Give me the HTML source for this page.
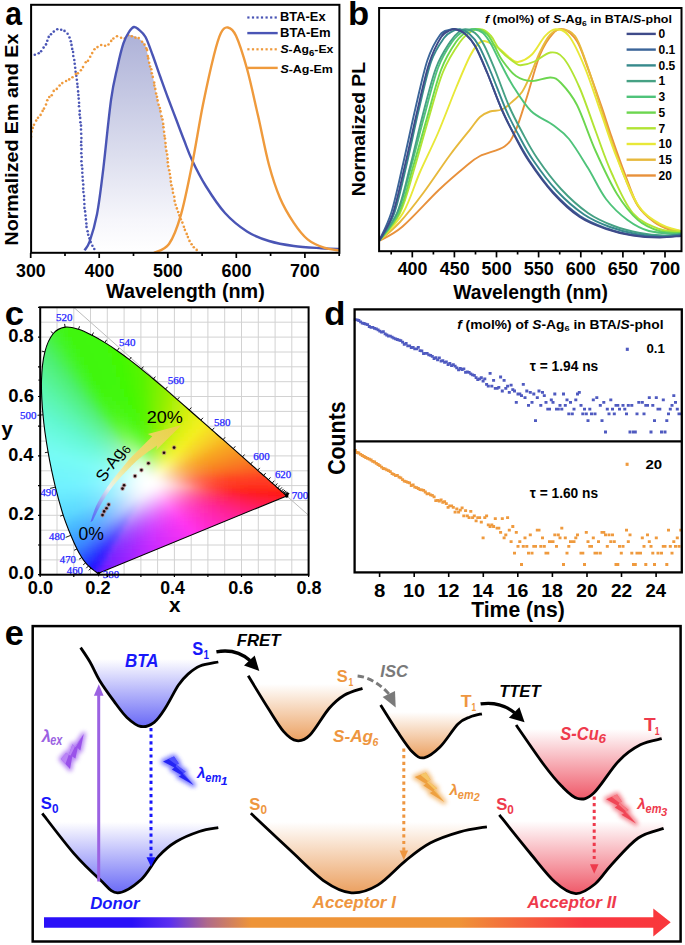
<!DOCTYPE html>
<html><head><meta charset="utf-8"><style>
html,body{margin:0;padding:0;background:#fff;width:685px;height:945px;overflow:hidden}
svg{display:block;font-family:"Liberation Sans",sans-serif}
</style></head><body>
<svg width="685" height="945" viewBox="0 0 685 945">
<defs><linearGradient id="ga" x1="0" y1="0" x2="0" y2="1"><stop offset="0" stop-color="#aeb2d8"/><stop offset="0.55" stop-color="#dcdeee"/><stop offset="0.85" stop-color="#f6f6fb"/><stop offset="1" stop-color="#ffffff"/></linearGradient><clipPath id="cpa"><rect x="31.1" y="4.8" width="308.3" height="248"/></clipPath></defs>
<g clip-path="url(#cpa)">
<path d="M85 249.7 86 248.5 87 247.1 88 245.4 89 243.2 90 240.4 91 237.4 92 234.3 93 231 94 227.4 95 223.5 96 219.2 97 214.3 98 208.7 99 202.3 100 195.1 101 187.4 102 179.4 103 171.2 104 162.8 105 153.8 106 144.5 107 135 108 125.7 109 116.6 110 108 111 100.1 112 93.3 113 87.3 114 82.1 115 77.5 116 73.2 117 68.9 118 64.4 119 60 120 55.7 121 51.7 122 48 123 44.6 124 41.7 125 39.2 126 37.1 127 36.2 128 35.6 129 35.2 130 35 131 35.1 132 35.3 133 35.7 134 36.1 135 36.6 136 37.2 137 37.8 138 38.4 139 39 140 39.6 141 40.3 142 41 143 41.9 144 42.9 145 44.3 146 47.2 147 51.7 148 56.3 149 61.1 150 65.8 151 70 152 73.8 153 77.7 154 82.1 155 87.1 156 92.4 157 97.3 158 101.6 159 105.4 160 109.2 161 113.3 162 118 163 123.7 164 130.8 165 138.7 166 147 167 155.2 168 162.9 169 169.6 170 175.6 171 181.3 172 186.8 173 191.9 174 196.7 175 201.2 176 205.3 177 209.1 178 212.3 179 215.2 180 217.7 181 220 182 222.3 183 224.5 184 226.9 185 229.5 186 232.1 187 234.6 188 237.1 189 239.4 190 241.6 191 243.5 192 245.1 193 246.3 194 247.4 195 248.4 196 249.2 197 250 198 250.8 L198 252.8 L85 252.8 Z" fill="url(#ga)"/>
<circle cx="30.8" cy="55" r="1.3" fill="#4a55b5"/>
<circle cx="34.8" cy="54.8" r="1.3" fill="#4a55b5"/>
<circle cx="38.7" cy="53.2" r="1.3" fill="#4a55b5"/>
<circle cx="41.1" cy="51.2" r="1.3" fill="#4a55b5"/>
<circle cx="43.6" cy="47.6" r="1.3" fill="#4a55b5"/>
<circle cx="46" cy="44.4" r="1.3" fill="#4a55b5"/>
<circle cx="47.3" cy="40.7" r="1.3" fill="#4a55b5"/>
<circle cx="48.7" cy="36.9" r="1.3" fill="#4a55b5"/>
<circle cx="51" cy="34.3" r="1.3" fill="#4a55b5"/>
<circle cx="53.8" cy="31.6" r="1.3" fill="#4a55b5"/>
<circle cx="57.3" cy="29.3" r="1.3" fill="#4a55b5"/>
<circle cx="61.2" cy="29.7" r="1.3" fill="#4a55b5"/>
<circle cx="64.5" cy="30.9" r="1.3" fill="#4a55b5"/>
<circle cx="67.6" cy="33.8" r="1.3" fill="#4a55b5"/>
<circle cx="69.5" cy="37.5" r="1.3" fill="#4a55b5"/>
<circle cx="70.8" cy="41.2" r="1.3" fill="#4a55b5"/>
<circle cx="71.5" cy="44.9" r="1.3" fill="#4a55b5"/>
<circle cx="72.2" cy="48.9" r="1.3" fill="#4a55b5"/>
<circle cx="73.1" cy="52" r="1.3" fill="#4a55b5"/>
<circle cx="73.3" cy="56" r="1.3" fill="#4a55b5"/>
<circle cx="74.3" cy="60" r="1.3" fill="#4a55b5"/>
<circle cx="74.7" cy="63.8" r="1.3" fill="#4a55b5"/>
<circle cx="75.2" cy="67.7" r="1.3" fill="#4a55b5"/>
<circle cx="75.6" cy="71.7" r="1.3" fill="#4a55b5"/>
<circle cx="76.3" cy="75.8" r="1.3" fill="#4a55b5"/>
<circle cx="76.8" cy="79.7" r="1.3" fill="#4a55b5"/>
<circle cx="77.3" cy="83.7" r="1.3" fill="#4a55b5"/>
<circle cx="77.6" cy="86.9" r="1.3" fill="#4a55b5"/>
<circle cx="78.1" cy="91.4" r="1.3" fill="#4a55b5"/>
<circle cx="78.4" cy="95" r="1.3" fill="#4a55b5"/>
<circle cx="78.7" cy="98.6" r="1.3" fill="#4a55b5"/>
<circle cx="79.1" cy="102.7" r="1.3" fill="#4a55b5"/>
<circle cx="79" cy="106.2" r="1.3" fill="#4a55b5"/>
<circle cx="79.7" cy="110.9" r="1.3" fill="#4a55b5"/>
<circle cx="79.6" cy="114.6" r="1.3" fill="#4a55b5"/>
<circle cx="80.2" cy="117.9" r="1.3" fill="#4a55b5"/>
<circle cx="80.4" cy="122.3" r="1.3" fill="#4a55b5"/>
<circle cx="81" cy="125.6" r="1.3" fill="#4a55b5"/>
<circle cx="81" cy="129.5" r="1.3" fill="#4a55b5"/>
<circle cx="81.2" cy="133.7" r="1.3" fill="#4a55b5"/>
<circle cx="81.4" cy="138.1" r="1.3" fill="#4a55b5"/>
<circle cx="81.2" cy="141.9" r="1.3" fill="#4a55b5"/>
<circle cx="81.2" cy="145.2" r="1.3" fill="#4a55b5"/>
<circle cx="81.5" cy="149.1" r="1.3" fill="#4a55b5"/>
<circle cx="81.3" cy="153.2" r="1.3" fill="#4a55b5"/>
<circle cx="81.7" cy="157" r="1.3" fill="#4a55b5"/>
<circle cx="81.4" cy="161.3" r="1.3" fill="#4a55b5"/>
<circle cx="81.8" cy="165.3" r="1.3" fill="#4a55b5"/>
<circle cx="82.3" cy="168.8" r="1.3" fill="#4a55b5"/>
<circle cx="82.3" cy="172.8" r="1.3" fill="#4a55b5"/>
<circle cx="82.6" cy="176.7" r="1.3" fill="#4a55b5"/>
<circle cx="82.8" cy="180.6" r="1.3" fill="#4a55b5"/>
<circle cx="83.3" cy="184.5" r="1.3" fill="#4a55b5"/>
<circle cx="83.2" cy="188.5" r="1.3" fill="#4a55b5"/>
<circle cx="83.4" cy="192.1" r="1.3" fill="#4a55b5"/>
<circle cx="84.1" cy="196.1" r="1.3" fill="#4a55b5"/>
<circle cx="84.1" cy="199.7" r="1.3" fill="#4a55b5"/>
<circle cx="84.4" cy="204" r="1.3" fill="#4a55b5"/>
<circle cx="84.4" cy="207.9" r="1.3" fill="#4a55b5"/>
<circle cx="85.1" cy="211.4" r="1.3" fill="#4a55b5"/>
<circle cx="85.5" cy="215.5" r="1.3" fill="#4a55b5"/>
<circle cx="85.9" cy="219.4" r="1.3" fill="#4a55b5"/>
<circle cx="86.4" cy="223.5" r="1.3" fill="#4a55b5"/>
<circle cx="86.5" cy="226.9" r="1.3" fill="#4a55b5"/>
<circle cx="87.6" cy="231.3" r="1.3" fill="#4a55b5"/>
<circle cx="88.2" cy="234.8" r="1.3" fill="#4a55b5"/>
<circle cx="89.5" cy="238.4" r="1.3" fill="#4a55b5"/>
<circle cx="90.7" cy="242.1" r="1.3" fill="#4a55b5"/>
<circle cx="92.4" cy="245.8" r="1.3" fill="#4a55b5"/>
<circle cx="94.3" cy="249" r="1.3" fill="#4a55b5"/>
<circle cx="30.7" cy="139.7" r="1.3" fill="#ef9a3c"/>
<circle cx="31.1" cy="136.7" r="1.3" fill="#ef9a3c"/>
<circle cx="31.6" cy="131.6" r="1.3" fill="#ef9a3c"/>
<circle cx="32.8" cy="127.9" r="1.3" fill="#ef9a3c"/>
<circle cx="34" cy="124.8" r="1.3" fill="#ef9a3c"/>
<circle cx="36.2" cy="120.6" r="1.3" fill="#ef9a3c"/>
<circle cx="38" cy="117.8" r="1.3" fill="#ef9a3c"/>
<circle cx="40.6" cy="114.9" r="1.3" fill="#ef9a3c"/>
<circle cx="42.6" cy="110.9" r="1.3" fill="#ef9a3c"/>
<circle cx="44" cy="108.6" r="1.3" fill="#ef9a3c"/>
<circle cx="46" cy="104.5" r="1.3" fill="#ef9a3c"/>
<circle cx="47.3" cy="100.2" r="1.3" fill="#ef9a3c"/>
<circle cx="49.3" cy="97" r="1.3" fill="#ef9a3c"/>
<circle cx="51.7" cy="95.3" r="1.3" fill="#ef9a3c"/>
<circle cx="53.7" cy="90.9" r="1.3" fill="#ef9a3c"/>
<circle cx="56.8" cy="88.9" r="1.3" fill="#ef9a3c"/>
<circle cx="59.6" cy="85.5" r="1.3" fill="#ef9a3c"/>
<circle cx="62.3" cy="83.1" r="1.3" fill="#ef9a3c"/>
<circle cx="66.1" cy="81" r="1.3" fill="#ef9a3c"/>
<circle cx="69.2" cy="79.4" r="1.3" fill="#ef9a3c"/>
<circle cx="72.5" cy="77.2" r="1.3" fill="#ef9a3c"/>
<circle cx="75.8" cy="74.1" r="1.3" fill="#ef9a3c"/>
<circle cx="77.9" cy="73.2" r="1.3" fill="#ef9a3c"/>
<circle cx="80.9" cy="70.3" r="1.3" fill="#ef9a3c"/>
<circle cx="83" cy="67.1" r="1.3" fill="#ef9a3c"/>
<circle cx="85.7" cy="62.3" r="1.3" fill="#ef9a3c"/>
<circle cx="88" cy="60.7" r="1.3" fill="#ef9a3c"/>
<circle cx="90.2" cy="56.7" r="1.3" fill="#ef9a3c"/>
<circle cx="92.2" cy="53.1" r="1.3" fill="#ef9a3c"/>
<circle cx="94.5" cy="49.3" r="1.3" fill="#ef9a3c"/>
<circle cx="97.5" cy="47.1" r="1.3" fill="#ef9a3c"/>
<circle cx="101.2" cy="45" r="1.3" fill="#ef9a3c"/>
<circle cx="105.1" cy="45.8" r="1.3" fill="#ef9a3c"/>
<circle cx="108.5" cy="44.5" r="1.3" fill="#ef9a3c"/>
<circle cx="111.2" cy="40.9" r="1.3" fill="#ef9a3c"/>
<circle cx="113.4" cy="38.5" r="1.3" fill="#ef9a3c"/>
<circle cx="117" cy="36.3" r="1.3" fill="#ef9a3c"/>
<circle cx="121.1" cy="37.8" r="1.3" fill="#ef9a3c"/>
<circle cx="124.8" cy="38.6" r="1.3" fill="#ef9a3c"/>
<circle cx="128.2" cy="35.1" r="1.3" fill="#ef9a3c"/>
<circle cx="131.8" cy="36.2" r="1.3" fill="#ef9a3c"/>
<circle cx="135.4" cy="37.6" r="1.3" fill="#ef9a3c"/>
<circle cx="138.7" cy="38.1" r="1.3" fill="#ef9a3c"/>
<circle cx="142.1" cy="41.8" r="1.3" fill="#ef9a3c"/>
<circle cx="144.5" cy="44.6" r="1.3" fill="#ef9a3c"/>
<circle cx="146.3" cy="48.2" r="1.3" fill="#ef9a3c"/>
<circle cx="147.1" cy="50.1" r="1.3" fill="#ef9a3c"/>
<circle cx="147.8" cy="56" r="1.3" fill="#ef9a3c"/>
<circle cx="148.3" cy="58.4" r="1.3" fill="#ef9a3c"/>
<circle cx="149.2" cy="62.8" r="1.3" fill="#ef9a3c"/>
<circle cx="150.1" cy="66.5" r="1.3" fill="#ef9a3c"/>
<circle cx="151.3" cy="69.2" r="1.3" fill="#ef9a3c"/>
<circle cx="151.8" cy="73.2" r="1.3" fill="#ef9a3c"/>
<circle cx="152.8" cy="76.9" r="1.3" fill="#ef9a3c"/>
<circle cx="154.2" cy="82.6" r="1.3" fill="#ef9a3c"/>
<circle cx="154.4" cy="85.5" r="1.3" fill="#ef9a3c"/>
<circle cx="155.3" cy="88.9" r="1.3" fill="#ef9a3c"/>
<circle cx="156.1" cy="93.5" r="1.3" fill="#ef9a3c"/>
<circle cx="157" cy="96.7" r="1.3" fill="#ef9a3c"/>
<circle cx="157.6" cy="100.4" r="1.3" fill="#ef9a3c"/>
<circle cx="158.6" cy="104.7" r="1.3" fill="#ef9a3c"/>
<circle cx="159.9" cy="108.1" r="1.3" fill="#ef9a3c"/>
<circle cx="160.5" cy="111.4" r="1.3" fill="#ef9a3c"/>
<circle cx="161.5" cy="116.2" r="1.3" fill="#ef9a3c"/>
<circle cx="162.5" cy="119.5" r="1.3" fill="#ef9a3c"/>
<circle cx="163.2" cy="123.9" r="1.3" fill="#ef9a3c"/>
<circle cx="163.5" cy="127.2" r="1.3" fill="#ef9a3c"/>
<circle cx="164.1" cy="131.8" r="1.3" fill="#ef9a3c"/>
<circle cx="164.5" cy="135.7" r="1.3" fill="#ef9a3c"/>
<circle cx="165" cy="138.5" r="1.3" fill="#ef9a3c"/>
<circle cx="165.5" cy="143.1" r="1.3" fill="#ef9a3c"/>
<circle cx="165.7" cy="146.8" r="1.3" fill="#ef9a3c"/>
<circle cx="166.4" cy="150.9" r="1.3" fill="#ef9a3c"/>
<circle cx="167.2" cy="154.5" r="1.3" fill="#ef9a3c"/>
<circle cx="167.6" cy="158.6" r="1.3" fill="#ef9a3c"/>
<circle cx="167.8" cy="162.3" r="1.3" fill="#ef9a3c"/>
<circle cx="168.2" cy="166.3" r="1.3" fill="#ef9a3c"/>
<circle cx="169.2" cy="170.2" r="1.3" fill="#ef9a3c"/>
<circle cx="169.9" cy="174" r="1.3" fill="#ef9a3c"/>
<circle cx="170.5" cy="177.7" r="1.3" fill="#ef9a3c"/>
<circle cx="170.8" cy="181.6" r="1.3" fill="#ef9a3c"/>
<circle cx="171.4" cy="185.2" r="1.3" fill="#ef9a3c"/>
<circle cx="172.6" cy="188.9" r="1.3" fill="#ef9a3c"/>
<circle cx="173" cy="192.8" r="1.3" fill="#ef9a3c"/>
<circle cx="174.3" cy="196.7" r="1.3" fill="#ef9a3c"/>
<circle cx="174.6" cy="200.9" r="1.3" fill="#ef9a3c"/>
<circle cx="175.6" cy="204.7" r="1.3" fill="#ef9a3c"/>
<circle cx="176.9" cy="208.4" r="1.3" fill="#ef9a3c"/>
<circle cx="178.2" cy="212" r="1.3" fill="#ef9a3c"/>
<circle cx="179.4" cy="215.4" r="1.3" fill="#ef9a3c"/>
<circle cx="180.8" cy="219.3" r="1.3" fill="#ef9a3c"/>
<circle cx="182.4" cy="222.6" r="1.3" fill="#ef9a3c"/>
<circle cx="183.9" cy="226.7" r="1.3" fill="#ef9a3c"/>
<circle cx="184.9" cy="229.9" r="1.3" fill="#ef9a3c"/>
<circle cx="186.7" cy="233.9" r="1.3" fill="#ef9a3c"/>
<circle cx="187.9" cy="237.1" r="1.3" fill="#ef9a3c"/>
<circle cx="189.5" cy="240.9" r="1.3" fill="#ef9a3c"/>
<circle cx="191.6" cy="244.2" r="1.3" fill="#ef9a3c"/>
<circle cx="193.8" cy="247.3" r="1.3" fill="#ef9a3c"/>
<circle cx="196.7" cy="249.9" r="1.3" fill="#ef9a3c"/>
<path d="M84.6 250.3C85.4 248.9 87.5 247.6 89.6 241.6C91.7 235.6 94.7 226.3 97 214.3C99.3 202.3 100.9 188.8 103.2 169.6C105.5 150.4 108.7 116.6 111.1 99.4C113.5 82.2 115.5 76 117.5 66.7C119.5 57.4 121.5 49.2 123.4 43.4C125.4 37.6 127.4 34.4 129.2 31.7C130.9 29 132.3 27.4 133.9 27C135.5 26.6 136.6 27.6 138.5 29.3C140.4 31 143.2 32.7 145.5 37C147.8 41.3 150.2 48.5 152.6 55C155 61.5 157.4 68.8 160 76C162.6 83.2 165.3 90.8 168 98C170.7 105.2 173.3 112 176 119C178.7 126 181.3 133.2 184 140C186.7 146.8 188.4 152.3 192 160C195.6 167.7 200.3 177.2 205.8 186C211.3 194.8 218.1 205.4 225 213C231.9 220.6 239.7 226.8 247 231.5C254.3 236.2 261.2 238.6 269 241C276.8 243.4 285.1 244.8 293.8 246C302.5 247.2 313.8 247.7 321.3 248.2C328.8 248.7 336.1 248.9 339 249" fill="none" stroke="#4a55b5" stroke-width="2.4" stroke-linejoin="round"/>
<path d="M154.1 252.8C156.6 251.3 164.5 250.4 169 244C173.5 237.6 177.2 227.8 181 214.6C184.8 201.4 188.3 183.3 192 165C195.7 146.7 199.3 122.9 203 104.6C206.7 86.3 211 66.9 214 55C217 43.1 218.6 37.6 220.9 33C223.2 28.4 225.3 27 227.8 27.5C230.3 28 232.8 28.9 236 35.8C239.2 42.7 243.3 55.5 247 68.8C250.7 82.1 254.3 99.6 258 115.6C261.7 131.6 265.3 151.3 269 165C272.7 178.7 275.9 188.3 280 198C284.1 207.7 289.2 216 293.8 222.9C298.4 229.8 302.6 235.3 307.6 239.4C312.6 243.5 318.8 245.9 324 247.7C329.2 249.5 336.5 249.9 339 250.4" fill="none" stroke="#ef9a3c" stroke-width="2.4" stroke-linejoin="round"/>
</g>
<rect x="31.1" y="4.8" width="308.3" height="248" fill="none" stroke="#000" stroke-width="2"/>
<line x1="30.7" y1="252.8" x2="30.7" y2="258" stroke="#000" stroke-width="1.7"/>
<line x1="65" y1="252.8" x2="65" y2="256" stroke="#000" stroke-width="1.7"/>
<line x1="99.2" y1="252.8" x2="99.2" y2="258" stroke="#000" stroke-width="1.7"/>
<line x1="133.5" y1="252.8" x2="133.5" y2="256" stroke="#000" stroke-width="1.7"/>
<line x1="167.8" y1="252.8" x2="167.8" y2="258" stroke="#000" stroke-width="1.7"/>
<line x1="202.1" y1="252.8" x2="202.1" y2="256" stroke="#000" stroke-width="1.7"/>
<line x1="236.3" y1="252.8" x2="236.3" y2="258" stroke="#000" stroke-width="1.7"/>
<line x1="270.6" y1="252.8" x2="270.6" y2="256" stroke="#000" stroke-width="1.7"/>
<line x1="304.9" y1="252.8" x2="304.9" y2="258" stroke="#000" stroke-width="1.7"/>
<line x1="339.2" y1="252.8" x2="339.2" y2="256" stroke="#000" stroke-width="1.7"/>
<text x="16.06" y="277.02" font-size="18.03" font-weight="bold" textLength="29.62" lengthAdjust="spacingAndGlyphs">300</text>
<text x="84.79" y="277.02" font-size="18.03" font-weight="bold" textLength="29.43" lengthAdjust="spacingAndGlyphs">400</text>
<text x="153.07" y="277.02" font-size="18.03" font-weight="bold" textLength="29.71" lengthAdjust="spacingAndGlyphs">500</text>
<text x="221.52" y="277.02" font-size="18.03" font-weight="bold" textLength="29.80" lengthAdjust="spacingAndGlyphs">600</text>
<text x="289.89" y="277.02" font-size="18.03" font-weight="bold" textLength="29.99" lengthAdjust="spacingAndGlyphs">700</text>
<text x="106.10" y="298.47" font-size="20.64" font-weight="bold" textLength="158.66" lengthAdjust="spacingAndGlyphs">Wavelength (nm)</text>
<text transform="translate(17.61 245.48) rotate(-90)" font-size="18.64" font-weight="bold" textLength="211.79" lengthAdjust="spacingAndGlyphs">Normalized Em and Ex</text>
<text x="5.20" y="25.37" font-size="33.45" font-weight="bold" textLength="16.74" lengthAdjust="spacingAndGlyphs">a</text>
<rect x="247.3" y="16.4" width="2.2" height="2.2" fill="#4a55b5"/>
<rect x="251.9" y="16.4" width="2.2" height="2.2" fill="#4a55b5"/>
<rect x="256.4" y="16.4" width="2.2" height="2.2" fill="#4a55b5"/>
<rect x="260.9" y="16.4" width="2.2" height="2.2" fill="#4a55b5"/>
<rect x="265.5" y="16.4" width="2.2" height="2.2" fill="#4a55b5"/>
<rect x="270.1" y="16.4" width="2.2" height="2.2" fill="#4a55b5"/>
<rect x="274.6" y="16.4" width="2.2" height="2.2" fill="#4a55b5"/>
<rect x="247.3" y="48.2" width="2.2" height="2.2" fill="#ef9a3c"/>
<rect x="251.9" y="48.2" width="2.2" height="2.2" fill="#ef9a3c"/>
<rect x="256.4" y="48.2" width="2.2" height="2.2" fill="#ef9a3c"/>
<rect x="260.9" y="48.2" width="2.2" height="2.2" fill="#ef9a3c"/>
<rect x="265.5" y="48.2" width="2.2" height="2.2" fill="#ef9a3c"/>
<rect x="270.1" y="48.2" width="2.2" height="2.2" fill="#ef9a3c"/>
<rect x="274.6" y="48.2" width="2.2" height="2.2" fill="#ef9a3c"/>
<line x1="247.3" y1="33.1" x2="277.7" y2="33.1" stroke="#4a55b5" stroke-width="2.4"/>
<line x1="247.3" y1="67.9" x2="277.7" y2="67.9" stroke="#ef9a3c" stroke-width="2.4"/>
<text x="280.06" y="21.40" font-size="12.03" font-weight="bold" textLength="45.49" lengthAdjust="spacingAndGlyphs">BTA-Ex</text>
<text x="280.05" y="37.20" font-size="12.75" font-weight="bold" textLength="50.60" lengthAdjust="spacingAndGlyphs">BTA-Em</text>
<text x="280.4" y="52.5" font-size="11.6" font-weight="bold" textLength="53" lengthAdjust="spacingAndGlyphs"><tspan font-style="italic">S</tspan>-Ag<tspan font-size="9" dy="3.2">6</tspan><tspan dy="-3.2">-Ex</tspan></text>
<text x="280.4" y="73" font-size="11.6" font-weight="bold" textLength="52.5" lengthAdjust="spacingAndGlyphs"><tspan font-style="italic">S</tspan>-Ag-Em</text>
<defs><clipPath id="cpb"><rect x="379.1" y="8" width="302.4" height="243.2"/></clipPath></defs>
<g clip-path="url(#cpb)" fill="none" stroke-width="1.9" stroke-linejoin="round">
<path d="M379 241C382.9 238.6 392.3 235.2 402.3 226.7C412.3 218.2 428.4 199.9 438.8 190C449.2 180.1 458.1 172.7 465 167C471.9 161.3 473.4 159.4 480 156C486.6 152.6 498.6 150.7 504.5 146.5C510.4 142.3 511.7 139.1 515.4 131C519.1 122.9 522.5 110.7 526.6 98C530.7 85.3 535.5 65.8 539.9 55C544.3 44.2 549.1 37.6 553.1 33.3C557.1 29 559.8 28 563.8 29.3C567.8 30.6 573 34.9 577 41.3C581 47.7 583.7 57.2 587.7 67.8C591.7 78.4 597 93.5 601 105C605 116.5 607.6 125.4 611.6 136.9C615.6 148.4 620.5 162.5 624.9 174C629.3 185.5 633.2 198 638.1 206C643 214 648.7 217.9 654 221.9C659.3 225.9 665.5 228.2 670 229.9C674.5 231.6 679.2 231.7 681 232" stroke="#e8913b"/>
<path d="M379 241C382.5 237.8 392.5 230.2 400 222C407.5 213.8 415.7 203.2 424 192C432.3 180.8 442.3 165.4 450 155C457.7 144.6 465 135.9 470 129.6C475 123.3 476.7 120 480 117C483.3 114 486.3 112.8 490 111.5C493.7 110.2 498.2 111.2 502 109.5C505.8 107.8 509.7 103.9 513 101C516.3 98.1 519.2 96.2 522 92C524.8 87.8 527 82.7 530 76C533 69.3 536.7 58.8 540 52C543.3 45.2 546.5 38.8 550 35C553.5 31.2 556.8 29 561 29.2C565.2 29.4 570.8 30.5 575 36C579.2 41.5 581.8 50.5 586 62C590.2 73.5 595.7 91.7 600 105C604.3 118.3 607.8 129.8 612 142C616.2 154.2 620.7 167.3 625 178C629.3 188.7 633 198.7 638 206C643 213.3 649.7 218.2 655 222C660.3 225.8 665.7 227.5 670 229C674.3 230.5 679.2 230.7 681 231" stroke="#e7b93c"/>
<path d="M379 241C383 236.3 396.2 224.5 403 213C409.8 201.5 414.2 185.3 420 172C425.8 158.7 432 147 438 133C444 119 450.7 100.8 456 88C461.3 75.2 466.3 63.3 470 56C473.7 48.7 475.7 46.5 478 44C480.3 41.5 481.7 41 484 41C486.3 41 489.3 42.6 492 44C494.7 45.4 497 46.9 500 49.2C503 51.5 507 55.9 510 58C513 60.1 514.4 62.6 518 62C521.6 61.4 527.4 58.9 531.9 54.5C536.4 50.1 541.2 40.1 545.2 35.9C549.2 31.7 551.8 29.3 555.8 29.3C559.8 29.3 564.1 29.6 569 36C573.9 42.4 579.7 55 585 67.8C590.3 80.6 595.7 98 601 113C606.3 128 610.7 142.7 616.9 158C623.1 173.3 630.9 194.1 638 205C645.1 215.9 652.2 219.2 659.4 223.5C666.6 227.8 677.4 229.8 681 231" stroke="#e8e838"/>
<path d="M379 241C382.5 236.3 394.1 225.2 400 213C405.9 200.8 409.8 183.7 414.5 168C419.2 152.3 423.8 135 428.5 119C433.2 103 437.8 84.8 443 72C448.2 59.2 455.2 48.8 460 42C464.8 35.2 468.3 33.1 472 31C475.7 28.9 478.8 28.7 482 29.5C485.2 30.3 488 32.6 491 36C494 39.4 495.8 45.4 500 50C504.2 54.6 512.3 61 516 63.5C519.7 66 518.9 65.3 522 65C525.1 64.7 529.8 63.6 534.5 61.5C539.2 59.4 545.6 53 550.5 52.5C555.4 52 558.9 52.6 563.8 58.5C568.7 64.4 574.4 75.9 579.7 88C585 100.1 590.3 116.8 595.6 131C600.9 145.2 605.4 159.3 611.6 173C617.8 186.7 624.8 203.7 632.8 213C640.8 222.3 651.4 225.9 659.4 229C667.4 232.1 677.4 231.1 681 231.5" stroke="#b2e434"/>
<path d="M379 241C382.3 236.3 393.3 225.3 399 213C404.7 200.7 408.3 182.8 413 167C417.7 151.2 422.3 134.2 427 118C431.7 101.8 436.2 82.7 441 70C445.8 57.3 451.5 48.5 456 42C460.5 35.5 464.3 33.1 468 31C471.7 28.9 474.8 28.7 478 29.2C481.2 29.7 484.3 31.4 487 34C489.7 36.6 491.5 40.7 494 45C496.5 49.3 498.3 54.8 502 60C505.7 65.2 511 72.5 516 76C521 79.5 526.2 80.8 532 81C537.8 81.2 545.7 77.2 550.5 77.5C555.3 77.8 556.6 78.4 561 83C565.4 87.6 571.2 93.7 577 105C582.8 116.3 588.9 136.2 595.6 151C602.3 165.8 609.9 182.5 617 194C624.1 205.5 630.9 213.8 638 220C645.1 226.2 652.2 228.8 659.4 231C666.6 233.2 677.4 232.7 681 233" stroke="#6cd64f"/>
<path d="M379 241C382.1 236.3 392.2 225.3 397.5 213C402.8 200.7 406.6 183 411 167C415.4 151 419.5 133.5 424 117C428.5 100.5 433.3 80.5 438 68C442.7 55.5 447.7 48.2 452 42C456.3 35.8 460.3 33.1 464 31C467.7 28.9 470.8 28.9 474 29.2C477.2 29.5 480.2 30.5 483 33C485.8 35.5 488.2 39.2 491 44C493.8 48.8 496.3 55 500 62C503.7 69 507.8 77.8 513 86C518.2 94.2 524.3 104.5 531 111C537.7 117.5 546.7 120.3 553 125C559.3 129.7 563.2 131.8 569 139C574.8 146.2 581.8 158 588 168C594.2 178 599.4 190.3 606 199C612.6 207.7 620.3 214.7 627.5 220C634.7 225.3 640.1 228.6 649 231C657.9 233.4 675.7 233.9 681 234.5" stroke="#4fc37a"/>
<path d="M379 241C382 236.3 391.8 225.3 397 213C402.2 200.7 405.8 183.2 410 167C414.2 150.8 418.2 132.5 422.5 116C426.8 99.5 431.4 80.3 436 68C440.6 55.7 446 48.2 450 42C454 35.8 457.3 33.1 460 31C462.7 28.9 463.5 28.9 466 29.2C468.5 29.5 472 30.4 475 33C478 35.6 480.7 38.8 484 45C487.3 51.2 490.8 59.8 495 70C499.2 80.2 504.5 95.7 509 106C513.5 116.3 517.3 123.3 522 132C526.7 140.7 530.5 148.5 537 158C543.5 167.5 552.5 179.8 561 189C569.5 198.2 579.2 206.8 588 213C596.8 219.2 605.3 222.7 614 226C622.7 229.3 631.7 231.4 640 233C648.3 234.6 657.2 235.3 664 235.5C670.8 235.7 678.2 234.2 681 234" stroke="#46a184"/>
<path d="M379 241C381.5 236.5 389.4 226.7 394 214C398.6 201.3 402.4 182.2 406.5 165C410.6 147.8 414.4 128.2 418.5 111C422.6 93.8 426.8 74.2 431 62C435.2 49.8 440.3 43.2 444 38C447.7 32.8 450.3 32.5 453 31C455.7 29.5 457.3 28.8 460 29.2C462.7 29.6 465.8 30.7 469 33.5C472.2 36.3 475.3 39.5 479 46C482.7 52.5 486.5 61.8 491 72.5C495.5 83.2 501.5 99.8 506 110C510.5 120.2 513.5 125.7 518 134C522.5 142.3 526.5 150.5 533 160C539.5 169.5 548.5 181.9 557 191C565.5 200.1 575.2 208.5 584 214.5C592.8 220.5 601.3 223.8 610 227C618.7 230.2 627.3 232.4 636 234C644.7 235.6 654.5 236.4 662 236.5C669.5 236.6 677.8 234.8 681 234.5" stroke="#378a8c"/>
<path d="M379 241C381.1 236.2 387.4 225.2 391.5 212C395.6 198.8 399.5 179.3 403.5 162C407.5 144.7 411.5 125 415.5 108C419.5 91 423.4 72.2 427.5 60C431.6 47.8 436.4 40 440 35C443.6 30 446.5 31 449 30C451.5 29 452.3 28.6 455 29.2C457.7 29.8 461.7 30.8 465 33.5C468.3 36.2 471.3 39.1 475 45.5C478.7 51.9 482.6 61.4 487 72C491.4 82.6 497 98.7 501.5 109C506 119.3 509.4 125.5 514 134C518.6 142.5 522.5 150.3 529 160C535.5 169.7 544.5 182.7 553 192C561.5 201.3 571 209.9 580 216C589 222.1 598.2 225.3 607 228.5C615.8 231.7 624.3 233.6 633 235C641.7 236.4 651 236.9 659 237C667 237.1 677.3 235.8 681 235.5" stroke="#3b6599"/>
<path d="M379 241C381.3 236.6 388.3 227.1 392.6 214.6C396.9 202.1 400.8 182.9 404.8 165.9C408.9 148.9 412.9 129.4 416.9 112.4C420.9 95.4 424.9 76.4 429 63.8C433.1 51.2 437.7 42.5 441.2 37C444.7 31.4 447.5 31.8 450 30.5C452.5 29.2 453.4 28.6 456 29.2C458.6 29.8 462.3 31.3 465.5 34.2C468.7 37.1 471.7 40 475.3 46.5C478.9 53 482.9 62.9 487.4 73.5C491.8 84.1 497.5 99.8 502 110C506.5 120.2 509.7 126.5 514.2 135C518.7 143.5 522.3 151.3 528.8 161C535.3 170.7 544.5 183.7 553 193C561.5 202.3 570.8 211 579.7 217C588.6 223 597.4 225.9 606.3 229C615.1 232.1 623.9 234.1 632.8 235.5C641.6 236.9 651.4 237.4 659.4 237.5C667.4 237.6 677.4 236.2 681 236" stroke="#3e4a89"/>
</g>
<rect x="379.1" y="8" width="302.4" height="243.2" fill="none" stroke="#000" stroke-width="2"/>
<line x1="391.2" y1="251.2" x2="391.2" y2="254.5" stroke="#000" stroke-width="1.7"/>
<line x1="412.3" y1="251.2" x2="412.3" y2="257.4" stroke="#000" stroke-width="1.7"/>
<line x1="433.4" y1="251.2" x2="433.4" y2="254.5" stroke="#000" stroke-width="1.7"/>
<line x1="454.4" y1="251.2" x2="454.4" y2="257.4" stroke="#000" stroke-width="1.7"/>
<line x1="475.5" y1="251.2" x2="475.5" y2="254.5" stroke="#000" stroke-width="1.7"/>
<line x1="496.5" y1="251.2" x2="496.5" y2="257.4" stroke="#000" stroke-width="1.7"/>
<line x1="517.6" y1="251.2" x2="517.6" y2="254.5" stroke="#000" stroke-width="1.7"/>
<line x1="538.6" y1="251.2" x2="538.6" y2="257.4" stroke="#000" stroke-width="1.7"/>
<line x1="559.7" y1="251.2" x2="559.7" y2="254.5" stroke="#000" stroke-width="1.7"/>
<line x1="580.8" y1="251.2" x2="580.8" y2="257.4" stroke="#000" stroke-width="1.7"/>
<line x1="601.8" y1="251.2" x2="601.8" y2="254.5" stroke="#000" stroke-width="1.7"/>
<line x1="622.9" y1="251.2" x2="622.9" y2="257.4" stroke="#000" stroke-width="1.7"/>
<line x1="643.9" y1="251.2" x2="643.9" y2="254.5" stroke="#000" stroke-width="1.7"/>
<line x1="665" y1="251.2" x2="665" y2="257.4" stroke="#000" stroke-width="1.7"/>
<text x="397.63" y="275.21" font-size="18.59" font-weight="bold" textLength="29.85" lengthAdjust="spacingAndGlyphs">400</text>
<text x="439.75" y="275.21" font-size="18.59" font-weight="bold" textLength="29.85" lengthAdjust="spacingAndGlyphs">450</text>
<text x="481.59" y="275.21" font-size="18.59" font-weight="bold" textLength="30.13" lengthAdjust="spacingAndGlyphs">500</text>
<text x="523.70" y="275.21" font-size="18.59" font-weight="bold" textLength="30.13" lengthAdjust="spacingAndGlyphs">550</text>
<text x="565.73" y="275.21" font-size="18.59" font-weight="bold" textLength="30.22" lengthAdjust="spacingAndGlyphs">600</text>
<text x="607.84" y="275.21" font-size="18.59" font-weight="bold" textLength="30.22" lengthAdjust="spacingAndGlyphs">650</text>
<text x="649.77" y="275.21" font-size="18.59" font-weight="bold" textLength="30.41" lengthAdjust="spacingAndGlyphs">700</text>
<text x="453.20" y="298.77" font-size="20.64" font-weight="bold" textLength="154.64" lengthAdjust="spacingAndGlyphs">Wavelength (nm)</text>
<text transform="translate(364.91 196.16) rotate(-90)" font-size="19.05" font-weight="bold" textLength="134.15" lengthAdjust="spacingAndGlyphs">Normalized PL</text>
<text x="347.95" y="25.17" font-size="33.20" font-weight="bold" textLength="21.17" lengthAdjust="spacingAndGlyphs">b</text>
<text x="484.9" y="22.5" font-size="11.8" font-weight="bold" textLength="187" lengthAdjust="spacingAndGlyphs"><tspan font-style="italic">f</tspan> (mol%) of <tspan font-style="italic">S</tspan>-Ag<tspan font-size="8" dy="3">6</tspan><tspan dy="-3"> in BTA/</tspan><tspan font-style="italic">S</tspan>-phol</text>
<line x1="626.6" y1="33.9" x2="655.8" y2="33.9" stroke="#3e4a89" stroke-width="2.4"/>
<text x="658.6" y="38.2" font-size="12" font-weight="bold">0</text>
<line x1="626.6" y1="49.6" x2="655.8" y2="49.6" stroke="#3b6599" stroke-width="2.4"/>
<text x="658.6" y="53.9" font-size="12" font-weight="bold">0.1</text>
<line x1="626.6" y1="65.4" x2="655.8" y2="65.4" stroke="#378a8c" stroke-width="2.4"/>
<text x="658.6" y="69.7" font-size="12" font-weight="bold">0.5</text>
<line x1="626.6" y1="81.1" x2="655.8" y2="81.1" stroke="#46a184" stroke-width="2.4"/>
<text x="658.6" y="85.4" font-size="12" font-weight="bold">1</text>
<line x1="626.6" y1="96.8" x2="655.8" y2="96.8" stroke="#4fc37a" stroke-width="2.4"/>
<text x="658.6" y="101.1" font-size="12" font-weight="bold">3</text>
<line x1="626.6" y1="112.6" x2="655.8" y2="112.6" stroke="#6cd64f" stroke-width="2.4"/>
<text x="658.6" y="116.9" font-size="12" font-weight="bold">5</text>
<line x1="626.6" y1="128.3" x2="655.8" y2="128.3" stroke="#b2e434" stroke-width="2.4"/>
<text x="658.6" y="132.6" font-size="12" font-weight="bold">7</text>
<line x1="626.6" y1="144" x2="655.8" y2="144" stroke="#e8e838" stroke-width="2.4"/>
<text x="658.6" y="148.3" font-size="12" font-weight="bold">10</text>
<line x1="626.6" y1="159.7" x2="655.8" y2="159.7" stroke="#e7b93c" stroke-width="2.4"/>
<text x="658.6" y="164" font-size="12" font-weight="bold">15</text>
<line x1="626.6" y1="175.5" x2="655.8" y2="175.5" stroke="#e8913b" stroke-width="2.4"/>
<text x="658.6" y="179.8" font-size="12" font-weight="bold">20</text>
<path d="M57 307.3V574.7M73.8 307.3V574.7M90.5 307.3V574.7M107.3 307.3V574.7M124.1 307.3V574.7M140.9 307.3V574.7M157.6 307.3V574.7M174.4 307.3V574.7M191.2 307.3V574.7M207.9 307.3V574.7M224.7 307.3V574.7M241.5 307.3V574.7M258.3 307.3V574.7M275.1 307.3V574.7M291.8 307.3V574.7M40.2 559.9H308.6M40.2 545H308.6M40.2 530.2H308.6M40.2 515.3H308.6M40.2 500.5H308.6M40.2 485.6H308.6M40.2 470.8H308.6M40.2 455.9H308.6M40.2 441.1H308.6M40.2 426.2H308.6M40.2 411.4H308.6M40.2 396.5H308.6M40.2 381.7H308.6M40.2 366.8H308.6M40.2 352H308.6M40.2 337.1H308.6M40.2 322.2H308.6" stroke="#d2d2d2" stroke-width="1" fill="none"/>
<defs><clipPath id="cpc"><rect x="40.2" y="307.3" width="268.4" height="267.4"/></clipPath>
<clipPath id="cploc"><path d="M98.6 573.2C98.6 573.2 98.6 573.2 98.6 573.2C98.6 573.2 98.5 573.2 98.5 573.2C98.5 573.2 98.5 573.2 98.4 573.2C98.4 573.2 98.4 573.3 98.3 573.3C98.3 573.3 98.3 573.3 98.2 573.3C98.2 573.3 98.2 573.3 98.1 573.3C98.1 573.3 98 573.3 97.9 573.3C97.9 573.3 97.8 573.2 97.7 573.2C97.6 573.1 97.5 573.1 97.3 573C97.2 572.9 97.1 572.8 96.9 572.7C96.7 572.5 96.4 572.3 96.2 572.1C95.9 571.9 95.7 571.7 95.4 571.5C95 571.2 94.7 570.9 94.2 570.6C93.8 570.3 93.3 569.9 92.7 569.4C92.2 569 91.6 568.6 90.9 568C90.2 567.4 89.4 566.7 88.5 565.9C87.6 565 86.8 564.2 85.7 562.8C84.5 561.5 83.3 559.9 81.8 557.5C80.4 555.2 78.8 552.6 77 548.9C75.1 545.2 73.1 540.9 70.8 535.3C68.5 529.7 65.8 523.1 63.2 515.1C60.7 507.1 58 497.6 55.4 487.1C52.9 476.6 50.2 464.2 48.1 452.1C46 440.1 44 426.8 43 414.8C41.9 402.8 41.2 390.7 41.5 380.2C41.8 369.7 42.9 359.7 44.9 351.9C46.8 344.1 49.9 337.7 53.3 333.5C56.6 329.4 60.9 327.8 65.1 327.1C69.3 326.4 74 327.9 78.5 329.3C83 330.7 87.7 333.1 92.1 335.3C96.5 337.6 100.7 340 104.9 342.6C109.1 345.1 113.2 347.8 117.2 350.7C121.3 353.5 125.3 356.5 129.4 359.6C133.4 362.7 137.4 365.8 141.4 369.1C145.4 372.3 149.4 375.7 153.4 379C157.4 382.4 161.4 385.8 165.4 389.2C169.4 392.7 173.3 396.1 177.3 399.6C181.3 403 185.3 406.5 189.2 410C193.1 413.4 197 416.8 200.8 420.2C204.7 423.6 208.5 426.9 212.1 430.2C215.8 433.4 219.5 436.7 223 439.7C226.5 442.8 229.9 445.8 233.2 448.7C236.4 451.6 239.6 454.4 242.5 456.9C245.4 459.5 248 461.8 250.6 464.1C253.1 466.3 255.5 468.4 257.7 470.3C259.8 472.2 261.8 473.9 263.6 475.5C265.4 477.1 266.9 478.5 268.4 479.7C269.8 481 271.1 482.1 272.2 483.1C273.3 484.1 274.3 485 275.3 485.8C276.2 486.6 277 487.3 277.7 488C278.4 488.6 279.1 489.2 279.7 489.8C280.4 490.3 280.9 490.8 281.4 491.3C281.9 491.7 282.4 492.1 282.8 492.4C283.2 492.8 283.5 493.1 283.8 493.3C284.1 493.6 284.3 493.8 284.5 494C284.8 494.2 285 494.4 285.1 494.5C285.3 494.6 285.4 494.7 285.5 494.8C285.6 494.9 285.7 495 285.8 495.1C285.9 495.2 285.9 495.2 286 495.3C286.1 495.4 286.2 495.5 286.3 495.5C286.3 495.6 286.4 495.6 286.5 495.7C286.5 495.7 286.6 495.8 286.6 495.8C286.6 495.8 286.6 495.9 286.7 495.9C286.7 495.9 286.7 495.9 286.7 495.9Z"/></clipPath><filter id="blc" x="-5%" y="-5%" width="110%" height="110%"><feGaussianBlur stdDeviation="2.2"/></filter>
<linearGradient id="garr" gradientUnits="userSpaceOnUse" x1="90" y1="522" x2="181" y2="425"><stop offset="0" stop-color="#5060f8"/><stop offset="0.1" stop-color="#7080f4"/><stop offset="0.2" stop-color="#b0b8f0"/><stop offset="0.28" stop-color="#e8f0f0"/><stop offset="0.38" stop-color="#f2f0b8"/><stop offset="0.55" stop-color="#f0dc74"/><stop offset="1" stop-color="#ecce4c"/></linearGradient></defs>
<line x1="73.8" y1="307.4" x2="308.6" y2="515.3" stroke="#b4b4b4" stroke-width="0.9" clip-path="url(#cpc)"/>
<g clip-path="url(#cploc)"><g filter="url(#blc)" shape-rendering="crispEdges"><rect x="59.5" y="321.1" width="4" height="4" fill="#40f613"/><rect x="63.5" y="321.1" width="4" height="4" fill="#40f60f"/><rect x="67.5" y="321.1" width="4" height="4" fill="#40f60e"/><rect x="71.5" y="321.1" width="4" height="4" fill="#40f60d"/><rect x="75.5" y="321.1" width="4" height="4" fill="#41f70c"/><rect x="79.5" y="321.1" width="4" height="4" fill="#41f70b"/><rect x="51.5" y="325.1" width="4" height="4" fill="#43f527"/><rect x="55.5" y="325.1" width="4" height="4" fill="#42f520"/><rect x="59.5" y="325.1" width="4" height="4" fill="#41f617"/><rect x="63.5" y="325.1" width="4" height="4" fill="#40f610"/><rect x="67.5" y="325.1" width="4" height="4" fill="#40f60f"/><rect x="71.5" y="325.1" width="4" height="4" fill="#40f60e"/><rect x="75.5" y="325.1" width="4" height="4" fill="#41f70d"/><rect x="79.5" y="325.1" width="4" height="4" fill="#41f70c"/><rect x="83.5" y="325.1" width="4" height="4" fill="#41f70b"/><rect x="87.5" y="325.1" width="4" height="4" fill="#41f70a"/><rect x="47.5" y="329.1" width="4" height="4" fill="#45f437"/><rect x="51.5" y="329.1" width="4" height="4" fill="#44f42c"/><rect x="55.5" y="329.1" width="4" height="4" fill="#43f524"/><rect x="59.5" y="329.1" width="4" height="4" fill="#42f51c"/><rect x="63.5" y="329.1" width="4" height="4" fill="#40f614"/><rect x="67.5" y="329.1" width="4" height="4" fill="#40f60f"/><rect x="71.5" y="329.1" width="4" height="4" fill="#40f60e"/><rect x="75.5" y="329.1" width="4" height="4" fill="#40f60d"/><rect x="79.5" y="329.1" width="4" height="4" fill="#41f70c"/><rect x="83.5" y="329.1" width="4" height="4" fill="#41f70b"/><rect x="87.5" y="329.1" width="4" height="4" fill="#41f70a"/><rect x="91.5" y="329.1" width="4" height="4" fill="#41f709"/><rect x="95.5" y="329.1" width="4" height="4" fill="#41f708"/><rect x="43.5" y="333.1" width="4" height="4" fill="#48f24a"/><rect x="47.5" y="333.1" width="4" height="4" fill="#46f33f"/><rect x="51.5" y="333.1" width="4" height="4" fill="#44f432"/><rect x="55.5" y="333.1" width="4" height="4" fill="#43f429"/><rect x="59.5" y="333.1" width="4" height="4" fill="#42f521"/><rect x="63.5" y="333.1" width="4" height="4" fill="#41f519"/><rect x="67.5" y="333.1" width="4" height="4" fill="#40f610"/><rect x="71.5" y="333.1" width="4" height="4" fill="#40f60f"/><rect x="75.5" y="333.1" width="4" height="4" fill="#40f60e"/><rect x="79.5" y="333.1" width="4" height="4" fill="#41f70d"/><rect x="83.5" y="333.1" width="4" height="4" fill="#41f70c"/><rect x="87.5" y="333.1" width="4" height="4" fill="#41f70b"/><rect x="91.5" y="333.1" width="4" height="4" fill="#41f70a"/><rect x="95.5" y="333.1" width="4" height="4" fill="#41f708"/><rect x="99.5" y="333.1" width="4" height="4" fill="#41f707"/><rect x="103.5" y="333.1" width="4" height="4" fill="#42f806"/><rect x="43.5" y="337.1" width="4" height="4" fill="#49f253"/><rect x="47.5" y="337.1" width="4" height="4" fill="#48f347"/><rect x="51.5" y="337.1" width="4" height="4" fill="#46f33b"/><rect x="55.5" y="337.1" width="4" height="4" fill="#44f42f"/><rect x="59.5" y="337.1" width="4" height="4" fill="#43f526"/><rect x="63.5" y="337.1" width="4" height="4" fill="#42f51e"/><rect x="67.5" y="337.1" width="4" height="4" fill="#41f615"/><rect x="71.5" y="337.1" width="4" height="4" fill="#40f610"/><rect x="75.5" y="337.1" width="4" height="4" fill="#40f60e"/><rect x="79.5" y="337.1" width="4" height="4" fill="#40f60d"/><rect x="83.5" y="337.1" width="4" height="4" fill="#41f70c"/><rect x="87.5" y="337.1" width="4" height="4" fill="#41f70b"/><rect x="91.5" y="337.1" width="4" height="4" fill="#41f70a"/><rect x="95.5" y="337.1" width="4" height="4" fill="#41f709"/><rect x="99.5" y="337.1" width="4" height="4" fill="#41f708"/><rect x="103.5" y="337.1" width="4" height="4" fill="#42f806"/><rect x="107.5" y="337.1" width="4" height="4" fill="#42f805"/><rect x="39.5" y="341.1" width="4" height="4" fill="#4cf166"/><rect x="43.5" y="341.1" width="4" height="4" fill="#4bf15b"/><rect x="47.5" y="341.1" width="4" height="4" fill="#49f24f"/><rect x="51.5" y="341.1" width="4" height="4" fill="#47f343"/><rect x="55.5" y="341.1" width="4" height="4" fill="#45f436"/><rect x="59.5" y="341.1" width="4" height="4" fill="#43f42b"/><rect x="63.5" y="341.1" width="4" height="4" fill="#42f523"/><rect x="67.5" y="341.1" width="4" height="4" fill="#41f51a"/><rect x="71.5" y="341.1" width="4" height="4" fill="#40f611"/><rect x="75.5" y="341.1" width="4" height="4" fill="#40f60f"/><rect x="79.5" y="341.1" width="4" height="4" fill="#40f60e"/><rect x="83.5" y="341.1" width="4" height="4" fill="#41f70d"/><rect x="87.5" y="341.1" width="4" height="4" fill="#41f70c"/><rect x="91.5" y="341.1" width="4" height="4" fill="#41f70a"/><rect x="95.5" y="341.1" width="4" height="4" fill="#41f709"/><rect x="99.5" y="341.1" width="4" height="4" fill="#41f708"/><rect x="103.5" y="341.1" width="4" height="4" fill="#42f807"/><rect x="107.5" y="341.1" width="4" height="4" fill="#42f806"/><rect x="111.5" y="341.1" width="4" height="4" fill="#42f805"/><rect x="115.5" y="341.1" width="4" height="4" fill="#44f804"/><rect x="39.5" y="345.1" width="4" height="4" fill="#4ef06f"/><rect x="43.5" y="345.1" width="4" height="4" fill="#4cf164"/><rect x="47.5" y="345.1" width="4" height="4" fill="#4af158"/><rect x="51.5" y="345.1" width="4" height="4" fill="#48f24c"/><rect x="55.5" y="345.1" width="4" height="4" fill="#46f33f"/><rect x="59.5" y="345.1" width="4" height="4" fill="#44f432"/><rect x="63.5" y="345.1" width="4" height="4" fill="#43f428"/><rect x="67.5" y="345.1" width="4" height="4" fill="#42f51f"/><rect x="71.5" y="345.1" width="4" height="4" fill="#41f616"/><rect x="75.5" y="345.1" width="4" height="4" fill="#40f610"/><rect x="79.5" y="345.1" width="4" height="4" fill="#40f60e"/><rect x="83.5" y="345.1" width="4" height="4" fill="#40f60d"/><rect x="87.5" y="345.1" width="4" height="4" fill="#41f70c"/><rect x="91.5" y="345.1" width="4" height="4" fill="#41f70b"/><rect x="95.5" y="345.1" width="4" height="4" fill="#41f70a"/><rect x="99.5" y="345.1" width="4" height="4" fill="#41f708"/><rect x="103.5" y="345.1" width="4" height="4" fill="#41f707"/><rect x="107.5" y="345.1" width="4" height="4" fill="#42f806"/><rect x="111.5" y="345.1" width="4" height="4" fill="#42f805"/><rect x="115.5" y="345.1" width="4" height="4" fill="#43f804"/><rect x="119.5" y="345.1" width="4" height="4" fill="#47f703"/><rect x="39.5" y="349.1" width="4" height="4" fill="#4ff075"/><rect x="43.5" y="349.1" width="4" height="4" fill="#4df06c"/><rect x="47.5" y="349.1" width="4" height="4" fill="#4cf161"/><rect x="51.5" y="349.1" width="4" height="4" fill="#4af255"/><rect x="55.5" y="349.1" width="4" height="4" fill="#48f248"/><rect x="59.5" y="349.1" width="4" height="4" fill="#46f33b"/><rect x="63.5" y="349.1" width="4" height="4" fill="#44f42e"/><rect x="67.5" y="349.1" width="4" height="4" fill="#43f525"/><rect x="71.5" y="349.1" width="4" height="4" fill="#41f51b"/><rect x="75.5" y="349.1" width="4" height="4" fill="#40f612"/><rect x="79.5" y="349.1" width="4" height="4" fill="#40f60f"/><rect x="83.5" y="349.1" width="4" height="4" fill="#40f60e"/><rect x="87.5" y="349.1" width="4" height="4" fill="#41f70d"/><rect x="91.5" y="349.1" width="4" height="4" fill="#41f70b"/><rect x="95.5" y="349.1" width="4" height="4" fill="#41f70a"/><rect x="99.5" y="349.1" width="4" height="4" fill="#41f709"/><rect x="103.5" y="349.1" width="4" height="4" fill="#41f708"/><rect x="107.5" y="349.1" width="4" height="4" fill="#42f806"/><rect x="111.5" y="349.1" width="4" height="4" fill="#42f805"/><rect x="115.5" y="349.1" width="4" height="4" fill="#42f804"/><rect x="119.5" y="349.1" width="4" height="4" fill="#47f703"/><rect x="123.5" y="349.1" width="4" height="4" fill="#4bf602"/><rect x="127.5" y="349.1" width="4" height="4" fill="#4ff602"/><rect x="35.5" y="353.1" width="4" height="4" fill="#52f181"/><rect x="39.5" y="353.1" width="4" height="4" fill="#50f17b"/><rect x="43.5" y="353.1" width="4" height="4" fill="#4ff074"/><rect x="47.5" y="353.1" width="4" height="4" fill="#4df06a"/><rect x="51.5" y="353.1" width="4" height="4" fill="#4bf15e"/><rect x="55.5" y="353.1" width="4" height="4" fill="#49f251"/><rect x="59.5" y="353.1" width="4" height="4" fill="#47f344"/><rect x="63.5" y="353.1" width="4" height="4" fill="#45f436"/><rect x="67.5" y="353.1" width="4" height="4" fill="#43f42a"/><rect x="71.5" y="353.1" width="4" height="4" fill="#42f521"/><rect x="75.5" y="353.1" width="4" height="4" fill="#41f617"/><rect x="79.5" y="353.1" width="4" height="4" fill="#40f610"/><rect x="83.5" y="353.1" width="4" height="4" fill="#40f60e"/><rect x="87.5" y="353.1" width="4" height="4" fill="#40f60d"/><rect x="91.5" y="353.1" width="4" height="4" fill="#41f70c"/><rect x="95.5" y="353.1" width="4" height="4" fill="#41f70b"/><rect x="99.5" y="353.1" width="4" height="4" fill="#41f709"/><rect x="103.5" y="353.1" width="4" height="4" fill="#41f708"/><rect x="107.5" y="353.1" width="4" height="4" fill="#42f807"/><rect x="111.5" y="353.1" width="4" height="4" fill="#42f805"/><rect x="115.5" y="353.1" width="4" height="4" fill="#42f804"/><rect x="119.5" y="353.1" width="4" height="4" fill="#46f703"/><rect x="123.5" y="353.1" width="4" height="4" fill="#4af703"/><rect x="127.5" y="353.1" width="4" height="4" fill="#4ef602"/><rect x="131.5" y="353.1" width="4" height="4" fill="#52f501"/><rect x="35.5" y="357.1" width="4" height="4" fill="#53f287"/><rect x="39.5" y="357.1" width="4" height="4" fill="#51f180"/><rect x="43.5" y="357.1" width="4" height="4" fill="#50f17a"/><rect x="47.5" y="357.1" width="4" height="4" fill="#4ef072"/><rect x="51.5" y="357.1" width="4" height="4" fill="#4df167"/><rect x="55.5" y="357.1" width="4" height="4" fill="#4bf15b"/><rect x="59.5" y="357.1" width="4" height="4" fill="#49f24e"/><rect x="63.5" y="357.1" width="4" height="4" fill="#46f340"/><rect x="67.5" y="357.1" width="4" height="4" fill="#44f431"/><rect x="71.5" y="357.1" width="4" height="4" fill="#43f527"/><rect x="75.5" y="357.1" width="4" height="4" fill="#42f51d"/><rect x="79.5" y="357.1" width="4" height="4" fill="#40f613"/><rect x="83.5" y="357.1" width="4" height="4" fill="#40f60f"/><rect x="87.5" y="357.1" width="4" height="4" fill="#40f60e"/><rect x="91.5" y="357.1" width="4" height="4" fill="#41f70d"/><rect x="95.5" y="357.1" width="4" height="4" fill="#41f70b"/><rect x="99.5" y="357.1" width="4" height="4" fill="#41f70a"/><rect x="103.5" y="357.1" width="4" height="4" fill="#41f709"/><rect x="107.5" y="357.1" width="4" height="4" fill="#41f707"/><rect x="111.5" y="357.1" width="4" height="4" fill="#42f806"/><rect x="115.5" y="357.1" width="4" height="4" fill="#42f805"/><rect x="119.5" y="357.1" width="4" height="4" fill="#45f804"/><rect x="123.5" y="357.1" width="4" height="4" fill="#49f703"/><rect x="127.5" y="357.1" width="4" height="4" fill="#4df602"/><rect x="131.5" y="357.1" width="4" height="4" fill="#51f501"/><rect x="135.5" y="357.1" width="4" height="4" fill="#55f501"/><rect x="35.5" y="361.1" width="4" height="4" fill="#54f28d"/><rect x="39.5" y="361.1" width="4" height="4" fill="#53f286"/><rect x="43.5" y="361.1" width="4" height="4" fill="#51f180"/><rect x="47.5" y="361.1" width="4" height="4" fill="#50f178"/><rect x="51.5" y="361.1" width="4" height="4" fill="#4ef071"/><rect x="55.5" y="361.1" width="4" height="4" fill="#4cf164"/><rect x="59.5" y="361.1" width="4" height="4" fill="#4af257"/><rect x="63.5" y="361.1" width="4" height="4" fill="#48f24a"/><rect x="67.5" y="361.1" width="4" height="4" fill="#46f33b"/><rect x="71.5" y="361.1" width="4" height="4" fill="#44f42d"/><rect x="75.5" y="361.1" width="4" height="4" fill="#42f523"/><rect x="79.5" y="361.1" width="4" height="4" fill="#41f519"/><rect x="83.5" y="361.1" width="4" height="4" fill="#40f610"/><rect x="87.5" y="361.1" width="4" height="4" fill="#40f60f"/><rect x="91.5" y="361.1" width="4" height="4" fill="#41f60d"/><rect x="95.5" y="361.1" width="4" height="4" fill="#41f70c"/><rect x="99.5" y="361.1" width="4" height="4" fill="#41f70b"/><rect x="103.5" y="361.1" width="4" height="4" fill="#41f709"/><rect x="107.5" y="361.1" width="4" height="4" fill="#41f708"/><rect x="111.5" y="361.1" width="4" height="4" fill="#42f806"/><rect x="115.5" y="361.1" width="4" height="4" fill="#42f805"/><rect x="119.5" y="361.1" width="4" height="4" fill="#43f804"/><rect x="123.5" y="361.1" width="4" height="4" fill="#48f703"/><rect x="127.5" y="361.1" width="4" height="4" fill="#4df602"/><rect x="131.5" y="361.1" width="4" height="4" fill="#51f501"/><rect x="135.5" y="361.1" width="4" height="4" fill="#55f501"/><rect x="139.5" y="361.1" width="4" height="4" fill="#59f400"/><rect x="35.5" y="365.1" width="4" height="4" fill="#55f392"/><rect x="39.5" y="365.1" width="4" height="4" fill="#54f28c"/><rect x="43.5" y="365.1" width="4" height="4" fill="#53f286"/><rect x="47.5" y="365.1" width="4" height="4" fill="#51f17f"/><rect x="51.5" y="365.1" width="4" height="4" fill="#4ff177"/><rect x="55.5" y="365.1" width="4" height="4" fill="#4ef06e"/><rect x="59.5" y="365.1" width="4" height="4" fill="#4cf161"/><rect x="63.5" y="365.1" width="4" height="4" fill="#4af254"/><rect x="67.5" y="365.1" width="4" height="4" fill="#47f345"/><rect x="71.5" y="365.1" width="4" height="4" fill="#45f436"/><rect x="75.5" y="365.1" width="4" height="4" fill="#43f429"/><rect x="79.5" y="365.1" width="4" height="4" fill="#42f51f"/><rect x="83.5" y="365.1" width="4" height="4" fill="#41f614"/><rect x="87.5" y="365.1" width="4" height="4" fill="#40f60f"/><rect x="91.5" y="365.1" width="4" height="4" fill="#40f60e"/><rect x="95.5" y="365.1" width="4" height="4" fill="#41f70d"/><rect x="99.5" y="365.1" width="4" height="4" fill="#41f70b"/><rect x="103.5" y="365.1" width="4" height="4" fill="#41f70a"/><rect x="107.5" y="365.1" width="4" height="4" fill="#41f708"/><rect x="111.5" y="365.1" width="4" height="4" fill="#42f807"/><rect x="115.5" y="365.1" width="4" height="4" fill="#42f805"/><rect x="119.5" y="365.1" width="4" height="4" fill="#42f804"/><rect x="123.5" y="365.1" width="4" height="4" fill="#47f703"/><rect x="127.5" y="365.1" width="4" height="4" fill="#4cf602"/><rect x="131.5" y="365.1" width="4" height="4" fill="#50f501"/><rect x="135.5" y="365.1" width="4" height="4" fill="#54f501"/><rect x="139.5" y="365.1" width="4" height="4" fill="#59f400"/><rect x="143.5" y="365.1" width="4" height="4" fill="#62f300"/><rect x="147.5" y="365.1" width="4" height="4" fill="#6bf300"/><rect x="35.5" y="369.1" width="4" height="4" fill="#56f398"/><rect x="39.5" y="369.1" width="4" height="4" fill="#55f392"/><rect x="43.5" y="369.1" width="4" height="4" fill="#54f28c"/><rect x="47.5" y="369.1" width="4" height="4" fill="#52f285"/><rect x="51.5" y="369.1" width="4" height="4" fill="#51f17e"/><rect x="55.5" y="369.1" width="4" height="4" fill="#4ff076"/><rect x="59.5" y="369.1" width="4" height="4" fill="#4df06c"/><rect x="63.5" y="369.1" width="4" height="4" fill="#4bf15e"/><rect x="67.5" y="369.1" width="4" height="4" fill="#49f250"/><rect x="71.5" y="369.1" width="4" height="4" fill="#47f340"/><rect x="75.5" y="369.1" width="4" height="4" fill="#44f430"/><rect x="79.5" y="369.1" width="4" height="4" fill="#43f525"/><rect x="83.5" y="369.1" width="4" height="4" fill="#41f51a"/><rect x="87.5" y="369.1" width="4" height="4" fill="#40f610"/><rect x="91.5" y="369.1" width="4" height="4" fill="#40f60f"/><rect x="95.5" y="369.1" width="4" height="4" fill="#41f60d"/><rect x="99.5" y="369.1" width="4" height="4" fill="#41f70c"/><rect x="103.5" y="369.1" width="4" height="4" fill="#41f70a"/><rect x="107.5" y="369.1" width="4" height="4" fill="#41f709"/><rect x="111.5" y="369.1" width="4" height="4" fill="#42f707"/><rect x="115.5" y="369.1" width="4" height="4" fill="#42f806"/><rect x="119.5" y="369.1" width="4" height="4" fill="#42f804"/><rect x="123.5" y="369.1" width="4" height="4" fill="#46f703"/><rect x="127.5" y="369.1" width="4" height="4" fill="#4bf602"/><rect x="131.5" y="369.1" width="4" height="4" fill="#50f602"/><rect x="135.5" y="369.1" width="4" height="4" fill="#54f501"/><rect x="139.5" y="369.1" width="4" height="4" fill="#58f400"/><rect x="143.5" y="369.1" width="4" height="4" fill="#62f300"/><rect x="147.5" y="369.1" width="4" height="4" fill="#6bf300"/><rect x="151.5" y="369.1" width="4" height="4" fill="#74f200"/><rect x="35.5" y="373.1" width="4" height="4" fill="#58f49e"/><rect x="39.5" y="373.1" width="4" height="4" fill="#56f398"/><rect x="43.5" y="373.1" width="4" height="4" fill="#55f392"/><rect x="47.5" y="373.1" width="4" height="4" fill="#54f28b"/><rect x="51.5" y="373.1" width="4" height="4" fill="#52f284"/><rect x="55.5" y="373.1" width="4" height="4" fill="#51f17c"/><rect x="59.5" y="373.1" width="4" height="4" fill="#4ff074"/><rect x="63.5" y="373.1" width="4" height="4" fill="#4df069"/><rect x="67.5" y="373.1" width="4" height="4" fill="#4bf15b"/><rect x="71.5" y="373.1" width="4" height="4" fill="#48f24b"/><rect x="75.5" y="373.1" width="4" height="4" fill="#46f33b"/><rect x="79.5" y="373.1" width="4" height="4" fill="#44f42c"/><rect x="83.5" y="373.1" width="4" height="4" fill="#42f521"/><rect x="87.5" y="373.1" width="4" height="4" fill="#41f615"/><rect x="91.5" y="373.1" width="4" height="4" fill="#40f60f"/><rect x="95.5" y="373.1" width="4" height="4" fill="#41f60e"/><rect x="99.5" y="373.1" width="4" height="4" fill="#41f70d"/><rect x="103.5" y="373.1" width="4" height="4" fill="#41f70b"/><rect x="107.5" y="373.1" width="4" height="4" fill="#41f709"/><rect x="111.5" y="373.1" width="4" height="4" fill="#41f708"/><rect x="115.5" y="373.1" width="4" height="4" fill="#42f806"/><rect x="119.5" y="373.1" width="4" height="4" fill="#42f805"/><rect x="123.5" y="373.1" width="4" height="4" fill="#45f703"/><rect x="127.5" y="373.1" width="4" height="4" fill="#4af703"/><rect x="131.5" y="373.1" width="4" height="4" fill="#4ff602"/><rect x="135.5" y="373.1" width="4" height="4" fill="#53f501"/><rect x="139.5" y="373.1" width="4" height="4" fill="#58f400"/><rect x="143.5" y="373.1" width="4" height="4" fill="#61f300"/><rect x="147.5" y="373.1" width="4" height="4" fill="#6bf300"/><rect x="151.5" y="373.1" width="4" height="4" fill="#74f200"/><rect x="155.5" y="373.1" width="4" height="4" fill="#7df100"/><rect x="35.5" y="377.1" width="4" height="4" fill="#59f4a4"/><rect x="39.5" y="377.1" width="4" height="4" fill="#58f49e"/><rect x="43.5" y="377.1" width="4" height="4" fill="#56f398"/><rect x="47.5" y="377.1" width="4" height="4" fill="#55f392"/><rect x="51.5" y="377.1" width="4" height="4" fill="#54f28b"/><rect x="55.5" y="377.1" width="4" height="4" fill="#52f283"/><rect x="59.5" y="377.1" width="4" height="4" fill="#50f17b"/><rect x="63.5" y="377.1" width="4" height="4" fill="#4ff073"/><rect x="67.5" y="377.1" width="4" height="4" fill="#4cf166"/><rect x="71.5" y="377.1" width="4" height="4" fill="#4af257"/><rect x="75.5" y="377.1" width="4" height="4" fill="#48f347"/><rect x="79.5" y="377.1" width="4" height="4" fill="#45f435"/><rect x="83.5" y="377.1" width="4" height="4" fill="#43f528"/><rect x="87.5" y="377.1" width="4" height="4" fill="#42f51c"/><rect x="91.5" y="377.1" width="4" height="4" fill="#40f610"/><rect x="95.5" y="377.1" width="4" height="4" fill="#41f60f"/><rect x="99.5" y="377.1" width="4" height="4" fill="#41f70d"/><rect x="103.5" y="377.1" width="4" height="4" fill="#41f70c"/><rect x="107.5" y="377.1" width="4" height="4" fill="#41f70a"/><rect x="111.5" y="377.1" width="4" height="4" fill="#41f708"/><rect x="115.5" y="377.1" width="4" height="4" fill="#42f807"/><rect x="119.5" y="377.1" width="4" height="4" fill="#42f805"/><rect x="123.5" y="377.1" width="4" height="4" fill="#44f804"/><rect x="127.5" y="377.1" width="4" height="4" fill="#49f703"/><rect x="131.5" y="377.1" width="4" height="4" fill="#4ef602"/><rect x="135.5" y="377.1" width="4" height="4" fill="#53f501"/><rect x="139.5" y="377.1" width="4" height="4" fill="#57f400"/><rect x="143.5" y="377.1" width="4" height="4" fill="#61f300"/><rect x="147.5" y="377.1" width="4" height="4" fill="#6bf300"/><rect x="151.5" y="377.1" width="4" height="4" fill="#74f200"/><rect x="155.5" y="377.1" width="4" height="4" fill="#7df100"/><rect x="159.5" y="377.1" width="4" height="4" fill="#85f100"/><rect x="35.5" y="381.1" width="4" height="4" fill="#5af5a9"/><rect x="39.5" y="381.1" width="4" height="4" fill="#59f4a4"/><rect x="43.5" y="381.1" width="4" height="4" fill="#58f49e"/><rect x="47.5" y="381.1" width="4" height="4" fill="#56f398"/><rect x="51.5" y="381.1" width="4" height="4" fill="#55f391"/><rect x="55.5" y="381.1" width="4" height="4" fill="#53f28a"/><rect x="59.5" y="381.1" width="4" height="4" fill="#52f282"/><rect x="63.5" y="381.1" width="4" height="4" fill="#50f17a"/><rect x="67.5" y="381.1" width="4" height="4" fill="#4ef071"/><rect x="71.5" y="381.1" width="4" height="4" fill="#4cf162"/><rect x="75.5" y="381.1" width="4" height="4" fill="#4af252"/><rect x="79.5" y="381.1" width="4" height="4" fill="#47f341"/><rect x="83.5" y="381.1" width="4" height="4" fill="#44f430"/><rect x="87.5" y="381.1" width="4" height="4" fill="#43f524"/><rect x="91.5" y="381.1" width="4" height="4" fill="#41f617"/><rect x="95.5" y="381.1" width="4" height="4" fill="#41f610"/><rect x="99.5" y="381.1" width="4" height="4" fill="#41f60e"/><rect x="103.5" y="381.1" width="4" height="4" fill="#41f70d"/><rect x="107.5" y="381.1" width="4" height="4" fill="#41f70b"/><rect x="111.5" y="381.1" width="4" height="4" fill="#41f709"/><rect x="115.5" y="381.1" width="4" height="4" fill="#42f707"/><rect x="119.5" y="381.1" width="4" height="4" fill="#42f806"/><rect x="123.5" y="381.1" width="4" height="4" fill="#42f804"/><rect x="127.5" y="381.1" width="4" height="4" fill="#48f703"/><rect x="131.5" y="381.1" width="4" height="4" fill="#4df602"/><rect x="135.5" y="381.1" width="4" height="4" fill="#52f501"/><rect x="139.5" y="381.1" width="4" height="4" fill="#57f400"/><rect x="143.5" y="381.1" width="4" height="4" fill="#61f300"/><rect x="147.5" y="381.1" width="4" height="4" fill="#6bf300"/><rect x="151.5" y="381.1" width="4" height="4" fill="#75f200"/><rect x="155.5" y="381.1" width="4" height="4" fill="#7ef100"/><rect x="159.5" y="381.1" width="4" height="4" fill="#86f100"/><rect x="163.5" y="381.1" width="4" height="4" fill="#8ef000"/><rect x="35.5" y="385.1" width="4" height="4" fill="#5bf5af"/><rect x="39.5" y="385.1" width="4" height="4" fill="#5af5aa"/><rect x="43.5" y="385.1" width="4" height="4" fill="#59f4a5"/><rect x="47.5" y="385.1" width="4" height="4" fill="#58f49f"/><rect x="51.5" y="385.1" width="4" height="4" fill="#56f398"/><rect x="55.5" y="385.1" width="4" height="4" fill="#55f391"/><rect x="59.5" y="385.1" width="4" height="4" fill="#53f28a"/><rect x="63.5" y="385.1" width="4" height="4" fill="#52f181"/><rect x="67.5" y="385.1" width="4" height="4" fill="#50f179"/><rect x="71.5" y="385.1" width="4" height="4" fill="#4ef06e"/><rect x="75.5" y="385.1" width="4" height="4" fill="#4cf15f"/><rect x="79.5" y="385.1" width="4" height="4" fill="#49f24e"/><rect x="83.5" y="385.1" width="4" height="4" fill="#46f33c"/><rect x="87.5" y="385.1" width="4" height="4" fill="#44f42c"/><rect x="91.5" y="385.1" width="4" height="4" fill="#43f51f"/><rect x="95.5" y="385.1" width="4" height="4" fill="#41f612"/><rect x="99.5" y="385.1" width="4" height="4" fill="#41f610"/><rect x="103.5" y="385.1" width="4" height="4" fill="#41f70e"/><rect x="107.5" y="385.1" width="4" height="4" fill="#41f70c"/><rect x="111.5" y="385.1" width="4" height="4" fill="#42f70a"/><rect x="115.5" y="385.1" width="4" height="4" fill="#42f708"/><rect x="119.5" y="385.1" width="4" height="4" fill="#42f806"/><rect x="123.5" y="385.1" width="4" height="4" fill="#42f804"/><rect x="127.5" y="385.1" width="4" height="4" fill="#47f703"/><rect x="131.5" y="385.1" width="4" height="4" fill="#4cf602"/><rect x="135.5" y="385.1" width="4" height="4" fill="#52f501"/><rect x="139.5" y="385.1" width="4" height="4" fill="#57f400"/><rect x="143.5" y="385.1" width="4" height="4" fill="#60f300"/><rect x="147.5" y="385.1" width="4" height="4" fill="#6bf300"/><rect x="151.5" y="385.1" width="4" height="4" fill="#75f200"/><rect x="155.5" y="385.1" width="4" height="4" fill="#7ef100"/><rect x="159.5" y="385.1" width="4" height="4" fill="#87f100"/><rect x="163.5" y="385.1" width="4" height="4" fill="#90f000"/><rect x="167.5" y="385.1" width="4" height="4" fill="#99f002"/><rect x="171.5" y="385.1" width="4" height="4" fill="#a3f004"/><rect x="35.5" y="389.1" width="4" height="4" fill="#5cf6b4"/><rect x="39.5" y="389.1" width="4" height="4" fill="#5bf5b0"/><rect x="43.5" y="389.1" width="4" height="4" fill="#5af5ab"/><rect x="47.5" y="389.1" width="4" height="4" fill="#59f4a5"/><rect x="51.5" y="389.1" width="4" height="4" fill="#58f49f"/><rect x="55.5" y="389.1" width="4" height="4" fill="#56f398"/><rect x="59.5" y="389.1" width="4" height="4" fill="#55f391"/><rect x="63.5" y="389.1" width="4" height="4" fill="#53f289"/><rect x="67.5" y="389.1" width="4" height="4" fill="#52f180"/><rect x="71.5" y="389.1" width="4" height="4" fill="#50f177"/><rect x="75.5" y="389.1" width="4" height="4" fill="#4ef06b"/><rect x="79.5" y="389.1" width="4" height="4" fill="#4bf15b"/><rect x="83.5" y="389.1" width="4" height="4" fill="#49f349"/><rect x="87.5" y="389.1" width="4" height="4" fill="#46f436"/><rect x="91.5" y="389.1" width="4" height="4" fill="#44f527"/><rect x="95.5" y="389.1" width="4" height="4" fill="#42f61a"/><rect x="99.5" y="389.1" width="4" height="4" fill="#42f611"/><rect x="103.5" y="389.1" width="4" height="4" fill="#42f60f"/><rect x="107.5" y="389.1" width="4" height="4" fill="#42f70d"/><rect x="111.5" y="389.1" width="4" height="4" fill="#42f70b"/><rect x="115.5" y="389.1" width="4" height="4" fill="#42f709"/><rect x="119.5" y="389.1" width="4" height="4" fill="#42f807"/><rect x="123.5" y="389.1" width="4" height="4" fill="#42f805"/><rect x="127.5" y="389.1" width="4" height="4" fill="#46f704"/><rect x="131.5" y="389.1" width="4" height="4" fill="#4cf602"/><rect x="135.5" y="389.1" width="4" height="4" fill="#51f501"/><rect x="139.5" y="389.1" width="4" height="4" fill="#56f400"/><rect x="143.5" y="389.1" width="4" height="4" fill="#5ff300"/><rect x="147.5" y="389.1" width="4" height="4" fill="#6bf300"/><rect x="151.5" y="389.1" width="4" height="4" fill="#75f200"/><rect x="155.5" y="389.1" width="4" height="4" fill="#7ff100"/><rect x="159.5" y="389.1" width="4" height="4" fill="#88f100"/><rect x="163.5" y="389.1" width="4" height="4" fill="#91f000"/><rect x="167.5" y="389.1" width="4" height="4" fill="#9cf003"/><rect x="171.5" y="389.1" width="4" height="4" fill="#a5f005"/><rect x="175.5" y="389.1" width="4" height="4" fill="#aef007"/><rect x="35.5" y="393.1" width="4" height="4" fill="#5df6ba"/><rect x="39.5" y="393.1" width="4" height="4" fill="#5cf6b5"/><rect x="43.5" y="393.1" width="4" height="4" fill="#5bf5b0"/><rect x="47.5" y="393.1" width="4" height="4" fill="#5af5ab"/><rect x="51.5" y="393.1" width="4" height="4" fill="#59f4a6"/><rect x="55.5" y="393.1" width="4" height="4" fill="#58f49f"/><rect x="59.5" y="393.1" width="4" height="4" fill="#56f398"/><rect x="63.5" y="393.1" width="4" height="4" fill="#55f391"/><rect x="67.5" y="393.1" width="4" height="4" fill="#53f288"/><rect x="71.5" y="393.1" width="4" height="4" fill="#52f17f"/><rect x="75.5" y="393.1" width="4" height="4" fill="#50f076"/><rect x="79.5" y="393.1" width="4" height="4" fill="#4df168"/><rect x="83.5" y="393.1" width="4" height="4" fill="#4bf256"/><rect x="87.5" y="393.1" width="4" height="4" fill="#48f343"/><rect x="91.5" y="393.1" width="4" height="4" fill="#45f430"/><rect x="95.5" y="393.1" width="4" height="4" fill="#44f523"/><rect x="99.5" y="393.1" width="4" height="4" fill="#43f615"/><rect x="103.5" y="393.1" width="4" height="4" fill="#43f611"/><rect x="107.5" y="393.1" width="4" height="4" fill="#43f70f"/><rect x="111.5" y="393.1" width="4" height="4" fill="#42f70d"/><rect x="115.5" y="393.1" width="4" height="4" fill="#42f70b"/><rect x="119.5" y="393.1" width="4" height="4" fill="#42f808"/><rect x="123.5" y="393.1" width="4" height="4" fill="#42f806"/><rect x="127.5" y="393.1" width="4" height="4" fill="#45f804"/><rect x="131.5" y="393.1" width="4" height="4" fill="#4bf603"/><rect x="135.5" y="393.1" width="4" height="4" fill="#50f502"/><rect x="139.5" y="393.1" width="4" height="4" fill="#56f401"/><rect x="143.5" y="393.1" width="4" height="4" fill="#5ff400"/><rect x="147.5" y="393.1" width="4" height="4" fill="#6bf300"/><rect x="151.5" y="393.1" width="4" height="4" fill="#76f200"/><rect x="155.5" y="393.1" width="4" height="4" fill="#80f100"/><rect x="159.5" y="393.1" width="4" height="4" fill="#8af000"/><rect x="163.5" y="393.1" width="4" height="4" fill="#93f001"/><rect x="167.5" y="393.1" width="4" height="4" fill="#9ef003"/><rect x="171.5" y="393.1" width="4" height="4" fill="#a8f005"/><rect x="175.5" y="393.1" width="4" height="4" fill="#b1f007"/><rect x="179.5" y="393.1" width="4" height="4" fill="#baf009"/><rect x="35.5" y="397.1" width="4" height="4" fill="#5ff7bf"/><rect x="39.5" y="397.1" width="4" height="4" fill="#5ef6bb"/><rect x="43.5" y="397.1" width="4" height="4" fill="#5df6b6"/><rect x="47.5" y="397.1" width="4" height="4" fill="#5cf5b1"/><rect x="51.5" y="397.1" width="4" height="4" fill="#5bf5ac"/><rect x="55.5" y="397.1" width="4" height="4" fill="#59f5a6"/><rect x="59.5" y="397.1" width="4" height="4" fill="#58f4a0"/><rect x="63.5" y="397.1" width="4" height="4" fill="#57f398"/><rect x="67.5" y="397.1" width="4" height="4" fill="#55f390"/><rect x="71.5" y="397.1" width="4" height="4" fill="#53f288"/><rect x="75.5" y="397.1" width="4" height="4" fill="#52f17e"/><rect x="79.5" y="397.1" width="4" height="4" fill="#50f074"/><rect x="83.5" y="397.1" width="4" height="4" fill="#4df164"/><rect x="87.5" y="397.1" width="4" height="4" fill="#4bf252"/><rect x="91.5" y="397.1" width="4" height="4" fill="#48f33e"/><rect x="95.5" y="397.1" width="4" height="4" fill="#46f52c"/><rect x="99.5" y="397.1" width="4" height="4" fill="#44f61e"/><rect x="103.5" y="397.1" width="4" height="4" fill="#44f614"/><rect x="107.5" y="397.1" width="4" height="4" fill="#44f712"/><rect x="111.5" y="397.1" width="4" height="4" fill="#43f70f"/><rect x="115.5" y="397.1" width="4" height="4" fill="#43f70d"/><rect x="119.5" y="397.1" width="4" height="4" fill="#43f70a"/><rect x="123.5" y="397.1" width="4" height="4" fill="#43f807"/><rect x="127.5" y="397.1" width="4" height="4" fill="#43f805"/><rect x="131.5" y="397.1" width="4" height="4" fill="#4af703"/><rect x="135.5" y="397.1" width="4" height="4" fill="#50f602"/><rect x="139.5" y="397.1" width="4" height="4" fill="#55f501"/><rect x="143.5" y="397.1" width="4" height="4" fill="#5ef400"/><rect x="147.5" y="397.1" width="4" height="4" fill="#6bf300"/><rect x="151.5" y="397.1" width="4" height="4" fill="#76f200"/><rect x="155.5" y="397.1" width="4" height="4" fill="#81f100"/><rect x="159.5" y="397.1" width="4" height="4" fill="#8bf000"/><rect x="163.5" y="397.1" width="4" height="4" fill="#95f001"/><rect x="167.5" y="397.1" width="4" height="4" fill="#a0f004"/><rect x="171.5" y="397.1" width="4" height="4" fill="#aaf006"/><rect x="175.5" y="397.1" width="4" height="4" fill="#b4f008"/><rect x="179.5" y="397.1" width="4" height="4" fill="#bdf00a"/><rect x="183.5" y="397.1" width="4" height="4" fill="#c6f00c"/><rect x="35.5" y="401.1" width="4" height="4" fill="#60f7c5"/><rect x="39.5" y="401.1" width="4" height="4" fill="#5ff7c1"/><rect x="43.5" y="401.1" width="4" height="4" fill="#5ef6bc"/><rect x="47.5" y="401.1" width="4" height="4" fill="#5df6b8"/><rect x="51.5" y="401.1" width="4" height="4" fill="#5cf6b3"/><rect x="55.5" y="401.1" width="4" height="4" fill="#5bf5ad"/><rect x="59.5" y="401.1" width="4" height="4" fill="#5af5a7"/><rect x="63.5" y="401.1" width="4" height="4" fill="#58f4a0"/><rect x="67.5" y="401.1" width="4" height="4" fill="#57f398"/><rect x="71.5" y="401.1" width="4" height="4" fill="#55f390"/><rect x="75.5" y="401.1" width="4" height="4" fill="#53f287"/><rect x="79.5" y="401.1" width="4" height="4" fill="#52f17d"/><rect x="83.5" y="401.1" width="4" height="4" fill="#50f072"/><rect x="87.5" y="401.1" width="4" height="4" fill="#4ef160"/><rect x="91.5" y="401.1" width="4" height="4" fill="#4bf34d"/><rect x="95.5" y="401.1" width="4" height="4" fill="#48f438"/><rect x="99.5" y="401.1" width="4" height="4" fill="#47f528"/><rect x="103.5" y="401.1" width="4" height="4" fill="#45f61a"/><rect x="107.5" y="401.1" width="4" height="4" fill="#45f615"/><rect x="111.5" y="401.1" width="4" height="4" fill="#45f712"/><rect x="115.5" y="401.1" width="4" height="4" fill="#44f70f"/><rect x="119.5" y="401.1" width="4" height="4" fill="#44f70c"/><rect x="123.5" y="401.1" width="4" height="4" fill="#44f809"/><rect x="127.5" y="401.1" width="4" height="4" fill="#43f806"/><rect x="131.5" y="401.1" width="4" height="4" fill="#49f704"/><rect x="135.5" y="401.1" width="4" height="4" fill="#4ff602"/><rect x="139.5" y="401.1" width="4" height="4" fill="#55f501"/><rect x="143.5" y="401.1" width="4" height="4" fill="#5ef400"/><rect x="147.5" y="401.1" width="4" height="4" fill="#6bf300"/><rect x="151.5" y="401.1" width="4" height="4" fill="#77f200"/><rect x="155.5" y="401.1" width="4" height="4" fill="#82f100"/><rect x="159.5" y="401.1" width="4" height="4" fill="#8cf000"/><rect x="163.5" y="401.1" width="4" height="4" fill="#97f002"/><rect x="167.5" y="401.1" width="4" height="4" fill="#a3f004"/><rect x="171.5" y="401.1" width="4" height="4" fill="#adf007"/><rect x="175.5" y="401.1" width="4" height="4" fill="#b7f009"/><rect x="179.5" y="401.1" width="4" height="4" fill="#c1f00b"/><rect x="183.5" y="401.1" width="4" height="4" fill="#c9f00d"/><rect x="187.5" y="401.1" width="4" height="4" fill="#d1f00f"/><rect x="35.5" y="405.1" width="4" height="4" fill="#61f8ca"/><rect x="39.5" y="405.1" width="4" height="4" fill="#60f7c6"/><rect x="43.5" y="405.1" width="4" height="4" fill="#5ff7c2"/><rect x="47.5" y="405.1" width="4" height="4" fill="#5ef6be"/><rect x="51.5" y="405.1" width="4" height="4" fill="#5df6b9"/><rect x="55.5" y="405.1" width="4" height="4" fill="#5cf6b4"/><rect x="59.5" y="405.1" width="4" height="4" fill="#5bf5ae"/><rect x="63.5" y="405.1" width="4" height="4" fill="#5af5a8"/><rect x="67.5" y="405.1" width="4" height="4" fill="#58f4a1"/><rect x="71.5" y="405.1" width="4" height="4" fill="#57f399"/><rect x="75.5" y="405.1" width="4" height="4" fill="#55f390"/><rect x="79.5" y="405.1" width="4" height="4" fill="#54f286"/><rect x="83.5" y="405.1" width="4" height="4" fill="#52f17c"/><rect x="87.5" y="405.1" width="4" height="4" fill="#51f070"/><rect x="91.5" y="405.1" width="4" height="4" fill="#4ef25d"/><rect x="95.5" y="405.1" width="4" height="4" fill="#4cf348"/><rect x="99.5" y="405.1" width="4" height="4" fill="#49f533"/><rect x="103.5" y="405.1" width="4" height="4" fill="#48f625"/><rect x="107.5" y="405.1" width="4" height="4" fill="#47f619"/><rect x="111.5" y="405.1" width="4" height="4" fill="#47f716"/><rect x="115.5" y="405.1" width="4" height="4" fill="#46f713"/><rect x="119.5" y="405.1" width="4" height="4" fill="#46f70f"/><rect x="123.5" y="405.1" width="4" height="4" fill="#45f80b"/><rect x="127.5" y="405.1" width="4" height="4" fill="#44f808"/><rect x="131.5" y="405.1" width="4" height="4" fill="#48f705"/><rect x="135.5" y="405.1" width="4" height="4" fill="#4ef603"/><rect x="139.5" y="405.1" width="4" height="4" fill="#54f502"/><rect x="143.5" y="405.1" width="4" height="4" fill="#5df401"/><rect x="147.5" y="405.1" width="4" height="4" fill="#6bf300"/><rect x="151.5" y="405.1" width="4" height="4" fill="#77f200"/><rect x="155.5" y="405.1" width="4" height="4" fill="#83f100"/><rect x="159.5" y="405.1" width="4" height="4" fill="#8ef000"/><rect x="163.5" y="405.1" width="4" height="4" fill="#9af002"/><rect x="167.5" y="405.1" width="4" height="4" fill="#a6f005"/><rect x="171.5" y="405.1" width="4" height="4" fill="#b0f007"/><rect x="175.5" y="405.1" width="4" height="4" fill="#bbf00a"/><rect x="179.5" y="405.1" width="4" height="4" fill="#c4f00c"/><rect x="183.5" y="405.1" width="4" height="4" fill="#cdf00e"/><rect x="187.5" y="405.1" width="4" height="4" fill="#d6f00f"/><rect x="191.5" y="405.1" width="4" height="4" fill="#dcf012"/><rect x="35.5" y="409.1" width="4" height="4" fill="#62f8d0"/><rect x="39.5" y="409.1" width="4" height="4" fill="#61f8cc"/><rect x="43.5" y="409.1" width="4" height="4" fill="#60f7c8"/><rect x="47.5" y="409.1" width="4" height="4" fill="#60f7c4"/><rect x="51.5" y="409.1" width="4" height="4" fill="#5ff7bf"/><rect x="55.5" y="409.1" width="4" height="4" fill="#5ef6ba"/><rect x="59.5" y="409.1" width="4" height="4" fill="#5cf6b5"/><rect x="63.5" y="409.1" width="4" height="4" fill="#5bf5af"/><rect x="67.5" y="409.1" width="4" height="4" fill="#5af5a8"/><rect x="71.5" y="409.1" width="4" height="4" fill="#59f4a1"/><rect x="75.5" y="409.1" width="4" height="4" fill="#57f399"/><rect x="79.5" y="409.1" width="4" height="4" fill="#56f390"/><rect x="83.5" y="409.1" width="4" height="4" fill="#55f286"/><rect x="87.5" y="409.1" width="4" height="4" fill="#53f17b"/><rect x="91.5" y="409.1" width="4" height="4" fill="#52f16d"/><rect x="95.5" y="409.1" width="4" height="4" fill="#4ff259"/><rect x="99.5" y="409.1" width="4" height="4" fill="#4df443"/><rect x="103.5" y="409.1" width="4" height="4" fill="#4bf530"/><rect x="107.5" y="409.1" width="4" height="4" fill="#4af621"/><rect x="111.5" y="409.1" width="4" height="4" fill="#4af71b"/><rect x="115.5" y="409.1" width="4" height="4" fill="#49f718"/><rect x="119.5" y="409.1" width="4" height="4" fill="#48f714"/><rect x="123.5" y="409.1" width="4" height="4" fill="#47f80f"/><rect x="127.5" y="409.1" width="4" height="4" fill="#46f80b"/><rect x="131.5" y="409.1" width="4" height="4" fill="#48f807"/><rect x="135.5" y="409.1" width="4" height="4" fill="#4ef605"/><rect x="139.5" y="409.1" width="4" height="4" fill="#54f502"/><rect x="143.5" y="409.1" width="4" height="4" fill="#5cf401"/><rect x="147.5" y="409.1" width="4" height="4" fill="#6bf301"/><rect x="151.5" y="409.1" width="4" height="4" fill="#78f201"/><rect x="155.5" y="409.1" width="4" height="4" fill="#84f100"/><rect x="159.5" y="409.1" width="4" height="4" fill="#8ff000"/><rect x="163.5" y="409.1" width="4" height="4" fill="#9cf003"/><rect x="167.5" y="409.1" width="4" height="4" fill="#a9f006"/><rect x="171.5" y="409.1" width="4" height="4" fill="#b4f008"/><rect x="175.5" y="409.1" width="4" height="4" fill="#bef00a"/><rect x="179.5" y="409.1" width="4" height="4" fill="#c8f00d"/><rect x="183.5" y="409.1" width="4" height="4" fill="#d1f00f"/><rect x="187.5" y="409.1" width="4" height="4" fill="#d9f011"/><rect x="191.5" y="409.1" width="4" height="4" fill="#dff014"/><rect x="195.5" y="409.1" width="4" height="4" fill="#e3f017"/><rect x="35.5" y="413.1" width="4" height="4" fill="#64f8d4"/><rect x="39.5" y="413.1" width="4" height="4" fill="#63f8d1"/><rect x="43.5" y="413.1" width="4" height="4" fill="#62f8ce"/><rect x="47.5" y="413.1" width="4" height="4" fill="#61f8ca"/><rect x="51.5" y="413.1" width="4" height="4" fill="#60f7c6"/><rect x="55.5" y="413.1" width="4" height="4" fill="#5ff7c1"/><rect x="59.5" y="413.1" width="4" height="4" fill="#5ef6bc"/><rect x="63.5" y="413.1" width="4" height="4" fill="#5df6b6"/><rect x="67.5" y="413.1" width="4" height="4" fill="#5cf5b0"/><rect x="71.5" y="413.1" width="4" height="4" fill="#5bf5a9"/><rect x="75.5" y="413.1" width="4" height="4" fill="#59f4a2"/><rect x="79.5" y="413.1" width="4" height="4" fill="#58f399"/><rect x="83.5" y="413.1" width="4" height="4" fill="#57f390"/><rect x="87.5" y="413.1" width="4" height="4" fill="#56f286"/><rect x="91.5" y="413.1" width="4" height="4" fill="#55f17b"/><rect x="95.5" y="413.1" width="4" height="4" fill="#53f16b"/><rect x="99.5" y="413.1" width="4" height="4" fill="#51f355"/><rect x="103.5" y="413.1" width="4" height="4" fill="#4ff43e"/><rect x="107.5" y="413.1" width="4" height="4" fill="#4ef62e"/><rect x="111.5" y="413.1" width="4" height="4" fill="#4ef721"/><rect x="115.5" y="413.1" width="4" height="4" fill="#4ef71e"/><rect x="119.5" y="413.1" width="4" height="4" fill="#4cf719"/><rect x="123.5" y="413.1" width="4" height="4" fill="#4af814"/><rect x="127.5" y="413.1" width="4" height="4" fill="#48f80f"/><rect x="131.5" y="413.1" width="4" height="4" fill="#48f80a"/><rect x="135.5" y="413.1" width="4" height="4" fill="#4ef707"/><rect x="139.5" y="413.1" width="4" height="4" fill="#54f504"/><rect x="143.5" y="413.1" width="4" height="4" fill="#5cf402"/><rect x="147.5" y="413.1" width="4" height="4" fill="#6bf301"/><rect x="151.5" y="413.1" width="4" height="4" fill="#79f201"/><rect x="155.5" y="413.1" width="4" height="4" fill="#86f101"/><rect x="159.5" y="413.1" width="4" height="4" fill="#92f001"/><rect x="163.5" y="413.1" width="4" height="4" fill="#9ff004"/><rect x="167.5" y="413.1" width="4" height="4" fill="#acf006"/><rect x="171.5" y="413.1" width="4" height="4" fill="#b8f009"/><rect x="175.5" y="413.1" width="4" height="4" fill="#c2f00b"/><rect x="179.5" y="413.1" width="4" height="4" fill="#cdf00e"/><rect x="183.5" y="413.1" width="4" height="4" fill="#d6f010"/><rect x="187.5" y="413.1" width="4" height="4" fill="#dcf013"/><rect x="191.5" y="413.1" width="4" height="4" fill="#e2f016"/><rect x="195.5" y="413.1" width="4" height="4" fill="#e7f018"/><rect x="199.5" y="413.1" width="4" height="4" fill="#ebf01b"/><rect x="203.5" y="413.1" width="4" height="4" fill="#f0f01e"/><rect x="35.5" y="417.1" width="4" height="4" fill="#66f9d8"/><rect x="39.5" y="417.1" width="4" height="4" fill="#65f9d5"/><rect x="43.5" y="417.1" width="4" height="4" fill="#64f8d3"/><rect x="47.5" y="417.1" width="4" height="4" fill="#62f8d0"/><rect x="51.5" y="417.1" width="4" height="4" fill="#61f8cc"/><rect x="55.5" y="417.1" width="4" height="4" fill="#60f7c8"/><rect x="59.5" y="417.1" width="4" height="4" fill="#5ff7c3"/><rect x="63.5" y="417.1" width="4" height="4" fill="#5ef6be"/><rect x="67.5" y="417.1" width="4" height="4" fill="#5df6b8"/><rect x="71.5" y="417.1" width="4" height="4" fill="#5cf5b2"/><rect x="75.5" y="417.1" width="4" height="4" fill="#5bf5ab"/><rect x="79.5" y="417.1" width="4" height="4" fill="#5af4a3"/><rect x="83.5" y="417.1" width="4" height="4" fill="#59f49a"/><rect x="87.5" y="417.1" width="4" height="4" fill="#59f391"/><rect x="91.5" y="417.1" width="4" height="4" fill="#58f286"/><rect x="95.5" y="417.1" width="4" height="4" fill="#57f17b"/><rect x="99.5" y="417.1" width="4" height="4" fill="#56f268"/><rect x="103.5" y="417.1" width="4" height="4" fill="#54f452"/><rect x="107.5" y="417.1" width="4" height="4" fill="#53f53d"/><rect x="111.5" y="417.1" width="4" height="4" fill="#53f62e"/><rect x="115.5" y="417.1" width="4" height="4" fill="#52f726"/><rect x="119.5" y="417.1" width="4" height="4" fill="#51f721"/><rect x="123.5" y="417.1" width="4" height="4" fill="#4ff81b"/><rect x="127.5" y="417.1" width="4" height="4" fill="#4cf815"/><rect x="131.5" y="417.1" width="4" height="4" fill="#4af80f"/><rect x="135.5" y="417.1" width="4" height="4" fill="#4ff70a"/><rect x="139.5" y="417.1" width="4" height="4" fill="#55f506"/><rect x="143.5" y="417.1" width="4" height="4" fill="#5cf403"/><rect x="147.5" y="417.1" width="4" height="4" fill="#6cf302"/><rect x="151.5" y="417.1" width="4" height="4" fill="#7af202"/><rect x="155.5" y="417.1" width="4" height="4" fill="#87f101"/><rect x="159.5" y="417.1" width="4" height="4" fill="#94f002"/><rect x="163.5" y="417.1" width="4" height="4" fill="#a3f005"/><rect x="167.5" y="417.1" width="4" height="4" fill="#b0f007"/><rect x="171.5" y="417.1" width="4" height="4" fill="#bcf00a"/><rect x="175.5" y="417.1" width="4" height="4" fill="#c7f00c"/><rect x="179.5" y="417.1" width="4" height="4" fill="#d1f00f"/><rect x="183.5" y="417.1" width="4" height="4" fill="#daf011"/><rect x="187.5" y="417.1" width="4" height="4" fill="#e0f014"/><rect x="191.5" y="417.1" width="4" height="4" fill="#e5f018"/><rect x="195.5" y="417.1" width="4" height="4" fill="#eaf01a"/><rect x="199.5" y="417.1" width="4" height="4" fill="#eff01d"/><rect x="203.5" y="417.1" width="4" height="4" fill="#f4f020"/><rect x="207.5" y="417.1" width="4" height="4" fill="#f5eb21"/><rect x="35.5" y="421.1" width="4" height="4" fill="#68f9dc"/><rect x="39.5" y="421.1" width="4" height="4" fill="#67f9d9"/><rect x="43.5" y="421.1" width="4" height="4" fill="#66f9d7"/><rect x="47.5" y="421.1" width="4" height="4" fill="#65f9d5"/><rect x="51.5" y="421.1" width="4" height="4" fill="#63f8d2"/><rect x="55.5" y="421.1" width="4" height="4" fill="#62f8ce"/><rect x="59.5" y="421.1" width="4" height="4" fill="#61f7ca"/><rect x="63.5" y="421.1" width="4" height="4" fill="#60f7c5"/><rect x="67.5" y="421.1" width="4" height="4" fill="#5ff7c0"/><rect x="71.5" y="421.1" width="4" height="4" fill="#5ef6ba"/><rect x="75.5" y="421.1" width="4" height="4" fill="#5df6b3"/><rect x="79.5" y="421.1" width="4" height="4" fill="#5cf5ac"/><rect x="83.5" y="421.1" width="4" height="4" fill="#5cf4a4"/><rect x="87.5" y="421.1" width="4" height="4" fill="#5bf49b"/><rect x="91.5" y="421.1" width="4" height="4" fill="#5bf392"/><rect x="95.5" y="421.1" width="4" height="4" fill="#5bf287"/><rect x="99.5" y="421.1" width="4" height="4" fill="#5bf17c"/><rect x="103.5" y="421.1" width="4" height="4" fill="#5af367"/><rect x="107.5" y="421.1" width="4" height="4" fill="#59f450"/><rect x="111.5" y="421.1" width="4" height="4" fill="#59f63d"/><rect x="115.5" y="421.1" width="4" height="4" fill="#59f72f"/><rect x="119.5" y="421.1" width="4" height="4" fill="#58f82b"/><rect x="123.5" y="421.1" width="4" height="4" fill="#55f825"/><rect x="127.5" y="421.1" width="4" height="4" fill="#52f81d"/><rect x="131.5" y="421.1" width="4" height="4" fill="#4ef816"/><rect x="135.5" y="421.1" width="4" height="4" fill="#51f70f"/><rect x="139.5" y="421.1" width="4" height="4" fill="#56f60a"/><rect x="143.5" y="421.1" width="4" height="4" fill="#5cf406"/><rect x="147.5" y="421.1" width="4" height="4" fill="#6df304"/><rect x="151.5" y="421.1" width="4" height="4" fill="#7cf203"/><rect x="155.5" y="421.1" width="4" height="4" fill="#8af102"/><rect x="159.5" y="421.1" width="4" height="4" fill="#98f003"/><rect x="163.5" y="421.1" width="4" height="4" fill="#a6f006"/><rect x="167.5" y="421.1" width="4" height="4" fill="#b4f009"/><rect x="171.5" y="421.1" width="4" height="4" fill="#c0f00b"/><rect x="175.5" y="421.1" width="4" height="4" fill="#ccf00e"/><rect x="179.5" y="421.1" width="4" height="4" fill="#d6f010"/><rect x="183.5" y="421.1" width="4" height="4" fill="#ddf013"/><rect x="187.5" y="421.1" width="4" height="4" fill="#e3f017"/><rect x="191.5" y="421.1" width="4" height="4" fill="#e9f01a"/><rect x="195.5" y="421.1" width="4" height="4" fill="#eef01d"/><rect x="199.5" y="421.1" width="4" height="4" fill="#f3f01f"/><rect x="203.5" y="421.1" width="4" height="4" fill="#f5ec21"/><rect x="207.5" y="421.1" width="4" height="4" fill="#f5e722"/><rect x="211.5" y="421.1" width="4" height="4" fill="#f6e223"/><rect x="39.5" y="425.1" width="4" height="4" fill="#6afade"/><rect x="43.5" y="425.1" width="4" height="4" fill="#68f9db"/><rect x="47.5" y="425.1" width="4" height="4" fill="#67f9d9"/><rect x="51.5" y="425.1" width="4" height="4" fill="#66f9d6"/><rect x="55.5" y="425.1" width="4" height="4" fill="#64f8d4"/><rect x="59.5" y="425.1" width="4" height="4" fill="#62f8d1"/><rect x="63.5" y="425.1" width="4" height="4" fill="#62f8cc"/><rect x="67.5" y="425.1" width="4" height="4" fill="#61f7c7"/><rect x="71.5" y="425.1" width="4" height="4" fill="#60f7c2"/><rect x="75.5" y="425.1" width="4" height="4" fill="#5ff6bc"/><rect x="79.5" y="425.1" width="4" height="4" fill="#5ff6b5"/><rect x="83.5" y="425.1" width="4" height="4" fill="#5ef5ae"/><rect x="87.5" y="425.1" width="4" height="4" fill="#5ef5a6"/><rect x="91.5" y="425.1" width="4" height="4" fill="#5ef49d"/><rect x="95.5" y="425.1" width="4" height="4" fill="#5ff393"/><rect x="99.5" y="425.1" width="4" height="4" fill="#5ff289"/><rect x="103.5" y="425.1" width="4" height="4" fill="#61f27c"/><rect x="107.5" y="425.1" width="4" height="4" fill="#60f466"/><rect x="111.5" y="425.1" width="4" height="4" fill="#5ff64f"/><rect x="115.5" y="425.1" width="4" height="4" fill="#60f740"/><rect x="119.5" y="425.1" width="4" height="4" fill="#60f836"/><rect x="123.5" y="425.1" width="4" height="4" fill="#5ef831"/><rect x="127.5" y="425.1" width="4" height="4" fill="#59f828"/><rect x="131.5" y="425.1" width="4" height="4" fill="#55f81f"/><rect x="135.5" y="425.1" width="4" height="4" fill="#54f816"/><rect x="139.5" y="425.1" width="4" height="4" fill="#59f60f"/><rect x="143.5" y="425.1" width="4" height="4" fill="#5ef409"/><rect x="147.5" y="425.1" width="4" height="4" fill="#6ef307"/><rect x="151.5" y="425.1" width="4" height="4" fill="#7ef206"/><rect x="155.5" y="425.1" width="4" height="4" fill="#8cf104"/><rect x="159.5" y="425.1" width="4" height="4" fill="#9bf005"/><rect x="163.5" y="425.1" width="4" height="4" fill="#abf008"/><rect x="167.5" y="425.1" width="4" height="4" fill="#b9f00a"/><rect x="171.5" y="425.1" width="4" height="4" fill="#c5f00d"/><rect x="175.5" y="425.1" width="4" height="4" fill="#d1f00f"/><rect x="179.5" y="425.1" width="4" height="4" fill="#dbf012"/><rect x="183.5" y="425.1" width="4" height="4" fill="#e1f016"/><rect x="187.5" y="425.1" width="4" height="4" fill="#e7f019"/><rect x="191.5" y="425.1" width="4" height="4" fill="#edf01c"/><rect x="195.5" y="425.1" width="4" height="4" fill="#f2f01f"/><rect x="199.5" y="425.1" width="4" height="4" fill="#f4ec21"/><rect x="203.5" y="425.1" width="4" height="4" fill="#f5e722"/><rect x="207.5" y="425.1" width="4" height="4" fill="#f6e224"/><rect x="211.5" y="425.1" width="4" height="4" fill="#f6dd25"/><rect x="215.5" y="425.1" width="4" height="4" fill="#f7d926"/><rect x="39.5" y="429.1" width="4" height="4" fill="#6cfae2"/><rect x="43.5" y="429.1" width="4" height="4" fill="#6bfae0"/><rect x="47.5" y="429.1" width="4" height="4" fill="#69f9dd"/><rect x="51.5" y="429.1" width="4" height="4" fill="#68f9db"/><rect x="55.5" y="429.1" width="4" height="4" fill="#67f9d8"/><rect x="59.5" y="429.1" width="4" height="4" fill="#65f9d6"/><rect x="63.5" y="429.1" width="4" height="4" fill="#64f8d3"/><rect x="67.5" y="429.1" width="4" height="4" fill="#62f8cf"/><rect x="71.5" y="429.1" width="4" height="4" fill="#62f8ca"/><rect x="75.5" y="429.1" width="4" height="4" fill="#61f7c4"/><rect x="79.5" y="429.1" width="4" height="4" fill="#61f7be"/><rect x="83.5" y="429.1" width="4" height="4" fill="#60f6b8"/><rect x="87.5" y="429.1" width="4" height="4" fill="#61f5b0"/><rect x="91.5" y="429.1" width="4" height="4" fill="#61f5a9"/><rect x="95.5" y="429.1" width="4" height="4" fill="#62f4a0"/><rect x="99.5" y="429.1" width="4" height="4" fill="#64f396"/><rect x="103.5" y="429.1" width="4" height="4" fill="#66f38c"/><rect x="107.5" y="429.1" width="4" height="4" fill="#67f37e"/><rect x="111.5" y="429.1" width="4" height="4" fill="#67f567"/><rect x="115.5" y="429.1" width="4" height="4" fill="#68f752"/><rect x="119.5" y="429.1" width="4" height="4" fill="#69f844"/><rect x="123.5" y="429.1" width="4" height="4" fill="#68f83f"/><rect x="127.5" y="429.1" width="4" height="4" fill="#63f836"/><rect x="131.5" y="429.1" width="4" height="4" fill="#5ef92c"/><rect x="135.5" y="429.1" width="4" height="4" fill="#59f921"/><rect x="139.5" y="429.1" width="4" height="4" fill="#5df717"/><rect x="143.5" y="429.1" width="4" height="4" fill="#61f50f"/><rect x="147.5" y="429.1" width="4" height="4" fill="#71f30c"/><rect x="151.5" y="429.1" width="4" height="4" fill="#81f209"/><rect x="155.5" y="429.1" width="4" height="4" fill="#8ff107"/><rect x="159.5" y="429.1" width="4" height="4" fill="#a0f008"/><rect x="163.5" y="429.1" width="4" height="4" fill="#aff00a"/><rect x="167.5" y="429.1" width="4" height="4" fill="#bef00d"/><rect x="171.5" y="429.1" width="4" height="4" fill="#cbf00f"/><rect x="175.5" y="429.1" width="4" height="4" fill="#d7f011"/><rect x="179.5" y="429.1" width="4" height="4" fill="#dff015"/><rect x="183.5" y="429.1" width="4" height="4" fill="#e5f018"/><rect x="187.5" y="429.1" width="4" height="4" fill="#ecf01c"/><rect x="191.5" y="429.1" width="4" height="4" fill="#f1f01f"/><rect x="195.5" y="429.1" width="4" height="4" fill="#f4ed21"/><rect x="199.5" y="429.1" width="4" height="4" fill="#f5e722"/><rect x="203.5" y="429.1" width="4" height="4" fill="#f6e224"/><rect x="207.5" y="429.1" width="4" height="4" fill="#f6dd25"/><rect x="211.5" y="429.1" width="4" height="4" fill="#f7d826"/><rect x="215.5" y="429.1" width="4" height="4" fill="#f8d327"/><rect x="219.5" y="429.1" width="4" height="4" fill="#f8cf28"/><rect x="39.5" y="433.1" width="4" height="4" fill="#6efae5"/><rect x="43.5" y="433.1" width="4" height="4" fill="#6dfae4"/><rect x="47.5" y="433.1" width="4" height="4" fill="#6cfae2"/><rect x="51.5" y="433.1" width="4" height="4" fill="#6bfae0"/><rect x="55.5" y="433.1" width="4" height="4" fill="#69f9dd"/><rect x="59.5" y="433.1" width="4" height="4" fill="#68f9db"/><rect x="63.5" y="433.1" width="4" height="4" fill="#67f9d8"/><rect x="67.5" y="433.1" width="4" height="4" fill="#65f9d5"/><rect x="71.5" y="433.1" width="4" height="4" fill="#64f8d1"/><rect x="75.5" y="433.1" width="4" height="4" fill="#63f8cd"/><rect x="79.5" y="433.1" width="4" height="4" fill="#63f7c7"/><rect x="83.5" y="433.1" width="4" height="4" fill="#63f7c1"/><rect x="87.5" y="433.1" width="4" height="4" fill="#63f6ba"/><rect x="91.5" y="433.1" width="4" height="4" fill="#64f6b3"/><rect x="95.5" y="433.1" width="4" height="4" fill="#66f5ac"/><rect x="99.5" y="433.1" width="4" height="4" fill="#68f5a3"/><rect x="103.5" y="433.1" width="4" height="4" fill="#6af49a"/><rect x="107.5" y="433.1" width="4" height="4" fill="#6ef390"/><rect x="111.5" y="433.1" width="4" height="4" fill="#70f480"/><rect x="115.5" y="433.1" width="4" height="4" fill="#71f66a"/><rect x="119.5" y="433.1" width="4" height="4" fill="#73f859"/><rect x="123.5" y="433.1" width="4" height="4" fill="#73f94f"/><rect x="127.5" y="433.1" width="4" height="4" fill="#6ff947"/><rect x="131.5" y="433.1" width="4" height="4" fill="#69f93c"/><rect x="135.5" y="433.1" width="4" height="4" fill="#62f92f"/><rect x="139.5" y="433.1" width="4" height="4" fill="#63f723"/><rect x="143.5" y="433.1" width="4" height="4" fill="#66f518"/><rect x="147.5" y="433.1" width="4" height="4" fill="#75f413"/><rect x="151.5" y="433.1" width="4" height="4" fill="#85f20f"/><rect x="155.5" y="433.1" width="4" height="4" fill="#94f10b"/><rect x="159.5" y="433.1" width="4" height="4" fill="#a5f10d"/><rect x="163.5" y="433.1" width="4" height="4" fill="#b5f00e"/><rect x="167.5" y="433.1" width="4" height="4" fill="#c4f010"/><rect x="171.5" y="433.1" width="4" height="4" fill="#d1f012"/><rect x="175.5" y="433.1" width="4" height="4" fill="#dcf014"/><rect x="179.5" y="433.1" width="4" height="4" fill="#e3f018"/><rect x="183.5" y="433.1" width="4" height="4" fill="#eaf01b"/><rect x="187.5" y="433.1" width="4" height="4" fill="#f0f01f"/><rect x="191.5" y="433.1" width="4" height="4" fill="#f4ed21"/><rect x="195.5" y="433.1" width="4" height="4" fill="#f5e723"/><rect x="199.5" y="433.1" width="4" height="4" fill="#f6e124"/><rect x="203.5" y="433.1" width="4" height="4" fill="#f7dc25"/><rect x="207.5" y="433.1" width="4" height="4" fill="#f7d726"/><rect x="211.5" y="433.1" width="4" height="4" fill="#f8d228"/><rect x="215.5" y="433.1" width="4" height="4" fill="#f8cd27"/><rect x="219.5" y="433.1" width="4" height="4" fill="#f8c726"/><rect x="223.5" y="433.1" width="4" height="4" fill="#f8c225"/><rect x="39.5" y="437.1" width="4" height="4" fill="#70fbe9"/><rect x="43.5" y="437.1" width="4" height="4" fill="#6ffbe8"/><rect x="47.5" y="437.1" width="4" height="4" fill="#6efae6"/><rect x="51.5" y="437.1" width="4" height="4" fill="#6dfae4"/><rect x="55.5" y="437.1" width="4" height="4" fill="#6cfae2"/><rect x="59.5" y="437.1" width="4" height="4" fill="#6bfae0"/><rect x="63.5" y="437.1" width="4" height="4" fill="#6af9dd"/><rect x="67.5" y="437.1" width="4" height="4" fill="#68f9da"/><rect x="71.5" y="437.1" width="4" height="4" fill="#67f9d7"/><rect x="75.5" y="437.1" width="4" height="4" fill="#66f8d4"/><rect x="79.5" y="437.1" width="4" height="4" fill="#65f8d0"/><rect x="83.5" y="437.1" width="4" height="4" fill="#65f8ca"/><rect x="87.5" y="437.1" width="4" height="4" fill="#66f7c4"/><rect x="91.5" y="437.1" width="4" height="4" fill="#67f7be"/><rect x="95.5" y="437.1" width="4" height="4" fill="#69f6b7"/><rect x="99.5" y="437.1" width="4" height="4" fill="#6cf6b0"/><rect x="103.5" y="437.1" width="4" height="4" fill="#6ff5a8"/><rect x="107.5" y="437.1" width="4" height="4" fill="#73f49f"/><rect x="111.5" y="437.1" width="4" height="4" fill="#78f496"/><rect x="115.5" y="437.1" width="4" height="4" fill="#7bf584"/><rect x="119.5" y="437.1" width="4" height="4" fill="#7df76e"/><rect x="123.5" y="437.1" width="4" height="4" fill="#7ff961"/><rect x="127.5" y="437.1" width="4" height="4" fill="#7ef95b"/><rect x="131.5" y="437.1" width="4" height="4" fill="#77f94f"/><rect x="135.5" y="437.1" width="4" height="4" fill="#6ff940"/><rect x="139.5" y="437.1" width="4" height="4" fill="#6cf832"/><rect x="143.5" y="437.1" width="4" height="4" fill="#6df624"/><rect x="147.5" y="437.1" width="4" height="4" fill="#7af41c"/><rect x="151.5" y="437.1" width="4" height="4" fill="#8af217"/><rect x="155.5" y="437.1" width="4" height="4" fill="#9af112"/><rect x="159.5" y="437.1" width="4" height="4" fill="#abf113"/><rect x="163.5" y="437.1" width="4" height="4" fill="#bcf113"/><rect x="167.5" y="437.1" width="4" height="4" fill="#cbf014"/><rect x="171.5" y="437.1" width="4" height="4" fill="#d9f015"/><rect x="175.5" y="437.1" width="4" height="4" fill="#e1f019"/><rect x="179.5" y="437.1" width="4" height="4" fill="#e8f01c"/><rect x="183.5" y="437.1" width="4" height="4" fill="#eff01f"/><rect x="187.5" y="437.1" width="4" height="4" fill="#f4ee22"/><rect x="191.5" y="437.1" width="4" height="4" fill="#f5e723"/><rect x="195.5" y="437.1" width="4" height="4" fill="#f6e124"/><rect x="199.5" y="437.1" width="4" height="4" fill="#f7db26"/><rect x="203.5" y="437.1" width="4" height="4" fill="#f7d527"/><rect x="207.5" y="437.1" width="4" height="4" fill="#f8d028"/><rect x="211.5" y="437.1" width="4" height="4" fill="#f8ca27"/><rect x="215.5" y="437.1" width="4" height="4" fill="#f8c526"/><rect x="219.5" y="437.1" width="4" height="4" fill="#f8bf25"/><rect x="223.5" y="437.1" width="4" height="4" fill="#f8ba24"/><rect x="227.5" y="437.1" width="4" height="4" fill="#f8b523"/><rect x="39.5" y="441.1" width="4" height="4" fill="#72fbed"/><rect x="43.5" y="441.1" width="4" height="4" fill="#71fbec"/><rect x="47.5" y="441.1" width="4" height="4" fill="#71fbea"/><rect x="51.5" y="441.1" width="4" height="4" fill="#70fbe8"/><rect x="55.5" y="441.1" width="4" height="4" fill="#6ffbe7"/><rect x="59.5" y="441.1" width="4" height="4" fill="#6efae4"/><rect x="63.5" y="441.1" width="4" height="4" fill="#6cfae2"/><rect x="67.5" y="441.1" width="4" height="4" fill="#6bfae0"/><rect x="71.5" y="441.1" width="4" height="4" fill="#6af9dd"/><rect x="75.5" y="441.1" width="4" height="4" fill="#69f9da"/><rect x="79.5" y="441.1" width="4" height="4" fill="#68f9d7"/><rect x="83.5" y="441.1" width="4" height="4" fill="#68f8d3"/><rect x="87.5" y="441.1" width="4" height="4" fill="#68f8ce"/><rect x="91.5" y="441.1" width="4" height="4" fill="#6af8c9"/><rect x="95.5" y="441.1" width="4" height="4" fill="#6cf7c2"/><rect x="99.5" y="441.1" width="4" height="4" fill="#6ff7bc"/><rect x="103.5" y="441.1" width="4" height="4" fill="#74f6b5"/><rect x="107.5" y="441.1" width="4" height="4" fill="#79f6ae"/><rect x="111.5" y="441.1" width="4" height="4" fill="#7ff5a6"/><rect x="115.5" y="441.1" width="4" height="4" fill="#85f59e"/><rect x="119.5" y="441.1" width="4" height="4" fill="#88f78a"/><rect x="123.5" y="441.1" width="4" height="4" fill="#8bf978"/><rect x="127.5" y="441.1" width="4" height="4" fill="#8cfa6f"/><rect x="131.5" y="441.1" width="4" height="4" fill="#87fa65"/><rect x="135.5" y="441.1" width="4" height="4" fill="#7efa56"/><rect x="139.5" y="441.1" width="4" height="4" fill="#77f945"/><rect x="143.5" y="441.1" width="4" height="4" fill="#77f734"/><rect x="147.5" y="441.1" width="4" height="4" fill="#82f52a"/><rect x="151.5" y="441.1" width="4" height="4" fill="#92f322"/><rect x="155.5" y="441.1" width="4" height="4" fill="#a1f21d"/><rect x="159.5" y="441.1" width="4" height="4" fill="#b3f11b"/><rect x="163.5" y="441.1" width="4" height="4" fill="#c4f11b"/><rect x="167.5" y="441.1" width="4" height="4" fill="#d3f11a"/><rect x="171.5" y="441.1" width="4" height="4" fill="#def11c"/><rect x="175.5" y="441.1" width="4" height="4" fill="#e7f01e"/><rect x="179.5" y="441.1" width="4" height="4" fill="#eef021"/><rect x="183.5" y="441.1" width="4" height="4" fill="#f4ef24"/><rect x="187.5" y="441.1" width="4" height="4" fill="#f5e724"/><rect x="191.5" y="441.1" width="4" height="4" fill="#f6e026"/><rect x="195.5" y="441.1" width="4" height="4" fill="#f7da27"/><rect x="199.5" y="441.1" width="4" height="4" fill="#f8d428"/><rect x="203.5" y="441.1" width="4" height="4" fill="#f8ce28"/><rect x="207.5" y="441.1" width="4" height="4" fill="#f8c727"/><rect x="211.5" y="441.1" width="4" height="4" fill="#f8c125"/><rect x="215.5" y="441.1" width="4" height="4" fill="#f8bc24"/><rect x="219.5" y="441.1" width="4" height="4" fill="#f8b623"/><rect x="223.5" y="441.1" width="4" height="4" fill="#f8b122"/><rect x="227.5" y="441.1" width="4" height="4" fill="#f8ac21"/><rect x="231.5" y="441.1" width="4" height="4" fill="#f8a820"/><rect x="39.5" y="445.1" width="4" height="4" fill="#74fcf1"/><rect x="43.5" y="445.1" width="4" height="4" fill="#74fcf0"/><rect x="47.5" y="445.1" width="4" height="4" fill="#73fbee"/><rect x="51.5" y="445.1" width="4" height="4" fill="#72fbed"/><rect x="55.5" y="445.1" width="4" height="4" fill="#71fbeb"/><rect x="59.5" y="445.1" width="4" height="4" fill="#70fbe9"/><rect x="63.5" y="445.1" width="4" height="4" fill="#6ffbe7"/><rect x="67.5" y="445.1" width="4" height="4" fill="#6efae5"/><rect x="71.5" y="445.1" width="4" height="4" fill="#6dfae3"/><rect x="75.5" y="445.1" width="4" height="4" fill="#6cfae0"/><rect x="79.5" y="445.1" width="4" height="4" fill="#6cf9dd"/><rect x="83.5" y="445.1" width="4" height="4" fill="#6bf9da"/><rect x="87.5" y="445.1" width="4" height="4" fill="#6cf9d7"/><rect x="91.5" y="445.1" width="4" height="4" fill="#6cf8d3"/><rect x="95.5" y="445.1" width="4" height="4" fill="#6ff8cd"/><rect x="99.5" y="445.1" width="4" height="4" fill="#73f8c8"/><rect x="103.5" y="445.1" width="4" height="4" fill="#78f7c2"/><rect x="107.5" y="445.1" width="4" height="4" fill="#7ef7bc"/><rect x="111.5" y="445.1" width="4" height="4" fill="#85f7b5"/><rect x="115.5" y="445.1" width="4" height="4" fill="#8df6ae"/><rect x="119.5" y="445.1" width="4" height="4" fill="#94f6a6"/><rect x="123.5" y="445.1" width="4" height="4" fill="#97f892"/><rect x="127.5" y="445.1" width="4" height="4" fill="#9bfa85"/><rect x="131.5" y="445.1" width="4" height="4" fill="#99fa7d"/><rect x="135.5" y="445.1" width="4" height="4" fill="#90fb6f"/><rect x="139.5" y="445.1" width="4" height="4" fill="#86fa5c"/><rect x="143.5" y="445.1" width="4" height="4" fill="#83f848"/><rect x="147.5" y="445.1" width="4" height="4" fill="#8cf63b"/><rect x="151.5" y="445.1" width="4" height="4" fill="#9bf431"/><rect x="155.5" y="445.1" width="4" height="4" fill="#abf22a"/><rect x="159.5" y="445.1" width="4" height="4" fill="#bcf227"/><rect x="163.5" y="445.1" width="4" height="4" fill="#cdf225"/><rect x="167.5" y="445.1" width="4" height="4" fill="#dcf123"/><rect x="171.5" y="445.1" width="4" height="4" fill="#e5f124"/><rect x="175.5" y="445.1" width="4" height="4" fill="#edf126"/><rect x="179.5" y="445.1" width="4" height="4" fill="#f4f028"/><rect x="183.5" y="445.1" width="4" height="4" fill="#f5e828"/><rect x="187.5" y="445.1" width="4" height="4" fill="#f6e028"/><rect x="191.5" y="445.1" width="4" height="4" fill="#f7d929"/><rect x="195.5" y="445.1" width="4" height="4" fill="#f8d229"/><rect x="199.5" y="445.1" width="4" height="4" fill="#f8cb28"/><rect x="203.5" y="445.1" width="4" height="4" fill="#f8c426"/><rect x="207.5" y="445.1" width="4" height="4" fill="#f8be25"/><rect x="211.5" y="445.1" width="4" height="4" fill="#f8b823"/><rect x="215.5" y="445.1" width="4" height="4" fill="#f8b222"/><rect x="219.5" y="445.1" width="4" height="4" fill="#f8ad21"/><rect x="223.5" y="445.1" width="4" height="4" fill="#f8a820"/><rect x="227.5" y="445.1" width="4" height="4" fill="#f8a520"/><rect x="231.5" y="445.1" width="4" height="4" fill="#f8a220"/><rect x="235.5" y="445.1" width="4" height="4" fill="#f89f20"/><rect x="239.5" y="445.1" width="4" height="4" fill="#f89c20"/><rect x="39.5" y="449.1" width="4" height="4" fill="#76fcf4"/><rect x="43.5" y="449.1" width="4" height="4" fill="#76fcf4"/><rect x="47.5" y="449.1" width="4" height="4" fill="#75fcf2"/><rect x="51.5" y="449.1" width="4" height="4" fill="#74fcf1"/><rect x="55.5" y="449.1" width="4" height="4" fill="#74fcf0"/><rect x="59.5" y="449.1" width="4" height="4" fill="#73fbee"/><rect x="63.5" y="449.1" width="4" height="4" fill="#72fbec"/><rect x="67.5" y="449.1" width="4" height="4" fill="#71fbea"/><rect x="71.5" y="449.1" width="4" height="4" fill="#70fbe8"/><rect x="75.5" y="449.1" width="4" height="4" fill="#70fae6"/><rect x="79.5" y="449.1" width="4" height="4" fill="#6ffae3"/><rect x="83.5" y="449.1" width="4" height="4" fill="#6ffae0"/><rect x="87.5" y="449.1" width="4" height="4" fill="#6ffade"/><rect x="91.5" y="449.1" width="4" height="4" fill="#71f9da"/><rect x="95.5" y="449.1" width="4" height="4" fill="#73f9d7"/><rect x="99.5" y="449.1" width="4" height="4" fill="#76f9d3"/><rect x="103.5" y="449.1" width="4" height="4" fill="#7cf8ce"/><rect x="107.5" y="449.1" width="4" height="4" fill="#82f8c8"/><rect x="111.5" y="449.1" width="4" height="4" fill="#8bf8c3"/><rect x="115.5" y="449.1" width="4" height="4" fill="#94f8be"/><rect x="119.5" y="449.1" width="4" height="4" fill="#9cf7b8"/><rect x="123.5" y="449.1" width="4" height="4" fill="#a4f8af"/><rect x="127.5" y="449.1" width="4" height="4" fill="#a8fa9d"/><rect x="131.5" y="449.1" width="4" height="4" fill="#aafb94"/><rect x="135.5" y="449.1" width="4" height="4" fill="#a4fb89"/><rect x="139.5" y="449.1" width="4" height="4" fill="#98fb76"/><rect x="143.5" y="449.1" width="4" height="4" fill="#92f961"/><rect x="147.5" y="449.1" width="4" height="4" fill="#98f750"/><rect x="151.5" y="449.1" width="4" height="4" fill="#a6f544"/><rect x="155.5" y="449.1" width="4" height="4" fill="#b6f33c"/><rect x="159.5" y="449.1" width="4" height="4" fill="#c7f336"/><rect x="163.5" y="449.1" width="4" height="4" fill="#d7f232"/><rect x="167.5" y="449.1" width="4" height="4" fill="#e3f230"/><rect x="171.5" y="449.1" width="4" height="4" fill="#ecf12f"/><rect x="175.5" y="449.1" width="4" height="4" fill="#f4f12f"/><rect x="179.5" y="449.1" width="4" height="4" fill="#f6e92e"/><rect x="183.5" y="449.1" width="4" height="4" fill="#f6e02d"/><rect x="187.5" y="449.1" width="4" height="4" fill="#f7d82d"/><rect x="191.5" y="449.1" width="4" height="4" fill="#f8d12c"/><rect x="195.5" y="449.1" width="4" height="4" fill="#f8c829"/><rect x="199.5" y="449.1" width="4" height="4" fill="#f8c127"/><rect x="203.5" y="449.1" width="4" height="4" fill="#f8ba25"/><rect x="207.5" y="449.1" width="4" height="4" fill="#f8b323"/><rect x="211.5" y="449.1" width="4" height="4" fill="#f8ad21"/><rect x="215.5" y="449.1" width="4" height="4" fill="#f8a720"/><rect x="219.5" y="449.1" width="4" height="4" fill="#f8a420"/><rect x="223.5" y="449.1" width="4" height="4" fill="#f8a120"/><rect x="227.5" y="449.1" width="4" height="4" fill="#f89d20"/><rect x="231.5" y="449.1" width="4" height="4" fill="#f89a20"/><rect x="235.5" y="449.1" width="4" height="4" fill="#f89720"/><rect x="239.5" y="449.1" width="4" height="4" fill="#f89520"/><rect x="243.5" y="449.1" width="4" height="4" fill="#f89220"/><rect x="43.5" y="453.1" width="4" height="4" fill="#75fbf5"/><rect x="47.5" y="453.1" width="4" height="4" fill="#76fbf5"/><rect x="51.5" y="453.1" width="4" height="4" fill="#76fcf4"/><rect x="55.5" y="453.1" width="4" height="4" fill="#76fcf4"/><rect x="59.5" y="453.1" width="4" height="4" fill="#75fcf3"/><rect x="63.5" y="453.1" width="4" height="4" fill="#75fcf1"/><rect x="67.5" y="453.1" width="4" height="4" fill="#74fcef"/><rect x="71.5" y="453.1" width="4" height="4" fill="#73fbee"/><rect x="75.5" y="453.1" width="4" height="4" fill="#73fbec"/><rect x="79.5" y="453.1" width="4" height="4" fill="#73fbe9"/><rect x="83.5" y="453.1" width="4" height="4" fill="#73fbe7"/><rect x="87.5" y="453.1" width="4" height="4" fill="#73fae4"/><rect x="91.5" y="453.1" width="4" height="4" fill="#75fae2"/><rect x="95.5" y="453.1" width="4" height="4" fill="#77fadf"/><rect x="99.5" y="453.1" width="4" height="4" fill="#7bfadc"/><rect x="103.5" y="453.1" width="4" height="4" fill="#7ff9d9"/><rect x="107.5" y="453.1" width="4" height="4" fill="#87f9d5"/><rect x="111.5" y="453.1" width="4" height="4" fill="#8ff9d0"/><rect x="115.5" y="453.1" width="4" height="4" fill="#99f9cc"/><rect x="119.5" y="453.1" width="4" height="4" fill="#a4f9c8"/><rect x="123.5" y="453.1" width="4" height="4" fill="#aef9c3"/><rect x="127.5" y="453.1" width="4" height="4" fill="#b5fab9"/><rect x="131.5" y="453.1" width="4" height="4" fill="#b9fbab"/><rect x="135.5" y="453.1" width="4" height="4" fill="#b7fca4"/><rect x="139.5" y="453.1" width="4" height="4" fill="#adfc93"/><rect x="143.5" y="453.1" width="4" height="4" fill="#a4fa7c"/><rect x="147.5" y="453.1" width="4" height="4" fill="#a6f869"/><rect x="151.5" y="453.1" width="4" height="4" fill="#b3f65b"/><rect x="155.5" y="453.1" width="4" height="4" fill="#c3f551"/><rect x="159.5" y="453.1" width="4" height="4" fill="#d3f449"/><rect x="163.5" y="453.1" width="4" height="4" fill="#e2f343"/><rect x="167.5" y="453.1" width="4" height="4" fill="#ebf33f"/><rect x="171.5" y="453.1" width="4" height="4" fill="#f3f23d"/><rect x="175.5" y="453.1" width="4" height="4" fill="#f6ea3a"/><rect x="179.5" y="453.1" width="4" height="4" fill="#f7e137"/><rect x="183.5" y="453.1" width="4" height="4" fill="#f8d834"/><rect x="187.5" y="453.1" width="4" height="4" fill="#f8cf31"/><rect x="191.5" y="453.1" width="4" height="4" fill="#f8c52c"/><rect x="195.5" y="453.1" width="4" height="4" fill="#f8bd29"/><rect x="199.5" y="453.1" width="4" height="4" fill="#f8b526"/><rect x="203.5" y="453.1" width="4" height="4" fill="#f8ae23"/><rect x="207.5" y="453.1" width="4" height="4" fill="#f8a721"/><rect x="211.5" y="453.1" width="4" height="4" fill="#f8a321"/><rect x="215.5" y="453.1" width="4" height="4" fill="#f8a021"/><rect x="219.5" y="453.1" width="4" height="4" fill="#f89c20"/><rect x="223.5" y="453.1" width="4" height="4" fill="#f89820"/><rect x="227.5" y="453.1" width="4" height="4" fill="#f89520"/><rect x="231.5" y="453.1" width="4" height="4" fill="#f89220"/><rect x="235.5" y="453.1" width="4" height="4" fill="#f88f20"/><rect x="239.5" y="453.1" width="4" height="4" fill="#f88d20"/><rect x="243.5" y="453.1" width="4" height="4" fill="#f88b20"/><rect x="247.5" y="453.1" width="4" height="4" fill="#f88820"/><rect x="43.5" y="457.1" width="4" height="4" fill="#75faf6"/><rect x="47.5" y="457.1" width="4" height="4" fill="#75faf6"/><rect x="51.5" y="457.1" width="4" height="4" fill="#75faf6"/><rect x="55.5" y="457.1" width="4" height="4" fill="#75fbf5"/><rect x="59.5" y="457.1" width="4" height="4" fill="#76fbf5"/><rect x="63.5" y="457.1" width="4" height="4" fill="#76fbf5"/><rect x="67.5" y="457.1" width="4" height="4" fill="#77fcf4"/><rect x="71.5" y="457.1" width="4" height="4" fill="#76fcf3"/><rect x="75.5" y="457.1" width="4" height="4" fill="#76fcf1"/><rect x="79.5" y="457.1" width="4" height="4" fill="#76fcef"/><rect x="83.5" y="457.1" width="4" height="4" fill="#76fbed"/><rect x="87.5" y="457.1" width="4" height="4" fill="#77fbeb"/><rect x="91.5" y="457.1" width="4" height="4" fill="#79fbe9"/><rect x="95.5" y="457.1" width="4" height="4" fill="#7bfbe6"/><rect x="99.5" y="457.1" width="4" height="4" fill="#7ffae4"/><rect x="103.5" y="457.1" width="4" height="4" fill="#84fae2"/><rect x="107.5" y="457.1" width="4" height="4" fill="#8bfadf"/><rect x="111.5" y="457.1" width="4" height="4" fill="#94fadd"/><rect x="115.5" y="457.1" width="4" height="4" fill="#9efad9"/><rect x="119.5" y="457.1" width="4" height="4" fill="#aafad6"/><rect x="123.5" y="457.1" width="4" height="4" fill="#b5fad3"/><rect x="127.5" y="457.1" width="4" height="4" fill="#c0facf"/><rect x="131.5" y="457.1" width="4" height="4" fill="#c6fbc4"/><rect x="135.5" y="457.1" width="4" height="4" fill="#c9fdbb"/><rect x="139.5" y="457.1" width="4" height="4" fill="#c2fdaf"/><rect x="143.5" y="457.1" width="4" height="4" fill="#b7fc9a"/><rect x="147.5" y="457.1" width="4" height="4" fill="#b7f985"/><rect x="151.5" y="457.1" width="4" height="4" fill="#c2f776"/><rect x="155.5" y="457.1" width="4" height="4" fill="#d0f66b"/><rect x="159.5" y="457.1" width="4" height="4" fill="#e0f560"/><rect x="163.5" y="457.1" width="4" height="4" fill="#eaf459"/><rect x="167.5" y="457.1" width="4" height="4" fill="#f3f453"/><rect x="171.5" y="457.1" width="4" height="4" fill="#f7ec4d"/><rect x="175.5" y="457.1" width="4" height="4" fill="#f8e247"/><rect x="179.5" y="457.1" width="4" height="4" fill="#f9d841"/><rect x="183.5" y="457.1" width="4" height="4" fill="#f9cd3a"/><rect x="187.5" y="457.1" width="4" height="4" fill="#f8c333"/><rect x="191.5" y="457.1" width="4" height="4" fill="#f8b92d"/><rect x="195.5" y="457.1" width="4" height="4" fill="#f8b029"/><rect x="199.5" y="457.1" width="4" height="4" fill="#f8a825"/><rect x="203.5" y="457.1" width="4" height="4" fill="#f8a324"/><rect x="207.5" y="457.1" width="4" height="4" fill="#f89f22"/><rect x="211.5" y="457.1" width="4" height="4" fill="#f89a22"/><rect x="215.5" y="457.1" width="4" height="4" fill="#f89621"/><rect x="219.5" y="457.1" width="4" height="4" fill="#f89321"/><rect x="223.5" y="457.1" width="4" height="4" fill="#f88f20"/><rect x="227.5" y="457.1" width="4" height="4" fill="#f88c20"/><rect x="231.5" y="457.1" width="4" height="4" fill="#f88a20"/><rect x="235.5" y="457.1" width="4" height="4" fill="#f88720"/><rect x="239.5" y="457.1" width="4" height="4" fill="#f88420"/><rect x="243.5" y="457.1" width="4" height="4" fill="#f88220"/><rect x="247.5" y="457.1" width="4" height="4" fill="#f87f20"/><rect x="251.5" y="457.1" width="4" height="4" fill="#f97d20"/><rect x="43.5" y="461.1" width="4" height="4" fill="#74f9f8"/><rect x="47.5" y="461.1" width="4" height="4" fill="#74f9f8"/><rect x="51.5" y="461.1" width="4" height="4" fill="#74f9f7"/><rect x="55.5" y="461.1" width="4" height="4" fill="#75f9f7"/><rect x="59.5" y="461.1" width="4" height="4" fill="#75faf7"/><rect x="63.5" y="461.1" width="4" height="4" fill="#75faf6"/><rect x="67.5" y="461.1" width="4" height="4" fill="#76faf6"/><rect x="71.5" y="461.1" width="4" height="4" fill="#76fbf5"/><rect x="75.5" y="461.1" width="4" height="4" fill="#77fbf5"/><rect x="79.5" y="461.1" width="4" height="4" fill="#79fcf5"/><rect x="83.5" y="461.1" width="4" height="4" fill="#7afcf4"/><rect x="87.5" y="461.1" width="4" height="4" fill="#7bfcf2"/><rect x="91.5" y="461.1" width="4" height="4" fill="#7dfcf0"/><rect x="95.5" y="461.1" width="4" height="4" fill="#80fbee"/><rect x="99.5" y="461.1" width="4" height="4" fill="#84fbec"/><rect x="103.5" y="461.1" width="4" height="4" fill="#89fbe9"/><rect x="107.5" y="461.1" width="4" height="4" fill="#90fbe8"/><rect x="111.5" y="461.1" width="4" height="4" fill="#99fbe6"/><rect x="115.5" y="461.1" width="4" height="4" fill="#a3fbe4"/><rect x="119.5" y="461.1" width="4" height="4" fill="#affbe2"/><rect x="123.5" y="461.1" width="4" height="4" fill="#bbfbdf"/><rect x="127.5" y="461.1" width="4" height="4" fill="#c7fbdd"/><rect x="131.5" y="461.1" width="4" height="4" fill="#d2fbdb"/><rect x="135.5" y="461.1" width="4" height="4" fill="#d6fdd0"/><rect x="139.5" y="461.1" width="4" height="4" fill="#d5fdc9"/><rect x="143.5" y="461.1" width="4" height="4" fill="#cbfdb8"/><rect x="147.5" y="461.1" width="4" height="4" fill="#c8fba2"/><rect x="151.5" y="461.1" width="4" height="4" fill="#d1f993"/><rect x="155.5" y="461.1" width="4" height="4" fill="#dff886"/><rect x="159.5" y="461.1" width="4" height="4" fill="#ebf77b"/><rect x="163.5" y="461.1" width="4" height="4" fill="#f4f672"/><rect x="167.5" y="461.1" width="4" height="4" fill="#f8ef69"/><rect x="171.5" y="461.1" width="4" height="4" fill="#f9e45f"/><rect x="175.5" y="461.1" width="4" height="4" fill="#f9d955"/><rect x="179.5" y="461.1" width="4" height="4" fill="#f9cc49"/><rect x="183.5" y="461.1" width="4" height="4" fill="#f9c03f"/><rect x="187.5" y="461.1" width="4" height="4" fill="#f9b536"/><rect x="191.5" y="461.1" width="4" height="4" fill="#f9ac30"/><rect x="195.5" y="461.1" width="4" height="4" fill="#f8a52c"/><rect x="199.5" y="461.1" width="4" height="4" fill="#f89f28"/><rect x="203.5" y="461.1" width="4" height="4" fill="#f89926"/><rect x="207.5" y="461.1" width="4" height="4" fill="#f89424"/><rect x="211.5" y="461.1" width="4" height="4" fill="#f89023"/><rect x="215.5" y="461.1" width="4" height="4" fill="#f88c22"/><rect x="219.5" y="461.1" width="4" height="4" fill="#f88921"/><rect x="223.5" y="461.1" width="4" height="4" fill="#f88521"/><rect x="227.5" y="461.1" width="4" height="4" fill="#f88220"/><rect x="231.5" y="461.1" width="4" height="4" fill="#f87f20"/><rect x="235.5" y="461.1" width="4" height="4" fill="#f97d20"/><rect x="239.5" y="461.1" width="4" height="4" fill="#f97a20"/><rect x="243.5" y="461.1" width="4" height="4" fill="#f97820"/><rect x="247.5" y="461.1" width="4" height="4" fill="#f97620"/><rect x="251.5" y="461.1" width="4" height="4" fill="#fa7420"/><rect x="255.5" y="461.1" width="4" height="4" fill="#fa7220"/><rect x="43.5" y="465.1" width="4" height="4" fill="#73f7f9"/><rect x="47.5" y="465.1" width="4" height="4" fill="#73f8f9"/><rect x="51.5" y="465.1" width="4" height="4" fill="#74f8f9"/><rect x="55.5" y="465.1" width="4" height="4" fill="#74f8f8"/><rect x="59.5" y="465.1" width="4" height="4" fill="#74f8f8"/><rect x="63.5" y="465.1" width="4" height="4" fill="#75f9f8"/><rect x="67.5" y="465.1" width="4" height="4" fill="#75f9f8"/><rect x="71.5" y="465.1" width="4" height="4" fill="#76f9f7"/><rect x="75.5" y="465.1" width="4" height="4" fill="#77faf7"/><rect x="79.5" y="465.1" width="4" height="4" fill="#78faf7"/><rect x="83.5" y="465.1" width="4" height="4" fill="#7afaf6"/><rect x="87.5" y="465.1" width="4" height="4" fill="#7cfbf6"/><rect x="91.5" y="465.1" width="4" height="4" fill="#80fcf5"/><rect x="95.5" y="465.1" width="4" height="4" fill="#84fcf5"/><rect x="99.5" y="465.1" width="4" height="4" fill="#88fcf3"/><rect x="103.5" y="465.1" width="4" height="4" fill="#8efcf1"/><rect x="107.5" y="465.1" width="4" height="4" fill="#95fcef"/><rect x="111.5" y="465.1" width="4" height="4" fill="#9efcee"/><rect x="115.5" y="465.1" width="4" height="4" fill="#a8fced"/><rect x="119.5" y="465.1" width="4" height="4" fill="#b3fcec"/><rect x="123.5" y="465.1" width="4" height="4" fill="#c0fceb"/><rect x="127.5" y="465.1" width="4" height="4" fill="#cdfce9"/><rect x="131.5" y="465.1" width="4" height="4" fill="#d9fce8"/><rect x="135.5" y="465.1" width="4" height="4" fill="#e1fde5"/><rect x="139.5" y="465.1" width="4" height="4" fill="#e5fede"/><rect x="143.5" y="465.1" width="4" height="4" fill="#ddfed3"/><rect x="147.5" y="465.1" width="4" height="4" fill="#d8fcbf"/><rect x="151.5" y="465.1" width="4" height="4" fill="#e1fab1"/><rect x="155.5" y="465.1" width="4" height="4" fill="#ecf9a4"/><rect x="159.5" y="465.1" width="4" height="4" fill="#f5f898"/><rect x="163.5" y="465.1" width="4" height="4" fill="#faf38d"/><rect x="167.5" y="465.1" width="4" height="4" fill="#fae880"/><rect x="171.5" y="465.1" width="4" height="4" fill="#fadb71"/><rect x="175.5" y="465.1" width="4" height="4" fill="#face61"/><rect x="179.5" y="465.1" width="4" height="4" fill="#fac053"/><rect x="183.5" y="465.1" width="4" height="4" fill="#f9b447"/><rect x="187.5" y="465.1" width="4" height="4" fill="#f9ab3e"/><rect x="191.5" y="465.1" width="4" height="4" fill="#f9a337"/><rect x="195.5" y="465.1" width="4" height="4" fill="#f99b31"/><rect x="199.5" y="465.1" width="4" height="4" fill="#f8942d"/><rect x="203.5" y="465.1" width="4" height="4" fill="#f88f29"/><rect x="207.5" y="465.1" width="4" height="4" fill="#f88926"/><rect x="211.5" y="465.1" width="4" height="4" fill="#f88424"/><rect x="215.5" y="465.1" width="4" height="4" fill="#f98023"/><rect x="219.5" y="465.1" width="4" height="4" fill="#f97d22"/><rect x="223.5" y="465.1" width="4" height="4" fill="#f97a21"/><rect x="227.5" y="465.1" width="4" height="4" fill="#f97721"/><rect x="231.5" y="465.1" width="4" height="4" fill="#fa7421"/><rect x="235.5" y="465.1" width="4" height="4" fill="#fa7220"/><rect x="239.5" y="465.1" width="4" height="4" fill="#fa6f20"/><rect x="243.5" y="465.1" width="4" height="4" fill="#fa6d20"/><rect x="247.5" y="465.1" width="4" height="4" fill="#fa6b20"/><rect x="251.5" y="465.1" width="4" height="4" fill="#fb6920"/><rect x="255.5" y="465.1" width="4" height="4" fill="#fb6820"/><rect x="259.5" y="465.1" width="4" height="4" fill="#fb6620"/><rect x="43.5" y="469.1" width="4" height="4" fill="#73f6fa"/><rect x="47.5" y="469.1" width="4" height="4" fill="#73f7fa"/><rect x="51.5" y="469.1" width="4" height="4" fill="#73f7fa"/><rect x="55.5" y="469.1" width="4" height="4" fill="#73f7fa"/><rect x="59.5" y="469.1" width="4" height="4" fill="#73f7fa"/><rect x="63.5" y="469.1" width="4" height="4" fill="#74f7f9"/><rect x="67.5" y="469.1" width="4" height="4" fill="#74f7f9"/><rect x="71.5" y="469.1" width="4" height="4" fill="#75f8f9"/><rect x="75.5" y="469.1" width="4" height="4" fill="#76f8f9"/><rect x="79.5" y="469.1" width="4" height="4" fill="#78f8f8"/><rect x="83.5" y="469.1" width="4" height="4" fill="#7af9f8"/><rect x="87.5" y="469.1" width="4" height="4" fill="#7cf9f8"/><rect x="91.5" y="469.1" width="4" height="4" fill="#80faf8"/><rect x="95.5" y="469.1" width="4" height="4" fill="#85faf7"/><rect x="99.5" y="469.1" width="4" height="4" fill="#8afbf7"/><rect x="103.5" y="469.1" width="4" height="4" fill="#91fcf7"/><rect x="107.5" y="469.1" width="4" height="4" fill="#99fdf7"/><rect x="111.5" y="469.1" width="4" height="4" fill="#a2fdf6"/><rect x="115.5" y="469.1" width="4" height="4" fill="#adfdf4"/><rect x="119.5" y="469.1" width="4" height="4" fill="#b8fdf3"/><rect x="123.5" y="469.1" width="4" height="4" fill="#c4fdf3"/><rect x="127.5" y="469.1" width="4" height="4" fill="#d1fdf2"/><rect x="131.5" y="469.1" width="4" height="4" fill="#ddfdf2"/><rect x="135.5" y="469.1" width="4" height="4" fill="#e8fdf1"/><rect x="139.5" y="469.1" width="4" height="4" fill="#eefeee"/><rect x="143.5" y="469.1" width="4" height="4" fill="#edfee8"/><rect x="147.5" y="469.1" width="4" height="4" fill="#e8fdd9"/><rect x="151.5" y="469.1" width="4" height="4" fill="#eefccc"/><rect x="155.5" y="469.1" width="4" height="4" fill="#f7fbc0"/><rect x="159.5" y="469.1" width="4" height="4" fill="#fcf8b5"/><rect x="163.5" y="469.1" width="4" height="4" fill="#fceda6"/><rect x="167.5" y="469.1" width="4" height="4" fill="#fce094"/><rect x="171.5" y="469.1" width="4" height="4" fill="#fbd181"/><rect x="175.5" y="469.1" width="4" height="4" fill="#fbc470"/><rect x="179.5" y="469.1" width="4" height="4" fill="#fab862"/><rect x="183.5" y="469.1" width="4" height="4" fill="#faad55"/><rect x="187.5" y="469.1" width="4" height="4" fill="#f9a24a"/><rect x="191.5" y="469.1" width="4" height="4" fill="#f99940"/><rect x="195.5" y="469.1" width="4" height="4" fill="#f99039"/><rect x="199.5" y="469.1" width="4" height="4" fill="#f98933"/><rect x="203.5" y="469.1" width="4" height="4" fill="#f9822e"/><rect x="207.5" y="469.1" width="4" height="4" fill="#fa7d2a"/><rect x="211.5" y="469.1" width="4" height="4" fill="#fa7827"/><rect x="215.5" y="469.1" width="4" height="4" fill="#fa7325"/><rect x="219.5" y="469.1" width="4" height="4" fill="#fa7023"/><rect x="223.5" y="469.1" width="4" height="4" fill="#fa6c22"/><rect x="227.5" y="469.1" width="4" height="4" fill="#fb6922"/><rect x="231.5" y="469.1" width="4" height="4" fill="#fb6721"/><rect x="235.5" y="469.1" width="4" height="4" fill="#fb6521"/><rect x="239.5" y="469.1" width="4" height="4" fill="#fb6320"/><rect x="243.5" y="469.1" width="4" height="4" fill="#fb6120"/><rect x="247.5" y="469.1" width="4" height="4" fill="#fc5f20"/><rect x="251.5" y="469.1" width="4" height="4" fill="#fc5d20"/><rect x="255.5" y="469.1" width="4" height="4" fill="#fc5c20"/><rect x="259.5" y="469.1" width="4" height="4" fill="#fc5a20"/><rect x="263.5" y="469.1" width="4" height="4" fill="#fc5920"/><rect x="47.5" y="473.1" width="4" height="4" fill="#72f5fb"/><rect x="51.5" y="473.1" width="4" height="4" fill="#72f5fb"/><rect x="55.5" y="473.1" width="4" height="4" fill="#72f6fb"/><rect x="59.5" y="473.1" width="4" height="4" fill="#73f6fb"/><rect x="63.5" y="473.1" width="4" height="4" fill="#73f6fb"/><rect x="67.5" y="473.1" width="4" height="4" fill="#74f6fb"/><rect x="71.5" y="473.1" width="4" height="4" fill="#75f6fb"/><rect x="75.5" y="473.1" width="4" height="4" fill="#76f6fa"/><rect x="79.5" y="473.1" width="4" height="4" fill="#77f7fa"/><rect x="83.5" y="473.1" width="4" height="4" fill="#7af7fa"/><rect x="87.5" y="473.1" width="4" height="4" fill="#7cf7fa"/><rect x="91.5" y="473.1" width="4" height="4" fill="#80f8fa"/><rect x="95.5" y="473.1" width="4" height="4" fill="#85f8fa"/><rect x="99.5" y="473.1" width="4" height="4" fill="#8bf9fa"/><rect x="103.5" y="473.1" width="4" height="4" fill="#93fafa"/><rect x="107.5" y="473.1" width="4" height="4" fill="#9cfbfa"/><rect x="111.5" y="473.1" width="4" height="4" fill="#a6fbfa"/><rect x="115.5" y="473.1" width="4" height="4" fill="#b1fcfa"/><rect x="119.5" y="473.1" width="4" height="4" fill="#bcfdfa"/><rect x="123.5" y="473.1" width="4" height="4" fill="#c9fefa"/><rect x="127.5" y="473.1" width="4" height="4" fill="#d5fef9"/><rect x="131.5" y="473.1" width="4" height="4" fill="#e1fef9"/><rect x="135.5" y="473.1" width="4" height="4" fill="#ecfef9"/><rect x="139.5" y="473.1" width="4" height="4" fill="#f4fef9"/><rect x="143.5" y="473.1" width="4" height="4" fill="#f8fff6"/><rect x="147.5" y="473.1" width="4" height="4" fill="#f4feed"/><rect x="151.5" y="473.1" width="4" height="4" fill="#f9fde4"/><rect x="155.5" y="473.1" width="4" height="4" fill="#fdfcda"/><rect x="159.5" y="473.1" width="4" height="4" fill="#fdf3cd"/><rect x="163.5" y="473.1" width="4" height="4" fill="#fde6ba"/><rect x="167.5" y="473.1" width="4" height="4" fill="#fcdaa8"/><rect x="171.5" y="473.1" width="4" height="4" fill="#fccc96"/><rect x="175.5" y="473.1" width="4" height="4" fill="#fbbf84"/><rect x="179.5" y="473.1" width="4" height="4" fill="#fbb274"/><rect x="183.5" y="473.1" width="4" height="4" fill="#fba565"/><rect x="187.5" y="473.1" width="4" height="4" fill="#fb9958"/><rect x="191.5" y="473.1" width="4" height="4" fill="#fb8e4c"/><rect x="195.5" y="473.1" width="4" height="4" fill="#fb8443"/><rect x="199.5" y="473.1" width="4" height="4" fill="#fb7c3b"/><rect x="203.5" y="473.1" width="4" height="4" fill="#fb7434"/><rect x="207.5" y="473.1" width="4" height="4" fill="#fb6e2f"/><rect x="211.5" y="473.1" width="4" height="4" fill="#fc692b"/><rect x="215.5" y="473.1" width="4" height="4" fill="#fc6428"/><rect x="219.5" y="473.1" width="4" height="4" fill="#fc6025"/><rect x="223.5" y="473.1" width="4" height="4" fill="#fc5c24"/><rect x="227.5" y="473.1" width="4" height="4" fill="#fc5923"/><rect x="231.5" y="473.1" width="4" height="4" fill="#fd5722"/><rect x="235.5" y="473.1" width="4" height="4" fill="#fd5421"/><rect x="239.5" y="473.1" width="4" height="4" fill="#fd5221"/><rect x="243.5" y="473.1" width="4" height="4" fill="#fd5120"/><rect x="247.5" y="473.1" width="4" height="4" fill="#fd4f20"/><rect x="251.5" y="473.1" width="4" height="4" fill="#fd4e20"/><rect x="255.5" y="473.1" width="4" height="4" fill="#fe4c20"/><rect x="259.5" y="473.1" width="4" height="4" fill="#fe4b20"/><rect x="263.5" y="473.1" width="4" height="4" fill="#fe4a20"/><rect x="267.5" y="473.1" width="4" height="4" fill="#fe4920"/><rect x="271.5" y="473.1" width="4" height="4" fill="#fe4820"/><rect x="47.5" y="477.1" width="4" height="4" fill="#72f4fd"/><rect x="51.5" y="477.1" width="4" height="4" fill="#72f4fc"/><rect x="55.5" y="477.1" width="4" height="4" fill="#72f4fc"/><rect x="59.5" y="477.1" width="4" height="4" fill="#72f4fc"/><rect x="63.5" y="477.1" width="4" height="4" fill="#72f5fc"/><rect x="67.5" y="477.1" width="4" height="4" fill="#73f5fc"/><rect x="71.5" y="477.1" width="4" height="4" fill="#74f5fc"/><rect x="75.5" y="477.1" width="4" height="4" fill="#75f5fc"/><rect x="79.5" y="477.1" width="4" height="4" fill="#77f5fc"/><rect x="83.5" y="477.1" width="4" height="4" fill="#79f5fc"/><rect x="87.5" y="477.1" width="4" height="4" fill="#7df6fc"/><rect x="91.5" y="477.1" width="4" height="4" fill="#81f6fc"/><rect x="95.5" y="477.1" width="4" height="4" fill="#86f7fc"/><rect x="99.5" y="477.1" width="4" height="4" fill="#8df7fc"/><rect x="103.5" y="477.1" width="4" height="4" fill="#94f8fc"/><rect x="107.5" y="477.1" width="4" height="4" fill="#9ef9fc"/><rect x="111.5" y="477.1" width="4" height="4" fill="#a8fafc"/><rect x="115.5" y="477.1" width="4" height="4" fill="#b4fbfc"/><rect x="119.5" y="477.1" width="4" height="4" fill="#c0fbfc"/><rect x="123.5" y="477.1" width="4" height="4" fill="#cdfcfd"/><rect x="127.5" y="477.1" width="4" height="4" fill="#d9fdfd"/><rect x="131.5" y="477.1" width="4" height="4" fill="#e4fefd"/><rect x="135.5" y="477.1" width="4" height="4" fill="#eefffd"/><rect x="139.5" y="477.1" width="4" height="4" fill="#f6fffd"/><rect x="143.5" y="477.1" width="4" height="4" fill="#fcfffd"/><rect x="147.5" y="477.1" width="4" height="4" fill="#fcfffb"/><rect x="151.5" y="477.1" width="4" height="4" fill="#fefef5"/><rect x="155.5" y="477.1" width="4" height="4" fill="#fef8ec"/><rect x="159.5" y="477.1" width="4" height="4" fill="#fef0df"/><rect x="163.5" y="477.1" width="4" height="4" fill="#fde5cf"/><rect x="167.5" y="477.1" width="4" height="4" fill="#fdd8be"/><rect x="171.5" y="477.1" width="4" height="4" fill="#fdcaac"/><rect x="175.5" y="477.1" width="4" height="4" fill="#fdbb9b"/><rect x="179.5" y="477.1" width="4" height="4" fill="#fdac89"/><rect x="183.5" y="477.1" width="4" height="4" fill="#fd9d78"/><rect x="187.5" y="477.1" width="4" height="4" fill="#fd8f69"/><rect x="191.5" y="477.1" width="4" height="4" fill="#fd825c"/><rect x="195.5" y="477.1" width="4" height="4" fill="#fd7650"/><rect x="199.5" y="477.1" width="4" height="4" fill="#fe6c45"/><rect x="203.5" y="477.1" width="4" height="4" fill="#fe633d"/><rect x="207.5" y="477.1" width="4" height="4" fill="#fe5b36"/><rect x="211.5" y="477.1" width="4" height="4" fill="#fe5530"/><rect x="215.5" y="477.1" width="4" height="4" fill="#fe4f2c"/><rect x="219.5" y="477.1" width="4" height="4" fill="#ff4b29"/><rect x="223.5" y="477.1" width="4" height="4" fill="#ff4726"/><rect x="227.5" y="477.1" width="4" height="4" fill="#ff4424"/><rect x="231.5" y="477.1" width="4" height="4" fill="#ff4223"/><rect x="235.5" y="477.1" width="4" height="4" fill="#ff4122"/><rect x="239.5" y="477.1" width="4" height="4" fill="#ff4021"/><rect x="243.5" y="477.1" width="4" height="4" fill="#ff4021"/><rect x="247.5" y="477.1" width="4" height="4" fill="#ff3f21"/><rect x="251.5" y="477.1" width="4" height="4" fill="#ff3f20"/><rect x="255.5" y="477.1" width="4" height="4" fill="#ff3e20"/><rect x="259.5" y="477.1" width="4" height="4" fill="#ff3e20"/><rect x="263.5" y="477.1" width="4" height="4" fill="#ff3e20"/><rect x="267.5" y="477.1" width="4" height="4" fill="#ff3e20"/><rect x="271.5" y="477.1" width="4" height="4" fill="#ff3e20"/><rect x="275.5" y="477.1" width="4" height="4" fill="#ff3d20"/><rect x="47.5" y="481.1" width="4" height="4" fill="#71f3fe"/><rect x="51.5" y="481.1" width="4" height="4" fill="#71f3fe"/><rect x="55.5" y="481.1" width="4" height="4" fill="#71f3fe"/><rect x="59.5" y="481.1" width="4" height="4" fill="#71f3fe"/><rect x="63.5" y="481.1" width="4" height="4" fill="#72f3fe"/><rect x="67.5" y="481.1" width="4" height="4" fill="#72f3fe"/><rect x="71.5" y="481.1" width="4" height="4" fill="#73f3fe"/><rect x="75.5" y="481.1" width="4" height="4" fill="#75f3fe"/><rect x="79.5" y="481.1" width="4" height="4" fill="#77f4fe"/><rect x="83.5" y="481.1" width="4" height="4" fill="#79f4fe"/><rect x="87.5" y="481.1" width="4" height="4" fill="#7df4fe"/><rect x="91.5" y="481.1" width="4" height="4" fill="#81f5fe"/><rect x="95.5" y="481.1" width="4" height="4" fill="#87f5fe"/><rect x="99.5" y="481.1" width="4" height="4" fill="#8ef6fe"/><rect x="103.5" y="481.1" width="4" height="4" fill="#96f6fe"/><rect x="107.5" y="481.1" width="4" height="4" fill="#9ff7fe"/><rect x="111.5" y="481.1" width="4" height="4" fill="#aaf8fe"/><rect x="115.5" y="481.1" width="4" height="4" fill="#b6f9fe"/><rect x="119.5" y="481.1" width="4" height="4" fill="#c3fafe"/><rect x="123.5" y="481.1" width="4" height="4" fill="#cffbff"/><rect x="127.5" y="481.1" width="4" height="4" fill="#dcfcff"/><rect x="131.5" y="481.1" width="4" height="4" fill="#e7fdff"/><rect x="135.5" y="481.1" width="4" height="4" fill="#f1feff"/><rect x="139.5" y="481.1" width="4" height="4" fill="#f8feff"/><rect x="143.5" y="481.1" width="4" height="4" fill="#fdffff"/><rect x="147.5" y="481.1" width="4" height="4" fill="#ffffff"/><rect x="151.5" y="481.1" width="4" height="4" fill="#fffdfd"/><rect x="155.5" y="481.1" width="4" height="4" fill="#fff9f8"/><rect x="159.5" y="481.1" width="4" height="4" fill="#fff1ef"/><rect x="163.5" y="481.1" width="4" height="4" fill="#ffe6e3"/><rect x="167.5" y="481.1" width="4" height="4" fill="#ffd9d4"/><rect x="171.5" y="481.1" width="4" height="4" fill="#ffcac4"/><rect x="175.5" y="481.1" width="4" height="4" fill="#ffbbb2"/><rect x="179.5" y="481.1" width="4" height="4" fill="#ffaba0"/><rect x="183.5" y="481.1" width="4" height="4" fill="#ff9b8f"/><rect x="187.5" y="481.1" width="4" height="4" fill="#ff8c7e"/><rect x="191.5" y="481.1" width="4" height="4" fill="#ff7e6e"/><rect x="195.5" y="481.1" width="4" height="4" fill="#ff7260"/><rect x="199.5" y="481.1" width="4" height="4" fill="#ff6654"/><rect x="203.5" y="481.1" width="4" height="4" fill="#ff5d49"/><rect x="207.5" y="481.1" width="4" height="4" fill="#ff5540"/><rect x="211.5" y="481.1" width="4" height="4" fill="#ff4e38"/><rect x="215.5" y="481.1" width="4" height="4" fill="#ff4932"/><rect x="219.5" y="481.1" width="4" height="4" fill="#ff442d"/><rect x="223.5" y="481.1" width="4" height="4" fill="#ff412a"/><rect x="227.5" y="481.1" width="4" height="4" fill="#ff3e27"/><rect x="231.5" y="481.1" width="4" height="4" fill="#ff3d25"/><rect x="235.5" y="481.1" width="4" height="4" fill="#ff3b23"/><rect x="239.5" y="481.1" width="4" height="4" fill="#ff3a22"/><rect x="243.5" y="481.1" width="4" height="4" fill="#ff3a21"/><rect x="247.5" y="481.1" width="4" height="4" fill="#ff3921"/><rect x="251.5" y="481.1" width="4" height="4" fill="#ff3921"/><rect x="255.5" y="481.1" width="4" height="4" fill="#ff3820"/><rect x="259.5" y="481.1" width="4" height="4" fill="#ff3820"/><rect x="263.5" y="481.1" width="4" height="4" fill="#ff3820"/><rect x="267.5" y="481.1" width="4" height="4" fill="#ff3820"/><rect x="271.5" y="481.1" width="4" height="4" fill="#ff3820"/><rect x="275.5" y="481.1" width="4" height="4" fill="#ff3820"/><rect x="279.5" y="481.1" width="4" height="4" fill="#ff3820"/><rect x="47.5" y="485.1" width="4" height="4" fill="#70f2ff"/><rect x="51.5" y="485.1" width="4" height="4" fill="#70f2ff"/><rect x="55.5" y="485.1" width="4" height="4" fill="#70f2ff"/><rect x="59.5" y="485.1" width="4" height="4" fill="#71f2ff"/><rect x="63.5" y="485.1" width="4" height="4" fill="#71f2ff"/><rect x="67.5" y="485.1" width="4" height="4" fill="#71f2ff"/><rect x="71.5" y="485.1" width="4" height="4" fill="#72f1ff"/><rect x="75.5" y="485.1" width="4" height="4" fill="#74f1ff"/><rect x="79.5" y="485.1" width="4" height="4" fill="#75f1ff"/><rect x="83.5" y="485.1" width="4" height="4" fill="#78f1ff"/><rect x="87.5" y="485.1" width="4" height="4" fill="#7bf1ff"/><rect x="91.5" y="485.1" width="4" height="4" fill="#80f2ff"/><rect x="95.5" y="485.1" width="4" height="4" fill="#86f2ff"/><rect x="99.5" y="485.1" width="4" height="4" fill="#8df2ff"/><rect x="103.5" y="485.1" width="4" height="4" fill="#95f3ff"/><rect x="107.5" y="485.1" width="4" height="4" fill="#9ff4ff"/><rect x="111.5" y="485.1" width="4" height="4" fill="#aaf4ff"/><rect x="115.5" y="485.1" width="4" height="4" fill="#b6f5ff"/><rect x="119.5" y="485.1" width="4" height="4" fill="#c3f7ff"/><rect x="123.5" y="485.1" width="4" height="4" fill="#d0f8ff"/><rect x="127.5" y="485.1" width="4" height="4" fill="#dcf9ff"/><rect x="131.5" y="485.1" width="4" height="4" fill="#e7fbff"/><rect x="135.5" y="485.1" width="4" height="4" fill="#f1fcff"/><rect x="139.5" y="485.1" width="4" height="4" fill="#f8fdff"/><rect x="143.5" y="485.1" width="4" height="4" fill="#fdfeff"/><rect x="147.5" y="485.1" width="4" height="4" fill="#fefcff"/><rect x="151.5" y="485.1" width="4" height="4" fill="#fff8fe"/><rect x="155.5" y="485.1" width="4" height="4" fill="#fff2fa"/><rect x="159.5" y="485.1" width="4" height="4" fill="#ffeaf4"/><rect x="163.5" y="485.1" width="4" height="4" fill="#ffe0ea"/><rect x="167.5" y="485.1" width="4" height="4" fill="#ffd5df"/><rect x="171.5" y="485.1" width="4" height="4" fill="#ffc9d3"/><rect x="175.5" y="485.1" width="4" height="4" fill="#ffbcc4"/><rect x="179.5" y="485.1" width="4" height="4" fill="#ffafb5"/><rect x="183.5" y="485.1" width="4" height="4" fill="#ffa2a6"/><rect x="187.5" y="485.1" width="4" height="4" fill="#ff9496"/><rect x="191.5" y="485.1" width="4" height="4" fill="#ff827f"/><rect x="195.5" y="485.1" width="4" height="4" fill="#ff736e"/><rect x="199.5" y="485.1" width="4" height="4" fill="#ff655e"/><rect x="203.5" y="485.1" width="4" height="4" fill="#ff5951"/><rect x="207.5" y="485.1" width="4" height="4" fill="#ff4e45"/><rect x="211.5" y="485.1" width="4" height="4" fill="#ff463b"/><rect x="215.5" y="485.1" width="4" height="4" fill="#ff3f34"/><rect x="219.5" y="485.1" width="4" height="4" fill="#ff3a2e"/><rect x="223.5" y="485.1" width="4" height="4" fill="#ff3729"/><rect x="227.5" y="485.1" width="4" height="4" fill="#ff3425"/><rect x="231.5" y="485.1" width="4" height="4" fill="#ff3222"/><rect x="235.5" y="485.1" width="4" height="4" fill="#ff3120"/><rect x="239.5" y="485.1" width="4" height="4" fill="#ff301f"/><rect x="243.5" y="485.1" width="4" height="4" fill="#ff2f1e"/><rect x="247.5" y="485.1" width="4" height="4" fill="#ff2f1d"/><rect x="251.5" y="485.1" width="4" height="4" fill="#ff2f1d"/><rect x="255.5" y="485.1" width="4" height="4" fill="#ff2f1d"/><rect x="259.5" y="485.1" width="4" height="4" fill="#ff2f1d"/><rect x="263.5" y="485.1" width="4" height="4" fill="#ff2f1d"/><rect x="267.5" y="485.1" width="4" height="4" fill="#ff301d"/><rect x="271.5" y="485.1" width="4" height="4" fill="#ff301d"/><rect x="275.5" y="485.1" width="4" height="4" fill="#ff301d"/><rect x="279.5" y="485.1" width="4" height="4" fill="#ff311d"/><rect x="283.5" y="485.1" width="4" height="4" fill="#ff311d"/><rect x="47.5" y="489.1" width="4" height="4" fill="#6eefff"/><rect x="51.5" y="489.1" width="4" height="4" fill="#6defff"/><rect x="55.5" y="489.1" width="4" height="4" fill="#6deeff"/><rect x="59.5" y="489.1" width="4" height="4" fill="#6deeff"/><rect x="63.5" y="489.1" width="4" height="4" fill="#6deeff"/><rect x="67.5" y="489.1" width="4" height="4" fill="#6eedff"/><rect x="71.5" y="489.1" width="4" height="4" fill="#6fedff"/><rect x="75.5" y="489.1" width="4" height="4" fill="#70edff"/><rect x="79.5" y="489.1" width="4" height="4" fill="#72edff"/><rect x="83.5" y="489.1" width="4" height="4" fill="#74edff"/><rect x="87.5" y="489.1" width="4" height="4" fill="#78ecff"/><rect x="91.5" y="489.1" width="4" height="4" fill="#7dedff"/><rect x="95.5" y="489.1" width="4" height="4" fill="#82edff"/><rect x="99.5" y="489.1" width="4" height="4" fill="#8aedff"/><rect x="103.5" y="489.1" width="4" height="4" fill="#93eeff"/><rect x="107.5" y="489.1" width="4" height="4" fill="#9defff"/><rect x="111.5" y="489.1" width="4" height="4" fill="#a8f0ff"/><rect x="115.5" y="489.1" width="4" height="4" fill="#b5f1ff"/><rect x="119.5" y="489.1" width="4" height="4" fill="#c2f3ff"/><rect x="123.5" y="489.1" width="4" height="4" fill="#cff5ff"/><rect x="127.5" y="489.1" width="4" height="4" fill="#dbf6ff"/><rect x="131.5" y="489.1" width="4" height="4" fill="#e5f7ff"/><rect x="135.5" y="489.1" width="4" height="4" fill="#eff8ff"/><rect x="139.5" y="489.1" width="4" height="4" fill="#f6f9ff"/><rect x="143.5" y="489.1" width="4" height="4" fill="#fbf8ff"/><rect x="147.5" y="489.1" width="4" height="4" fill="#fbf3ff"/><rect x="151.5" y="489.1" width="4" height="4" fill="#fdecfe"/><rect x="155.5" y="489.1" width="4" height="4" fill="#ffe3fc"/><rect x="159.5" y="489.1" width="4" height="4" fill="#ffd8f5"/><rect x="163.5" y="489.1" width="4" height="4" fill="#ffccec"/><rect x="167.5" y="489.1" width="4" height="4" fill="#ffc0e2"/><rect x="171.5" y="489.1" width="4" height="4" fill="#ffb3d6"/><rect x="175.5" y="489.1" width="4" height="4" fill="#ffa5c9"/><rect x="179.5" y="489.1" width="4" height="4" fill="#ff98bb"/><rect x="183.5" y="489.1" width="4" height="4" fill="#ff8bad"/><rect x="187.5" y="489.1" width="4" height="4" fill="#ff7e9e"/><rect x="191.5" y="489.1" width="4" height="4" fill="#ff7290"/><rect x="195.5" y="489.1" width="4" height="4" fill="#ff6782"/><rect x="199.5" y="489.1" width="4" height="4" fill="#ff5c75"/><rect x="203.5" y="489.1" width="4" height="4" fill="#ff5268"/><rect x="207.5" y="489.1" width="4" height="4" fill="#ff4a5c"/><rect x="211.5" y="489.1" width="4" height="4" fill="#ff4251"/><rect x="215.5" y="489.1" width="4" height="4" fill="#ff3b47"/><rect x="219.5" y="489.1" width="4" height="4" fill="#ff353e"/><rect x="223.5" y="489.1" width="4" height="4" fill="#ff2f36"/><rect x="227.5" y="489.1" width="4" height="4" fill="#ff2b2e"/><rect x="231.5" y="489.1" width="4" height="4" fill="#ff2728"/><rect x="235.5" y="489.1" width="4" height="4" fill="#ff2521"/><rect x="239.5" y="489.1" width="4" height="4" fill="#ff251e"/><rect x="243.5" y="489.1" width="4" height="4" fill="#ff251c"/><rect x="247.5" y="489.1" width="4" height="4" fill="#ff241b"/><rect x="251.5" y="489.1" width="4" height="4" fill="#ff241a"/><rect x="255.5" y="489.1" width="4" height="4" fill="#ff2419"/><rect x="259.5" y="489.1" width="4" height="4" fill="#ff2419"/><rect x="263.5" y="489.1" width="4" height="4" fill="#ff2419"/><rect x="267.5" y="489.1" width="4" height="4" fill="#ff2418"/><rect x="271.5" y="489.1" width="4" height="4" fill="#ff2418"/><rect x="275.5" y="489.1" width="4" height="4" fill="#ff2418"/><rect x="279.5" y="489.1" width="4" height="4" fill="#ff2518"/><rect x="283.5" y="489.1" width="4" height="4" fill="#ff2619"/><rect x="287.5" y="489.1" width="4" height="4" fill="#ff2619"/><rect x="51.5" y="493.1" width="4" height="4" fill="#6aebff"/><rect x="55.5" y="493.1" width="4" height="4" fill="#6aebff"/><rect x="59.5" y="493.1" width="4" height="4" fill="#6aeaff"/><rect x="63.5" y="493.1" width="4" height="4" fill="#6aeaff"/><rect x="67.5" y="493.1" width="4" height="4" fill="#6ae9ff"/><rect x="71.5" y="493.1" width="4" height="4" fill="#6be9ff"/><rect x="75.5" y="493.1" width="4" height="4" fill="#6ce9ff"/><rect x="79.5" y="493.1" width="4" height="4" fill="#6ee8ff"/><rect x="83.5" y="493.1" width="4" height="4" fill="#71e8ff"/><rect x="87.5" y="493.1" width="4" height="4" fill="#74e8ff"/><rect x="91.5" y="493.1" width="4" height="4" fill="#79e8ff"/><rect x="95.5" y="493.1" width="4" height="4" fill="#7fe8ff"/><rect x="99.5" y="493.1" width="4" height="4" fill="#87e9ff"/><rect x="103.5" y="493.1" width="4" height="4" fill="#90e9ff"/><rect x="107.5" y="493.1" width="4" height="4" fill="#9beaff"/><rect x="111.5" y="493.1" width="4" height="4" fill="#a6ecff"/><rect x="115.5" y="493.1" width="4" height="4" fill="#b3edff"/><rect x="119.5" y="493.1" width="4" height="4" fill="#bfedff"/><rect x="123.5" y="493.1" width="4" height="4" fill="#cbeeff"/><rect x="127.5" y="493.1" width="4" height="4" fill="#d7efff"/><rect x="131.5" y="493.1" width="4" height="4" fill="#e3f1ff"/><rect x="135.5" y="493.1" width="4" height="4" fill="#ecf3ff"/><rect x="139.5" y="493.1" width="4" height="4" fill="#f0efff"/><rect x="143.5" y="493.1" width="4" height="4" fill="#f5ebff"/><rect x="147.5" y="493.1" width="4" height="4" fill="#f7e3ff"/><rect x="151.5" y="493.1" width="4" height="4" fill="#f9dafe"/><rect x="155.5" y="493.1" width="4" height="4" fill="#fdcffc"/><rect x="159.5" y="493.1" width="4" height="4" fill="#ffc4f8"/><rect x="163.5" y="493.1" width="4" height="4" fill="#ffb7ef"/><rect x="167.5" y="493.1" width="4" height="4" fill="#ffaae5"/><rect x="171.5" y="493.1" width="4" height="4" fill="#ff9cda"/><rect x="175.5" y="493.1" width="4" height="4" fill="#ff8fcf"/><rect x="179.5" y="493.1" width="4" height="4" fill="#ff82c3"/><rect x="183.5" y="493.1" width="4" height="4" fill="#ff76b6"/><rect x="187.5" y="493.1" width="4" height="4" fill="#ff6aa9"/><rect x="191.5" y="493.1" width="4" height="4" fill="#ff609c"/><rect x="195.5" y="493.1" width="4" height="4" fill="#ff5690"/><rect x="199.5" y="493.1" width="4" height="4" fill="#ff4d84"/><rect x="203.5" y="493.1" width="4" height="4" fill="#ff4579"/><rect x="207.5" y="493.1" width="4" height="4" fill="#ff3e6e"/><rect x="211.5" y="493.1" width="4" height="4" fill="#ff3864"/><rect x="215.5" y="493.1" width="4" height="4" fill="#ff325c"/><rect x="219.5" y="493.1" width="4" height="4" fill="#ff2e53"/><rect x="223.5" y="493.1" width="4" height="4" fill="#ff2a4c"/><rect x="227.5" y="493.1" width="4" height="4" fill="#ff2645"/><rect x="231.5" y="493.1" width="4" height="4" fill="#ff243f"/><rect x="235.5" y="493.1" width="4" height="4" fill="#ff213a"/><rect x="239.5" y="493.1" width="4" height="4" fill="#ff1f35"/><rect x="243.5" y="493.1" width="4" height="4" fill="#ff1e30"/><rect x="247.5" y="493.1" width="4" height="4" fill="#ff1d2c"/><rect x="251.5" y="493.1" width="4" height="4" fill="#ff1c29"/><rect x="255.5" y="493.1" width="4" height="4" fill="#ff1b25"/><rect x="259.5" y="493.1" width="4" height="4" fill="#ff1a22"/><rect x="263.5" y="493.1" width="4" height="4" fill="#ff1a20"/><rect x="267.5" y="493.1" width="4" height="4" fill="#ff191d"/><rect x="271.5" y="493.1" width="4" height="4" fill="#ff191b"/><rect x="275.5" y="493.1" width="4" height="4" fill="#ff1818"/><rect x="279.5" y="493.1" width="4" height="4" fill="#ff1c18"/><rect x="283.5" y="493.1" width="4" height="4" fill="#ff1e18"/><rect x="287.5" y="493.1" width="4" height="4" fill="#ff1f18"/><rect x="291.5" y="493.1" width="4" height="4" fill="#ff2018"/><rect x="51.5" y="497.1" width="4" height="4" fill="#67e8ff"/><rect x="55.5" y="497.1" width="4" height="4" fill="#67e7ff"/><rect x="59.5" y="497.1" width="4" height="4" fill="#67e7ff"/><rect x="63.5" y="497.1" width="4" height="4" fill="#67e6ff"/><rect x="67.5" y="497.1" width="4" height="4" fill="#67e6ff"/><rect x="71.5" y="497.1" width="4" height="4" fill="#68e5ff"/><rect x="75.5" y="497.1" width="4" height="4" fill="#69e4ff"/><rect x="79.5" y="497.1" width="4" height="4" fill="#6be4ff"/><rect x="83.5" y="497.1" width="4" height="4" fill="#6de4ff"/><rect x="87.5" y="497.1" width="4" height="4" fill="#71e3ff"/><rect x="91.5" y="497.1" width="4" height="4" fill="#76e3ff"/><rect x="95.5" y="497.1" width="4" height="4" fill="#7de4ff"/><rect x="99.5" y="497.1" width="4" height="4" fill="#84e4ff"/><rect x="103.5" y="497.1" width="4" height="4" fill="#8ee5ff"/><rect x="107.5" y="497.1" width="4" height="4" fill="#98e5ff"/><rect x="111.5" y="497.1" width="4" height="4" fill="#a2e4ff"/><rect x="115.5" y="497.1" width="4" height="4" fill="#aee4ff"/><rect x="119.5" y="497.1" width="4" height="4" fill="#bae5ff"/><rect x="123.5" y="497.1" width="4" height="4" fill="#c7e6ff"/><rect x="127.5" y="497.1" width="4" height="4" fill="#d4e8ff"/><rect x="131.5" y="497.1" width="4" height="4" fill="#dfe9ff"/><rect x="135.5" y="497.1" width="4" height="4" fill="#e4e6ff"/><rect x="139.5" y="497.1" width="4" height="4" fill="#eee3ff"/><rect x="143.5" y="497.1" width="4" height="4" fill="#efdaff"/><rect x="147.5" y="497.1" width="4" height="4" fill="#f2d0ff"/><rect x="151.5" y="497.1" width="4" height="4" fill="#f5c5fe"/><rect x="155.5" y="497.1" width="4" height="4" fill="#f8b9fc"/><rect x="159.5" y="497.1" width="4" height="4" fill="#fdadfa"/><rect x="163.5" y="497.1" width="4" height="4" fill="#ffa1f3"/><rect x="167.5" y="497.1" width="4" height="4" fill="#ff94e9"/><rect x="171.5" y="497.1" width="4" height="4" fill="#ff87df"/><rect x="175.5" y="497.1" width="4" height="4" fill="#ff7bd4"/><rect x="179.5" y="497.1" width="4" height="4" fill="#ff6fc9"/><rect x="183.5" y="497.1" width="4" height="4" fill="#ff64be"/><rect x="187.5" y="497.1" width="4" height="4" fill="#ff5ab3"/><rect x="191.5" y="497.1" width="4" height="4" fill="#ff50a9"/><rect x="195.5" y="497.1" width="4" height="4" fill="#ff489e"/><rect x="199.5" y="497.1" width="4" height="4" fill="#ff4193"/><rect x="203.5" y="497.1" width="4" height="4" fill="#ff3b89"/><rect x="207.5" y="497.1" width="4" height="4" fill="#ff3580"/><rect x="211.5" y="497.1" width="4" height="4" fill="#ff3077"/><rect x="215.5" y="497.1" width="4" height="4" fill="#ff2c6f"/><rect x="219.5" y="497.1" width="4" height="4" fill="#ff2968"/><rect x="223.5" y="497.1" width="4" height="4" fill="#ff2661"/><rect x="227.5" y="497.1" width="4" height="4" fill="#ff245b"/><rect x="231.5" y="497.1" width="4" height="4" fill="#ff2255"/><rect x="235.5" y="497.1" width="4" height="4" fill="#ff2050"/><rect x="239.5" y="497.1" width="4" height="4" fill="#ff1f4b"/><rect x="243.5" y="497.1" width="4" height="4" fill="#ff1e46"/><rect x="247.5" y="497.1" width="4" height="4" fill="#ff1d42"/><rect x="251.5" y="497.1" width="4" height="4" fill="#ff1c3e"/><rect x="255.5" y="497.1" width="4" height="4" fill="#ff1b3b"/><rect x="259.5" y="497.1" width="4" height="4" fill="#ff1b38"/><rect x="263.5" y="497.1" width="4" height="4" fill="#ff1a35"/><rect x="267.5" y="497.1" width="4" height="4" fill="#ff1a32"/><rect x="271.5" y="497.1" width="4" height="4" fill="#ff1a2f"/><rect x="275.5" y="497.1" width="4" height="4" fill="#ff1a2d"/><rect x="279.5" y="497.1" width="4" height="4" fill="#ff192a"/><rect x="283.5" y="497.1" width="4" height="4" fill="#ff1928"/><rect x="287.5" y="497.1" width="4" height="4" fill="#ff1926"/><rect x="51.5" y="501.1" width="4" height="4" fill="#64e4ff"/><rect x="55.5" y="501.1" width="4" height="4" fill="#64e4ff"/><rect x="59.5" y="501.1" width="4" height="4" fill="#63e3ff"/><rect x="63.5" y="501.1" width="4" height="4" fill="#63e2ff"/><rect x="67.5" y="501.1" width="4" height="4" fill="#64e2ff"/><rect x="71.5" y="501.1" width="4" height="4" fill="#64e1ff"/><rect x="75.5" y="501.1" width="4" height="4" fill="#65e0ff"/><rect x="79.5" y="501.1" width="4" height="4" fill="#67e0ff"/><rect x="83.5" y="501.1" width="4" height="4" fill="#6adfff"/><rect x="87.5" y="501.1" width="4" height="4" fill="#6edfff"/><rect x="91.5" y="501.1" width="4" height="4" fill="#73dfff"/><rect x="95.5" y="501.1" width="4" height="4" fill="#79deff"/><rect x="99.5" y="501.1" width="4" height="4" fill="#80ddff"/><rect x="103.5" y="501.1" width="4" height="4" fill="#88dbff"/><rect x="107.5" y="501.1" width="4" height="4" fill="#92daff"/><rect x="111.5" y="501.1" width="4" height="4" fill="#9cdaff"/><rect x="115.5" y="501.1" width="4" height="4" fill="#a8dbff"/><rect x="119.5" y="501.1" width="4" height="4" fill="#b6dcff"/><rect x="123.5" y="501.1" width="4" height="4" fill="#c4deff"/><rect x="127.5" y="501.1" width="4" height="4" fill="#cfdeff"/><rect x="131.5" y="501.1" width="4" height="4" fill="#d5daff"/><rect x="135.5" y="501.1" width="4" height="4" fill="#dad5ff"/><rect x="139.5" y="501.1" width="4" height="4" fill="#e5cfff"/><rect x="143.5" y="501.1" width="4" height="4" fill="#e8c4ff"/><rect x="147.5" y="501.1" width="4" height="4" fill="#ecb9ff"/><rect x="151.5" y="501.1" width="4" height="4" fill="#efaefe"/><rect x="155.5" y="501.1" width="4" height="4" fill="#f3a2fc"/><rect x="159.5" y="501.1" width="4" height="4" fill="#f896f9"/><rect x="163.5" y="501.1" width="4" height="4" fill="#fe8bf7"/><rect x="167.5" y="501.1" width="4" height="4" fill="#ff7fef"/><rect x="171.5" y="501.1" width="4" height="4" fill="#ff74e5"/><rect x="175.5" y="501.1" width="4" height="4" fill="#ff69da"/><rect x="179.5" y="501.1" width="4" height="4" fill="#ff5fd0"/><rect x="183.5" y="501.1" width="4" height="4" fill="#ff55c6"/><rect x="187.5" y="501.1" width="4" height="4" fill="#ff4dbc"/><rect x="191.5" y="501.1" width="4" height="4" fill="#ff45b3"/><rect x="195.5" y="501.1" width="4" height="4" fill="#ff3eaa"/><rect x="199.5" y="501.1" width="4" height="4" fill="#ff38a1"/><rect x="203.5" y="501.1" width="4" height="4" fill="#ff339a"/><rect x="207.5" y="501.1" width="4" height="4" fill="#ff2f91"/><rect x="211.5" y="501.1" width="4" height="4" fill="#ff2b89"/><rect x="215.5" y="501.1" width="4" height="4" fill="#ff2881"/><rect x="219.5" y="501.1" width="4" height="4" fill="#ff267a"/><rect x="223.5" y="501.1" width="4" height="4" fill="#ff2474"/><rect x="227.5" y="501.1" width="4" height="4" fill="#ff226e"/><rect x="231.5" y="501.1" width="4" height="4" fill="#ff2168"/><rect x="235.5" y="501.1" width="4" height="4" fill="#ff2063"/><rect x="239.5" y="501.1" width="4" height="4" fill="#ff1f5e"/><rect x="243.5" y="501.1" width="4" height="4" fill="#ff1e5a"/><rect x="247.5" y="501.1" width="4" height="4" fill="#ff1d56"/><rect x="251.5" y="501.1" width="4" height="4" fill="#ff1d52"/><rect x="255.5" y="501.1" width="4" height="4" fill="#ff1c4e"/><rect x="259.5" y="501.1" width="4" height="4" fill="#ff1c4b"/><rect x="263.5" y="501.1" width="4" height="4" fill="#ff1b48"/><rect x="267.5" y="501.1" width="4" height="4" fill="#ff1b44"/><rect x="271.5" y="501.1" width="4" height="4" fill="#ff1b42"/><rect x="275.5" y="501.1" width="4" height="4" fill="#ff1b3f"/><rect x="279.5" y="501.1" width="4" height="4" fill="#ff1b3c"/><rect x="283.5" y="501.1" width="4" height="4" fill="#ff1a3a"/><rect x="55.5" y="505.1" width="4" height="4" fill="#61e0ff"/><rect x="59.5" y="505.1" width="4" height="4" fill="#60e0ff"/><rect x="63.5" y="505.1" width="4" height="4" fill="#60dfff"/><rect x="67.5" y="505.1" width="4" height="4" fill="#60deff"/><rect x="71.5" y="505.1" width="4" height="4" fill="#61ddff"/><rect x="75.5" y="505.1" width="4" height="4" fill="#62ddff"/><rect x="79.5" y="505.1" width="4" height="4" fill="#64dcff"/><rect x="83.5" y="505.1" width="4" height="4" fill="#67dbff"/><rect x="87.5" y="505.1" width="4" height="4" fill="#6ad9ff"/><rect x="91.5" y="505.1" width="4" height="4" fill="#6ed6ff"/><rect x="95.5" y="505.1" width="4" height="4" fill="#73d4ff"/><rect x="99.5" y="505.1" width="4" height="4" fill="#7ad2ff"/><rect x="103.5" y="505.1" width="4" height="4" fill="#82d1ff"/><rect x="107.5" y="505.1" width="4" height="4" fill="#8cd1ff"/><rect x="111.5" y="505.1" width="4" height="4" fill="#97d1ff"/><rect x="115.5" y="505.1" width="4" height="4" fill="#a5d2ff"/><rect x="119.5" y="505.1" width="4" height="4" fill="#b3d3ff"/><rect x="123.5" y="505.1" width="4" height="4" fill="#bed2ff"/><rect x="127.5" y="505.1" width="4" height="4" fill="#c4cdff"/><rect x="131.5" y="505.1" width="4" height="4" fill="#c7c3ff"/><rect x="135.5" y="505.1" width="4" height="4" fill="#dbc3ff"/><rect x="139.5" y="505.1" width="4" height="4" fill="#ddb8ff"/><rect x="143.5" y="505.1" width="4" height="4" fill="#e0adff"/><rect x="147.5" y="505.1" width="4" height="4" fill="#e5a2ff"/><rect x="151.5" y="505.1" width="4" height="4" fill="#ea97fe"/><rect x="155.5" y="505.1" width="4" height="4" fill="#ee8bfb"/><rect x="159.5" y="505.1" width="4" height="4" fill="#f381f9"/><rect x="163.5" y="505.1" width="4" height="4" fill="#f977f7"/><rect x="167.5" y="505.1" width="4" height="4" fill="#ff6ef5"/><rect x="171.5" y="505.1" width="4" height="4" fill="#ff64eb"/><rect x="175.5" y="505.1" width="4" height="4" fill="#ff5ae1"/><rect x="179.5" y="505.1" width="4" height="4" fill="#ff52d8"/><rect x="183.5" y="505.1" width="4" height="4" fill="#ff4ace"/><rect x="187.5" y="505.1" width="4" height="4" fill="#ff43c5"/><rect x="191.5" y="505.1" width="4" height="4" fill="#ff3dbc"/><rect x="195.5" y="505.1" width="4" height="4" fill="#ff38b4"/><rect x="199.5" y="505.1" width="4" height="4" fill="#ff33ac"/><rect x="203.5" y="505.1" width="4" height="4" fill="#ff2fa5"/><rect x="207.5" y="505.1" width="4" height="4" fill="#ff2b9e"/><rect x="211.5" y="505.1" width="4" height="4" fill="#ff2898"/><rect x="215.5" y="505.1" width="4" height="4" fill="#ff2692"/><rect x="219.5" y="505.1" width="4" height="4" fill="#ff248b"/><rect x="223.5" y="505.1" width="4" height="4" fill="#ff2385"/><rect x="227.5" y="505.1" width="4" height="4" fill="#ff227f"/><rect x="231.5" y="505.1" width="4" height="4" fill="#ff207a"/><rect x="235.5" y="505.1" width="4" height="4" fill="#ff2075"/><rect x="239.5" y="505.1" width="4" height="4" fill="#ff1f70"/><rect x="243.5" y="505.1" width="4" height="4" fill="#ff1e6b"/><rect x="247.5" y="505.1" width="4" height="4" fill="#ff1e67"/><rect x="251.5" y="505.1" width="4" height="4" fill="#ff1d63"/><rect x="255.5" y="505.1" width="4" height="4" fill="#ff1d5f"/><rect x="259.5" y="505.1" width="4" height="4" fill="#ff1d5c"/><rect x="263.5" y="505.1" width="4" height="4" fill="#ff1d58"/><rect x="267.5" y="505.1" width="4" height="4" fill="#ff1c55"/><rect x="271.5" y="505.1" width="4" height="4" fill="#ff1c52"/><rect x="275.5" y="505.1" width="4" height="4" fill="#ff1c4f"/><rect x="55.5" y="509.1" width="4" height="4" fill="#5eddff"/><rect x="59.5" y="509.1" width="4" height="4" fill="#5ddcff"/><rect x="63.5" y="509.1" width="4" height="4" fill="#5ddbff"/><rect x="67.5" y="509.1" width="4" height="4" fill="#5ddaff"/><rect x="71.5" y="509.1" width="4" height="4" fill="#5edaff"/><rect x="75.5" y="509.1" width="4" height="4" fill="#5ed7ff"/><rect x="79.5" y="509.1" width="4" height="4" fill="#5fd4ff"/><rect x="83.5" y="509.1" width="4" height="4" fill="#61d1ff"/><rect x="87.5" y="509.1" width="4" height="4" fill="#64ceff"/><rect x="91.5" y="509.1" width="4" height="4" fill="#68ccff"/><rect x="95.5" y="509.1" width="4" height="4" fill="#6dcaff"/><rect x="99.5" y="509.1" width="4" height="4" fill="#74c8ff"/><rect x="103.5" y="509.1" width="4" height="4" fill="#7cc8ff"/><rect x="107.5" y="509.1" width="4" height="4" fill="#87c7ff"/><rect x="111.5" y="509.1" width="4" height="4" fill="#94c7ff"/><rect x="115.5" y="509.1" width="4" height="4" fill="#a2c8ff"/><rect x="119.5" y="509.1" width="4" height="4" fill="#abc5ff"/><rect x="123.5" y="509.1" width="4" height="4" fill="#b2c0ff"/><rect x="127.5" y="509.1" width="4" height="4" fill="#b6b6ff"/><rect x="131.5" y="509.1" width="4" height="4" fill="#c3b5ff"/><rect x="135.5" y="509.1" width="4" height="4" fill="#d1acff"/><rect x="139.5" y="509.1" width="4" height="4" fill="#d5a1ff"/><rect x="143.5" y="509.1" width="4" height="4" fill="#d996ff"/><rect x="147.5" y="509.1" width="4" height="4" fill="#df8bff"/><rect x="151.5" y="509.1" width="4" height="4" fill="#e480fd"/><rect x="155.5" y="509.1" width="4" height="4" fill="#e976fb"/><rect x="159.5" y="509.1" width="4" height="4" fill="#ee6df9"/><rect x="163.5" y="509.1" width="4" height="4" fill="#f465f7"/><rect x="167.5" y="509.1" width="4" height="4" fill="#fa5df5"/><rect x="171.5" y="509.1" width="4" height="4" fill="#ff56f2"/><rect x="175.5" y="509.1" width="4" height="4" fill="#ff4fe8"/><rect x="179.5" y="509.1" width="4" height="4" fill="#ff48df"/><rect x="183.5" y="509.1" width="4" height="4" fill="#ff42d6"/><rect x="187.5" y="509.1" width="4" height="4" fill="#ff3cce"/><rect x="191.5" y="509.1" width="4" height="4" fill="#ff37c6"/><rect x="195.5" y="509.1" width="4" height="4" fill="#ff33be"/><rect x="199.5" y="509.1" width="4" height="4" fill="#ff30b7"/><rect x="203.5" y="509.1" width="4" height="4" fill="#ff2db0"/><rect x="207.5" y="509.1" width="4" height="4" fill="#ff2aa9"/><rect x="211.5" y="509.1" width="4" height="4" fill="#ff28a4"/><rect x="215.5" y="509.1" width="4" height="4" fill="#ff269e"/><rect x="219.5" y="509.1" width="4" height="4" fill="#ff2499"/><rect x="223.5" y="509.1" width="4" height="4" fill="#ff2394"/><rect x="227.5" y="509.1" width="4" height="4" fill="#ff218f"/><rect x="231.5" y="509.1" width="4" height="4" fill="#ff2189"/><rect x="235.5" y="509.1" width="4" height="4" fill="#ff2084"/><rect x="239.5" y="509.1" width="4" height="4" fill="#ff1f7f"/><rect x="243.5" y="509.1" width="4" height="4" fill="#ff1f7b"/><rect x="247.5" y="509.1" width="4" height="4" fill="#ff1f77"/><rect x="251.5" y="509.1" width="4" height="4" fill="#ff1e73"/><rect x="255.5" y="509.1" width="4" height="4" fill="#ff1e6f"/><rect x="259.5" y="509.1" width="4" height="4" fill="#ff1e6b"/><rect x="263.5" y="509.1" width="4" height="4" fill="#ff1e67"/><rect x="55.5" y="513.1" width="4" height="4" fill="#5cdaff"/><rect x="59.5" y="513.1" width="4" height="4" fill="#5bd9ff"/><rect x="63.5" y="513.1" width="4" height="4" fill="#5ad7ff"/><rect x="67.5" y="513.1" width="4" height="4" fill="#59d4ff"/><rect x="71.5" y="513.1" width="4" height="4" fill="#59d1ff"/><rect x="75.5" y="513.1" width="4" height="4" fill="#59ceff"/><rect x="79.5" y="513.1" width="4" height="4" fill="#59cbff"/><rect x="83.5" y="513.1" width="4" height="4" fill="#5bc8ff"/><rect x="87.5" y="513.1" width="4" height="4" fill="#5ec5ff"/><rect x="91.5" y="513.1" width="4" height="4" fill="#62c2ff"/><rect x="95.5" y="513.1" width="4" height="4" fill="#67c0ff"/><rect x="99.5" y="513.1" width="4" height="4" fill="#6ebfff"/><rect x="103.5" y="513.1" width="4" height="4" fill="#78bdff"/><rect x="107.5" y="513.1" width="4" height="4" fill="#83bcff"/><rect x="111.5" y="513.1" width="4" height="4" fill="#90bdff"/><rect x="115.5" y="513.1" width="4" height="4" fill="#99b8ff"/><rect x="119.5" y="513.1" width="4" height="4" fill="#a0b2ff"/><rect x="123.5" y="513.1" width="4" height="4" fill="#a4a8ff"/><rect x="127.5" y="513.1" width="4" height="4" fill="#aba0ff"/><rect x="131.5" y="513.1" width="4" height="4" fill="#c59fff"/><rect x="135.5" y="513.1" width="4" height="4" fill="#c994ff"/><rect x="139.5" y="513.1" width="4" height="4" fill="#cd89ff"/><rect x="143.5" y="513.1" width="4" height="4" fill="#d37fff"/><rect x="147.5" y="513.1" width="4" height="4" fill="#d976ff"/><rect x="151.5" y="513.1" width="4" height="4" fill="#df6dfd"/><rect x="155.5" y="513.1" width="4" height="4" fill="#e464fb"/><rect x="159.5" y="513.1" width="4" height="4" fill="#ea5cf9"/><rect x="163.5" y="513.1" width="4" height="4" fill="#ef56f7"/><rect x="167.5" y="513.1" width="4" height="4" fill="#f550f5"/><rect x="171.5" y="513.1" width="4" height="4" fill="#fb4bf3"/><rect x="175.5" y="513.1" width="4" height="4" fill="#ff46ef"/><rect x="179.5" y="513.1" width="4" height="4" fill="#ff40e6"/><rect x="183.5" y="513.1" width="4" height="4" fill="#ff3cde"/><rect x="187.5" y="513.1" width="4" height="4" fill="#ff37d6"/><rect x="191.5" y="513.1" width="4" height="4" fill="#ff34ce"/><rect x="195.5" y="513.1" width="4" height="4" fill="#ff30c7"/><rect x="199.5" y="513.1" width="4" height="4" fill="#ff2ec0"/><rect x="203.5" y="513.1" width="4" height="4" fill="#ff2bba"/><rect x="207.5" y="513.1" width="4" height="4" fill="#ff29b4"/><rect x="211.5" y="513.1" width="4" height="4" fill="#ff28ae"/><rect x="215.5" y="513.1" width="4" height="4" fill="#ff26a9"/><rect x="219.5" y="513.1" width="4" height="4" fill="#ff25a4"/><rect x="223.5" y="513.1" width="4" height="4" fill="#ff249f"/><rect x="227.5" y="513.1" width="4" height="4" fill="#ff229a"/><rect x="231.5" y="513.1" width="4" height="4" fill="#ff2296"/><rect x="235.5" y="513.1" width="4" height="4" fill="#ff2192"/><rect x="239.5" y="513.1" width="4" height="4" fill="#ff208d"/><rect x="243.5" y="513.1" width="4" height="4" fill="#ff2089"/><rect x="247.5" y="513.1" width="4" height="4" fill="#ff2085"/><rect x="251.5" y="513.1" width="4" height="4" fill="#ff1f80"/><rect x="255.5" y="513.1" width="4" height="4" fill="#ff1f7d"/><rect x="55.5" y="517.1" width="4" height="4" fill="#58d5ff"/><rect x="59.5" y="517.1" width="4" height="4" fill="#56d2ff"/><rect x="63.5" y="517.1" width="4" height="4" fill="#55cfff"/><rect x="67.5" y="517.1" width="4" height="4" fill="#54ccff"/><rect x="71.5" y="517.1" width="4" height="4" fill="#53c8ff"/><rect x="75.5" y="517.1" width="4" height="4" fill="#53c5ff"/><rect x="79.5" y="517.1" width="4" height="4" fill="#54c2ff"/><rect x="83.5" y="517.1" width="4" height="4" fill="#56bfff"/><rect x="87.5" y="517.1" width="4" height="4" fill="#58bcff"/><rect x="91.5" y="517.1" width="4" height="4" fill="#5cb9ff"/><rect x="95.5" y="517.1" width="4" height="4" fill="#62b6ff"/><rect x="99.5" y="517.1" width="4" height="4" fill="#6ab4ff"/><rect x="103.5" y="517.1" width="4" height="4" fill="#74b2ff"/><rect x="107.5" y="517.1" width="4" height="4" fill="#80b2ff"/><rect x="111.5" y="517.1" width="4" height="4" fill="#87acff"/><rect x="115.5" y="517.1" width="4" height="4" fill="#8da5ff"/><rect x="119.5" y="517.1" width="4" height="4" fill="#929bff"/><rect x="123.5" y="517.1" width="4" height="4" fill="#958cff"/><rect x="127.5" y="517.1" width="4" height="4" fill="#b992ff"/><rect x="131.5" y="517.1" width="4" height="4" fill="#bc88ff"/><rect x="135.5" y="517.1" width="4" height="4" fill="#c17eff"/><rect x="139.5" y="517.1" width="4" height="4" fill="#c774ff"/><rect x="143.5" y="517.1" width="4" height="4" fill="#cd6bff"/><rect x="147.5" y="517.1" width="4" height="4" fill="#d463ff"/><rect x="151.5" y="517.1" width="4" height="4" fill="#da5cfe"/><rect x="155.5" y="517.1" width="4" height="4" fill="#e055fb"/><rect x="159.5" y="517.1" width="4" height="4" fill="#e54ff9"/><rect x="163.5" y="517.1" width="4" height="4" fill="#eb49f7"/><rect x="167.5" y="517.1" width="4" height="4" fill="#f145f6"/><rect x="171.5" y="517.1" width="4" height="4" fill="#f641f4"/><rect x="175.5" y="517.1" width="4" height="4" fill="#fc3ef2"/><rect x="179.5" y="517.1" width="4" height="4" fill="#ff3bed"/><rect x="183.5" y="517.1" width="4" height="4" fill="#ff38e5"/><rect x="187.5" y="517.1" width="4" height="4" fill="#ff34de"/><rect x="191.5" y="517.1" width="4" height="4" fill="#ff31d6"/><rect x="195.5" y="517.1" width="4" height="4" fill="#ff2fcf"/><rect x="199.5" y="517.1" width="4" height="4" fill="#ff2dc9"/><rect x="203.5" y="517.1" width="4" height="4" fill="#ff2bc3"/><rect x="207.5" y="517.1" width="4" height="4" fill="#ff29bd"/><rect x="211.5" y="517.1" width="4" height="4" fill="#ff28b7"/><rect x="215.5" y="517.1" width="4" height="4" fill="#ff27b2"/><rect x="219.5" y="517.1" width="4" height="4" fill="#ff26ad"/><rect x="223.5" y="517.1" width="4" height="4" fill="#ff25a9"/><rect x="227.5" y="517.1" width="4" height="4" fill="#ff24a4"/><rect x="231.5" y="517.1" width="4" height="4" fill="#ff23a0"/><rect x="235.5" y="517.1" width="4" height="4" fill="#ff229c"/><rect x="239.5" y="517.1" width="4" height="4" fill="#ff2298"/><rect x="243.5" y="517.1" width="4" height="4" fill="#ff2194"/><rect x="59.5" y="521.1" width="4" height="4" fill="#52caff"/><rect x="63.5" y="521.1" width="4" height="4" fill="#50c7ff"/><rect x="67.5" y="521.1" width="4" height="4" fill="#4fc3ff"/><rect x="71.5" y="521.1" width="4" height="4" fill="#4ec0ff"/><rect x="75.5" y="521.1" width="4" height="4" fill="#4ebcff"/><rect x="79.5" y="521.1" width="4" height="4" fill="#4fb9ff"/><rect x="83.5" y="521.1" width="4" height="4" fill="#50b6ff"/><rect x="87.5" y="521.1" width="4" height="4" fill="#53b3ff"/><rect x="91.5" y="521.1" width="4" height="4" fill="#58afff"/><rect x="95.5" y="521.1" width="4" height="4" fill="#5eabff"/><rect x="99.5" y="521.1" width="4" height="4" fill="#67a9ff"/><rect x="103.5" y="521.1" width="4" height="4" fill="#71a8ff"/><rect x="107.5" y="521.1" width="4" height="4" fill="#76a0ff"/><rect x="111.5" y="521.1" width="4" height="4" fill="#7c98ff"/><rect x="115.5" y="521.1" width="4" height="4" fill="#808eff"/><rect x="119.5" y="521.1" width="4" height="4" fill="#827eff"/><rect x="123.5" y="521.1" width="4" height="4" fill="#917fff"/><rect x="127.5" y="521.1" width="4" height="4" fill="#b07cff"/><rect x="131.5" y="521.1" width="4" height="4" fill="#b572ff"/><rect x="135.5" y="521.1" width="4" height="4" fill="#bb69ff"/><rect x="139.5" y="521.1" width="4" height="4" fill="#c161ff"/><rect x="143.5" y="521.1" width="4" height="4" fill="#c95aff"/><rect x="147.5" y="521.1" width="4" height="4" fill="#d053ff"/><rect x="151.5" y="521.1" width="4" height="4" fill="#d74efe"/><rect x="155.5" y="521.1" width="4" height="4" fill="#dc48fc"/><rect x="159.5" y="521.1" width="4" height="4" fill="#e244fa"/><rect x="163.5" y="521.1" width="4" height="4" fill="#e840f8"/><rect x="167.5" y="521.1" width="4" height="4" fill="#ed3df6"/><rect x="171.5" y="521.1" width="4" height="4" fill="#f33bf4"/><rect x="175.5" y="521.1" width="4" height="4" fill="#f839f3"/><rect x="179.5" y="521.1" width="4" height="4" fill="#fd37f1"/><rect x="183.5" y="521.1" width="4" height="4" fill="#ff35ec"/><rect x="187.5" y="521.1" width="4" height="4" fill="#ff33e5"/><rect x="191.5" y="521.1" width="4" height="4" fill="#ff30de"/><rect x="195.5" y="521.1" width="4" height="4" fill="#ff2ed7"/><rect x="199.5" y="521.1" width="4" height="4" fill="#ff2dd1"/><rect x="203.5" y="521.1" width="4" height="4" fill="#ff2bcb"/><rect x="207.5" y="521.1" width="4" height="4" fill="#ff2ac5"/><rect x="211.5" y="521.1" width="4" height="4" fill="#ff29c0"/><rect x="215.5" y="521.1" width="4" height="4" fill="#ff28bb"/><rect x="219.5" y="521.1" width="4" height="4" fill="#ff27b6"/><rect x="223.5" y="521.1" width="4" height="4" fill="#ff26b1"/><rect x="227.5" y="521.1" width="4" height="4" fill="#ff25ad"/><rect x="231.5" y="521.1" width="4" height="4" fill="#ff25a9"/><rect x="235.5" y="521.1" width="4" height="4" fill="#ff24a5"/><rect x="59.5" y="525.1" width="4" height="4" fill="#4ec3ff"/><rect x="63.5" y="525.1" width="4" height="4" fill="#4bbfff"/><rect x="67.5" y="525.1" width="4" height="4" fill="#4abbff"/><rect x="71.5" y="525.1" width="4" height="4" fill="#49b8ff"/><rect x="75.5" y="525.1" width="4" height="4" fill="#49b4ff"/><rect x="79.5" y="525.1" width="4" height="4" fill="#49b1ff"/><rect x="83.5" y="525.1" width="4" height="4" fill="#4bacff"/><rect x="87.5" y="525.1" width="4" height="4" fill="#4fa8ff"/><rect x="91.5" y="525.1" width="4" height="4" fill="#54a4ff"/><rect x="95.5" y="525.1" width="4" height="4" fill="#5ba1ff"/><rect x="99.5" y="525.1" width="4" height="4" fill="#639eff"/><rect x="103.5" y="525.1" width="4" height="4" fill="#6795ff"/><rect x="107.5" y="525.1" width="4" height="4" fill="#6c8cff"/><rect x="111.5" y="525.1" width="4" height="4" fill="#6f82ff"/><rect x="115.5" y="525.1" width="4" height="4" fill="#7374ff"/><rect x="119.5" y="525.1" width="4" height="4" fill="#7c6cff"/><rect x="123.5" y="525.1" width="4" height="4" fill="#a470ff"/><rect x="127.5" y="525.1" width="4" height="4" fill="#a967ff"/><rect x="131.5" y="525.1" width="4" height="4" fill="#af5fff"/><rect x="135.5" y="525.1" width="4" height="4" fill="#b658ff"/><rect x="139.5" y="525.1" width="4" height="4" fill="#bd51ff"/><rect x="143.5" y="525.1" width="4" height="4" fill="#c54cff"/><rect x="147.5" y="525.1" width="4" height="4" fill="#cd47ff"/><rect x="151.5" y="525.1" width="4" height="4" fill="#d343fe"/><rect x="155.5" y="525.1" width="4" height="4" fill="#d93ffc"/><rect x="159.5" y="525.1" width="4" height="4" fill="#df3cfa"/><rect x="163.5" y="525.1" width="4" height="4" fill="#e439f8"/><rect x="167.5" y="525.1" width="4" height="4" fill="#ea37f7"/><rect x="171.5" y="525.1" width="4" height="4" fill="#ef36f5"/><rect x="175.5" y="525.1" width="4" height="4" fill="#f435f3"/><rect x="179.5" y="525.1" width="4" height="4" fill="#f934f2"/><rect x="183.5" y="525.1" width="4" height="4" fill="#fe33f1"/><rect x="187.5" y="525.1" width="4" height="4" fill="#ff32eb"/><rect x="191.5" y="525.1" width="4" height="4" fill="#ff30e4"/><rect x="195.5" y="525.1" width="4" height="4" fill="#ff2ede"/><rect x="199.5" y="525.1" width="4" height="4" fill="#ff2dd8"/><rect x="203.5" y="525.1" width="4" height="4" fill="#ff2cd2"/><rect x="207.5" y="525.1" width="4" height="4" fill="#ff2bcd"/><rect x="211.5" y="525.1" width="4" height="4" fill="#ff2ac8"/><rect x="215.5" y="525.1" width="4" height="4" fill="#ff29c3"/><rect x="219.5" y="525.1" width="4" height="4" fill="#ff28be"/><rect x="223.5" y="525.1" width="4" height="4" fill="#ff27b9"/><rect x="63.5" y="529.1" width="4" height="4" fill="#47b8ff"/><rect x="67.5" y="529.1" width="4" height="4" fill="#45b4ff"/><rect x="71.5" y="529.1" width="4" height="4" fill="#44b0ff"/><rect x="75.5" y="529.1" width="4" height="4" fill="#44acff"/><rect x="79.5" y="529.1" width="4" height="4" fill="#45a7ff"/><rect x="83.5" y="529.1" width="4" height="4" fill="#48a2ff"/><rect x="87.5" y="529.1" width="4" height="4" fill="#4b9dff"/><rect x="91.5" y="529.1" width="4" height="4" fill="#519aff"/><rect x="95.5" y="529.1" width="4" height="4" fill="#5795ff"/><rect x="99.5" y="529.1" width="4" height="4" fill="#5a8cff"/><rect x="103.5" y="529.1" width="4" height="4" fill="#5e82ff"/><rect x="107.5" y="529.1" width="4" height="4" fill="#6077ff"/><rect x="111.5" y="529.1" width="4" height="4" fill="#636aff"/><rect x="115.5" y="529.1" width="4" height="4" fill="#685bff"/><rect x="119.5" y="529.1" width="4" height="4" fill="#7d61ff"/><rect x="123.5" y="529.1" width="4" height="4" fill="#9e5dff"/><rect x="127.5" y="529.1" width="4" height="4" fill="#a455ff"/><rect x="131.5" y="529.1" width="4" height="4" fill="#ab4fff"/><rect x="135.5" y="529.1" width="4" height="4" fill="#b349ff"/><rect x="139.5" y="529.1" width="4" height="4" fill="#ba44ff"/><rect x="143.5" y="529.1" width="4" height="4" fill="#c240ff"/><rect x="147.5" y="529.1" width="4" height="4" fill="#ca3dff"/><rect x="151.5" y="529.1" width="4" height="4" fill="#d13afe"/><rect x="155.5" y="529.1" width="4" height="4" fill="#d738fc"/><rect x="159.5" y="529.1" width="4" height="4" fill="#dc36fa"/><rect x="163.5" y="529.1" width="4" height="4" fill="#e234f9"/><rect x="167.5" y="529.1" width="4" height="4" fill="#e733f7"/><rect x="171.5" y="529.1" width="4" height="4" fill="#ec32f5"/><rect x="175.5" y="529.1" width="4" height="4" fill="#f132f4"/><rect x="179.5" y="529.1" width="4" height="4" fill="#f631f3"/><rect x="183.5" y="529.1" width="4" height="4" fill="#fa31f1"/><rect x="187.5" y="529.1" width="4" height="4" fill="#ff31f0"/><rect x="191.5" y="529.1" width="4" height="4" fill="#ff30ea"/><rect x="195.5" y="529.1" width="4" height="4" fill="#ff2fe4"/><rect x="199.5" y="529.1" width="4" height="4" fill="#ff2ede"/><rect x="203.5" y="529.1" width="4" height="4" fill="#ff2dd9"/><rect x="207.5" y="529.1" width="4" height="4" fill="#ff2cd3"/><rect x="211.5" y="529.1" width="4" height="4" fill="#ff2bce"/><rect x="215.5" y="529.1" width="4" height="4" fill="#ff2aca"/><rect x="63.5" y="533.1" width="4" height="4" fill="#43b1ff"/><rect x="67.5" y="533.1" width="4" height="4" fill="#41acff"/><rect x="71.5" y="533.1" width="4" height="4" fill="#40a7ff"/><rect x="75.5" y="533.1" width="4" height="4" fill="#40a2ff"/><rect x="79.5" y="533.1" width="4" height="4" fill="#429dff"/><rect x="83.5" y="533.1" width="4" height="4" fill="#4498ff"/><rect x="87.5" y="533.1" width="4" height="4" fill="#4893ff"/><rect x="91.5" y="533.1" width="4" height="4" fill="#4c8eff"/><rect x="95.5" y="533.1" width="4" height="4" fill="#4e84ff"/><rect x="99.5" y="533.1" width="4" height="4" fill="#5179ff"/><rect x="103.5" y="533.1" width="4" height="4" fill="#536eff"/><rect x="107.5" y="533.1" width="4" height="4" fill="#5561ff"/><rect x="111.5" y="533.1" width="4" height="4" fill="#584eff"/><rect x="115.5" y="533.1" width="4" height="4" fill="#6852ff"/><rect x="119.5" y="533.1" width="4" height="4" fill="#9353ff"/><rect x="123.5" y="533.1" width="4" height="4" fill="#9a4dff"/><rect x="127.5" y="533.1" width="4" height="4" fill="#a147ff"/><rect x="131.5" y="533.1" width="4" height="4" fill="#a842ff"/><rect x="135.5" y="533.1" width="4" height="4" fill="#b03eff"/><rect x="139.5" y="533.1" width="4" height="4" fill="#b83bff"/><rect x="143.5" y="533.1" width="4" height="4" fill="#c038ff"/><rect x="147.5" y="533.1" width="4" height="4" fill="#c936ff"/><rect x="151.5" y="533.1" width="4" height="4" fill="#cf34fe"/><rect x="155.5" y="533.1" width="4" height="4" fill="#d533fc"/><rect x="159.5" y="533.1" width="4" height="4" fill="#da31fb"/><rect x="163.5" y="533.1" width="4" height="4" fill="#e031f9"/><rect x="167.5" y="533.1" width="4" height="4" fill="#e530f7"/><rect x="171.5" y="533.1" width="4" height="4" fill="#ea30f6"/><rect x="175.5" y="533.1" width="4" height="4" fill="#ee30f5"/><rect x="179.5" y="533.1" width="4" height="4" fill="#f330f3"/><rect x="183.5" y="533.1" width="4" height="4" fill="#f730f2"/><rect x="187.5" y="533.1" width="4" height="4" fill="#fb30f1"/><rect x="191.5" y="533.1" width="4" height="4" fill="#ff31ef"/><rect x="195.5" y="533.1" width="4" height="4" fill="#ff30ea"/><rect x="199.5" y="533.1" width="4" height="4" fill="#ff2fe4"/><rect x="203.5" y="533.1" width="4" height="4" fill="#ff2edf"/><rect x="207.5" y="533.1" width="4" height="4" fill="#ff2dda"/><rect x="63.5" y="537.1" width="4" height="4" fill="#3faaff"/><rect x="67.5" y="537.1" width="4" height="4" fill="#3ea4ff"/><rect x="71.5" y="537.1" width="4" height="4" fill="#3c9eff"/><rect x="75.5" y="537.1" width="4" height="4" fill="#3d98ff"/><rect x="79.5" y="537.1" width="4" height="4" fill="#3e93ff"/><rect x="83.5" y="537.1" width="4" height="4" fill="#418eff"/><rect x="87.5" y="537.1" width="4" height="4" fill="#4387ff"/><rect x="91.5" y="537.1" width="4" height="4" fill="#457dff"/><rect x="95.5" y="537.1" width="4" height="4" fill="#4772ff"/><rect x="99.5" y="537.1" width="4" height="4" fill="#4866ff"/><rect x="103.5" y="537.1" width="4" height="4" fill="#4959ff"/><rect x="107.5" y="537.1" width="4" height="4" fill="#4c49ff"/><rect x="111.5" y="537.1" width="4" height="4" fill="#5744ff"/><rect x="115.5" y="537.1" width="4" height="4" fill="#7049ff"/><rect x="119.5" y="537.1" width="4" height="4" fill="#9045ff"/><rect x="123.5" y="537.1" width="4" height="4" fill="#9740ff"/><rect x="127.5" y="537.1" width="4" height="4" fill="#9f3cff"/><rect x="131.5" y="537.1" width="4" height="4" fill="#a738ff"/><rect x="135.5" y="537.1" width="4" height="4" fill="#af36ff"/><rect x="139.5" y="537.1" width="4" height="4" fill="#b733ff"/><rect x="143.5" y="537.1" width="4" height="4" fill="#bf32ff"/><rect x="147.5" y="537.1" width="4" height="4" fill="#c731ff"/><rect x="151.5" y="537.1" width="4" height="4" fill="#ce30fe"/><rect x="155.5" y="537.1" width="4" height="4" fill="#d32ffc"/><rect x="159.5" y="537.1" width="4" height="4" fill="#d92ffb"/><rect x="163.5" y="537.1" width="4" height="4" fill="#de2ef9"/><rect x="167.5" y="537.1" width="4" height="4" fill="#e32ef8"/><rect x="171.5" y="537.1" width="4" height="4" fill="#e72ef7"/><rect x="175.5" y="537.1" width="4" height="4" fill="#ec2ff5"/><rect x="179.5" y="537.1" width="4" height="4" fill="#f02ff4"/><rect x="183.5" y="537.1" width="4" height="4" fill="#f42ff3"/><rect x="187.5" y="537.1" width="4" height="4" fill="#f930f2"/><rect x="191.5" y="537.1" width="4" height="4" fill="#fc30f1"/><rect x="195.5" y="537.1" width="4" height="4" fill="#ff30ef"/><rect x="67.5" y="541.1" width="4" height="4" fill="#3b9bff"/><rect x="71.5" y="541.1" width="4" height="4" fill="#3a95ff"/><rect x="75.5" y="541.1" width="4" height="4" fill="#3a8fff"/><rect x="79.5" y="541.1" width="4" height="4" fill="#3b8aff"/><rect x="83.5" y="541.1" width="4" height="4" fill="#3c82ff"/><rect x="87.5" y="541.1" width="4" height="4" fill="#3d77ff"/><rect x="91.5" y="541.1" width="4" height="4" fill="#3e6cff"/><rect x="95.5" y="541.1" width="4" height="4" fill="#3e60ff"/><rect x="99.5" y="541.1" width="4" height="4" fill="#3e53ff"/><rect x="103.5" y="541.1" width="4" height="4" fill="#4245ff"/><rect x="107.5" y="541.1" width="4" height="4" fill="#4838ff"/><rect x="111.5" y="541.1" width="4" height="4" fill="#5b3dff"/><rect x="115.5" y="541.1" width="4" height="4" fill="#873dff"/><rect x="119.5" y="541.1" width="4" height="4" fill="#8e39ff"/><rect x="123.5" y="541.1" width="4" height="4" fill="#9636ff"/><rect x="127.5" y="541.1" width="4" height="4" fill="#9e33ff"/><rect x="131.5" y="541.1" width="4" height="4" fill="#a631ff"/><rect x="135.5" y="541.1" width="4" height="4" fill="#af2fff"/><rect x="139.5" y="541.1" width="4" height="4" fill="#b72eff"/><rect x="143.5" y="541.1" width="4" height="4" fill="#bf2eff"/><rect x="147.5" y="541.1" width="4" height="4" fill="#c62dff"/><rect x="151.5" y="541.1" width="4" height="4" fill="#cd2dfe"/><rect x="155.5" y="541.1" width="4" height="4" fill="#d22dfd"/><rect x="159.5" y="541.1" width="4" height="4" fill="#d72dfb"/><rect x="163.5" y="541.1" width="4" height="4" fill="#dc2dfa"/><rect x="167.5" y="541.1" width="4" height="4" fill="#e12df8"/><rect x="171.5" y="541.1" width="4" height="4" fill="#e52df7"/><rect x="175.5" y="541.1" width="4" height="4" fill="#ea2ef6"/><rect x="179.5" y="541.1" width="4" height="4" fill="#ee2ef5"/><rect x="183.5" y="541.1" width="4" height="4" fill="#f22ff4"/><rect x="187.5" y="541.1" width="4" height="4" fill="#f630f3"/><rect x="67.5" y="545.1" width="4" height="4" fill="#3993ff"/><rect x="71.5" y="545.1" width="4" height="4" fill="#378dff"/><rect x="75.5" y="545.1" width="4" height="4" fill="#3686ff"/><rect x="79.5" y="545.1" width="4" height="4" fill="#377dff"/><rect x="83.5" y="545.1" width="4" height="4" fill="#3773ff"/><rect x="87.5" y="545.1" width="4" height="4" fill="#3768ff"/><rect x="91.5" y="545.1" width="4" height="4" fill="#375bff"/><rect x="95.5" y="545.1" width="4" height="4" fill="#364eff"/><rect x="99.5" y="545.1" width="4" height="4" fill="#3840ff"/><rect x="103.5" y="545.1" width="4" height="4" fill="#3c2dff"/><rect x="107.5" y="545.1" width="4" height="4" fill="#4b33ff"/><rect x="111.5" y="545.1" width="4" height="4" fill="#7c37ff"/><rect x="115.5" y="545.1" width="4" height="4" fill="#8633ff"/><rect x="119.5" y="545.1" width="4" height="4" fill="#8e31ff"/><rect x="123.5" y="545.1" width="4" height="4" fill="#962fff"/><rect x="127.5" y="545.1" width="4" height="4" fill="#9e2dff"/><rect x="131.5" y="545.1" width="4" height="4" fill="#a72cff"/><rect x="135.5" y="545.1" width="4" height="4" fill="#af2bff"/><rect x="139.5" y="545.1" width="4" height="4" fill="#b72bff"/><rect x="143.5" y="545.1" width="4" height="4" fill="#be2bff"/><rect x="147.5" y="545.1" width="4" height="4" fill="#c62bff"/><rect x="151.5" y="545.1" width="4" height="4" fill="#cc2bfe"/><rect x="155.5" y="545.1" width="4" height="4" fill="#d12bfd"/><rect x="159.5" y="545.1" width="4" height="4" fill="#d62bfb"/><rect x="163.5" y="545.1" width="4" height="4" fill="#db2cfa"/><rect x="167.5" y="545.1" width="4" height="4" fill="#df2df9"/><rect x="171.5" y="545.1" width="4" height="4" fill="#e42df8"/><rect x="175.5" y="545.1" width="4" height="4" fill="#e82ef6"/><rect x="71.5" y="549.1" width="4" height="4" fill="#3585ff"/><rect x="75.5" y="549.1" width="4" height="4" fill="#337aff"/><rect x="79.5" y="549.1" width="4" height="4" fill="#326fff"/><rect x="83.5" y="549.1" width="4" height="4" fill="#3164ff"/><rect x="87.5" y="549.1" width="4" height="4" fill="#3158ff"/><rect x="91.5" y="549.1" width="4" height="4" fill="#2f4aff"/><rect x="95.5" y="549.1" width="4" height="4" fill="#313dff"/><rect x="99.5" y="549.1" width="4" height="4" fill="#342cff"/><rect x="103.5" y="549.1" width="4" height="4" fill="#3f2aff"/><rect x="107.5" y="549.1" width="4" height="4" fill="#522fff"/><rect x="111.5" y="549.1" width="4" height="4" fill="#7e2eff"/><rect x="115.5" y="549.1" width="4" height="4" fill="#862cff"/><rect x="119.5" y="549.1" width="4" height="4" fill="#8f2bff"/><rect x="123.5" y="549.1" width="4" height="4" fill="#9729ff"/><rect x="127.5" y="549.1" width="4" height="4" fill="#9f29ff"/><rect x="131.5" y="549.1" width="4" height="4" fill="#a728ff"/><rect x="135.5" y="549.1" width="4" height="4" fill="#af28ff"/><rect x="139.5" y="549.1" width="4" height="4" fill="#b729ff"/><rect x="143.5" y="549.1" width="4" height="4" fill="#be29ff"/><rect x="147.5" y="549.1" width="4" height="4" fill="#c52aff"/><rect x="151.5" y="549.1" width="4" height="4" fill="#cb2afe"/><rect x="155.5" y="549.1" width="4" height="4" fill="#d02bfd"/><rect x="159.5" y="549.1" width="4" height="4" fill="#d52bfc"/><rect x="163.5" y="549.1" width="4" height="4" fill="#da2cfa"/><rect x="167.5" y="549.1" width="4" height="4" fill="#de2cf9"/><rect x="71.5" y="553.1" width="4" height="4" fill="#3379ff"/><rect x="75.5" y="553.1" width="4" height="4" fill="#306eff"/><rect x="79.5" y="553.1" width="4" height="4" fill="#2d61ff"/><rect x="83.5" y="553.1" width="4" height="4" fill="#2c55ff"/><rect x="87.5" y="553.1" width="4" height="4" fill="#2a48ff"/><rect x="91.5" y="553.1" width="4" height="4" fill="#2b3bff"/><rect x="95.5" y="553.1" width="4" height="4" fill="#2e2cff"/><rect x="99.5" y="553.1" width="4" height="4" fill="#3523ff"/><rect x="103.5" y="553.1" width="4" height="4" fill="#4628ff"/><rect x="107.5" y="553.1" width="4" height="4" fill="#772aff"/><rect x="111.5" y="553.1" width="4" height="4" fill="#7f28ff"/><rect x="115.5" y="553.1" width="4" height="4" fill="#8827ff"/><rect x="119.5" y="553.1" width="4" height="4" fill="#9026ff"/><rect x="123.5" y="553.1" width="4" height="4" fill="#9826ff"/><rect x="127.5" y="553.1" width="4" height="4" fill="#a026ff"/><rect x="131.5" y="553.1" width="4" height="4" fill="#a826ff"/><rect x="135.5" y="553.1" width="4" height="4" fill="#b027ff"/><rect x="139.5" y="553.1" width="4" height="4" fill="#b727ff"/><rect x="143.5" y="553.1" width="4" height="4" fill="#be28ff"/><rect x="147.5" y="553.1" width="4" height="4" fill="#c529ff"/><rect x="151.5" y="553.1" width="4" height="4" fill="#cb2afe"/><rect x="155.5" y="553.1" width="4" height="4" fill="#d02bfd"/><rect x="75.5" y="557.1" width="4" height="4" fill="#2d61ff"/><rect x="79.5" y="557.1" width="4" height="4" fill="#2954ff"/><rect x="83.5" y="557.1" width="4" height="4" fill="#2646ff"/><rect x="87.5" y="557.1" width="4" height="4" fill="#2539ff"/><rect x="91.5" y="557.1" width="4" height="4" fill="#292dff"/><rect x="95.5" y="557.1" width="4" height="4" fill="#2d1dff"/><rect x="99.5" y="557.1" width="4" height="4" fill="#3b22ff"/><rect x="103.5" y="557.1" width="4" height="4" fill="#4f25ff"/><rect x="107.5" y="557.1" width="4" height="4" fill="#7925ff"/><rect x="111.5" y="557.1" width="4" height="4" fill="#8124ff"/><rect x="115.5" y="557.1" width="4" height="4" fill="#8a24ff"/><rect x="119.5" y="557.1" width="4" height="4" fill="#9224ff"/><rect x="123.5" y="557.1" width="4" height="4" fill="#9a24ff"/><rect x="127.5" y="557.1" width="4" height="4" fill="#a224ff"/><rect x="131.5" y="557.1" width="4" height="4" fill="#a925ff"/><rect x="135.5" y="557.1" width="4" height="4" fill="#b126ff"/><rect x="139.5" y="557.1" width="4" height="4" fill="#b827ff"/><rect x="143.5" y="557.1" width="4" height="4" fill="#bf28ff"/><rect x="147.5" y="557.1" width="4" height="4" fill="#c529ff"/><rect x="75.5" y="561.1" width="4" height="4" fill="#2a56ff"/><rect x="79.5" y="561.1" width="4" height="4" fill="#2648ff"/><rect x="83.5" y="561.1" width="4" height="4" fill="#2238ff"/><rect x="87.5" y="561.1" width="4" height="4" fill="#242cff"/><rect x="91.5" y="561.1" width="4" height="4" fill="#281cff"/><rect x="95.5" y="561.1" width="4" height="4" fill="#321cff"/><rect x="99.5" y="561.1" width="4" height="4" fill="#4321ff"/><rect x="103.5" y="561.1" width="4" height="4" fill="#7322ff"/><rect x="107.5" y="561.1" width="4" height="4" fill="#7b21ff"/><rect x="111.5" y="561.1" width="4" height="4" fill="#8421ff"/><rect x="115.5" y="561.1" width="4" height="4" fill="#8c22ff"/><rect x="119.5" y="561.1" width="4" height="4" fill="#9422ff"/><rect x="123.5" y="561.1" width="4" height="4" fill="#9c23ff"/><rect x="127.5" y="561.1" width="4" height="4" fill="#a424ff"/><rect x="131.5" y="561.1" width="4" height="4" fill="#ab25ff"/><rect x="135.5" y="561.1" width="4" height="4" fill="#b226ff"/><rect x="139.5" y="561.1" width="4" height="4" fill="#b927ff"/><rect x="79.5" y="565.1" width="4" height="4" fill="#223bff"/><rect x="83.5" y="565.1" width="4" height="4" fill="#232eff"/><rect x="87.5" y="565.1" width="4" height="4" fill="#241fff"/><rect x="91.5" y="565.1" width="4" height="4" fill="#2c18ff"/><rect x="95.5" y="565.1" width="4" height="4" fill="#3b1dff"/><rect x="99.5" y="565.1" width="4" height="4" fill="#521fff"/><rect x="103.5" y="565.1" width="4" height="4" fill="#761fff"/><rect x="107.5" y="565.1" width="4" height="4" fill="#7e1fff"/><rect x="111.5" y="565.1" width="4" height="4" fill="#8620ff"/><rect x="115.5" y="565.1" width="4" height="4" fill="#8f21ff"/><rect x="119.5" y="565.1" width="4" height="4" fill="#9722ff"/><rect x="123.5" y="565.1" width="4" height="4" fill="#9e23ff"/><rect x="127.5" y="565.1" width="4" height="4" fill="#a524ff"/><rect x="83.5" y="569.1" width="4" height="4" fill="#2424ff"/><rect x="87.5" y="569.1" width="4" height="4" fill="#2716ff"/><rect x="91.5" y="569.1" width="4" height="4" fill="#331aff"/><rect x="95.5" y="569.1" width="4" height="4" fill="#431dff"/><rect x="99.5" y="569.1" width="4" height="4" fill="#711dff"/><rect x="103.5" y="569.1" width="4" height="4" fill="#791eff"/><rect x="107.5" y="569.1" width="4" height="4" fill="#821fff"/><rect x="111.5" y="569.1" width="4" height="4" fill="#8a20ff"/><rect x="115.5" y="569.1" width="4" height="4" fill="#9222ff"/><rect x="119.5" y="569.1" width="4" height="4" fill="#9923ff"/><rect x="87.5" y="573.1" width="4" height="4" fill="#2e18ff"/><rect x="91.5" y="573.1" width="4" height="4" fill="#3d1cff"/><rect x="95.5" y="573.1" width="4" height="4" fill="#671cff"/><rect x="99.5" y="573.1" width="4" height="4" fill="#751dff"/><rect x="103.5" y="573.1" width="4" height="4" fill="#7d1fff"/><rect x="107.5" y="573.1" width="4" height="4" fill="#8520ff"/><rect x="95.5" y="577.1" width="4" height="4" fill="#711dff"/><rect x="99.5" y="577.1" width="4" height="4" fill="#791eff"/></g></g>
<path d="M98.6 573.2C98.6 573.2 98.6 573.2 98.6 573.2C98.6 573.2 98.5 573.2 98.5 573.2C98.5 573.2 98.5 573.2 98.4 573.2C98.4 573.2 98.4 573.3 98.3 573.3C98.3 573.3 98.3 573.3 98.2 573.3C98.2 573.3 98.2 573.3 98.1 573.3C98.1 573.3 98 573.3 97.9 573.3C97.9 573.3 97.8 573.2 97.7 573.2C97.6 573.1 97.5 573.1 97.3 573C97.2 572.9 97.1 572.8 96.9 572.7C96.7 572.5 96.4 572.3 96.2 572.1C95.9 571.9 95.7 571.7 95.4 571.5C95 571.2 94.7 570.9 94.2 570.6C93.8 570.3 93.3 569.9 92.7 569.4C92.2 569 91.6 568.6 90.9 568C90.2 567.4 89.4 566.7 88.5 565.9C87.6 565 86.8 564.2 85.7 562.8C84.5 561.5 83.3 559.9 81.8 557.5C80.4 555.2 78.8 552.6 77 548.9C75.1 545.2 73.1 540.9 70.8 535.3C68.5 529.7 65.8 523.1 63.2 515.1C60.7 507.1 58 497.6 55.4 487.1C52.9 476.6 50.2 464.2 48.1 452.1C46 440.1 44 426.8 43 414.8C41.9 402.8 41.2 390.7 41.5 380.2C41.8 369.7 42.9 359.7 44.9 351.9C46.8 344.1 49.9 337.7 53.3 333.5C56.6 329.4 60.9 327.8 65.1 327.1C69.3 326.4 74 327.9 78.5 329.3C83 330.7 87.7 333.1 92.1 335.3C96.5 337.6 100.7 340 104.9 342.6C109.1 345.1 113.2 347.8 117.2 350.7C121.3 353.5 125.3 356.5 129.4 359.6C133.4 362.7 137.4 365.8 141.4 369.1C145.4 372.3 149.4 375.7 153.4 379C157.4 382.4 161.4 385.8 165.4 389.2C169.4 392.7 173.3 396.1 177.3 399.6C181.3 403 185.3 406.5 189.2 410C193.1 413.4 197 416.8 200.8 420.2C204.7 423.6 208.5 426.9 212.1 430.2C215.8 433.4 219.5 436.7 223 439.7C226.5 442.8 229.9 445.8 233.2 448.7C236.4 451.6 239.6 454.4 242.5 456.9C245.4 459.5 248 461.8 250.6 464.1C253.1 466.3 255.5 468.4 257.7 470.3C259.8 472.2 261.8 473.9 263.6 475.5C265.4 477.1 266.9 478.5 268.4 479.7C269.8 481 271.1 482.1 272.2 483.1C273.3 484.1 274.3 485 275.3 485.8C276.2 486.6 277 487.3 277.7 488C278.4 488.6 279.1 489.2 279.7 489.8C280.4 490.3 280.9 490.8 281.4 491.3C281.9 491.7 282.4 492.1 282.8 492.4C283.2 492.8 283.5 493.1 283.8 493.3C284.1 493.6 284.3 493.8 284.5 494C284.8 494.2 285 494.4 285.1 494.5C285.3 494.6 285.4 494.7 285.5 494.8C285.6 494.9 285.7 495 285.8 495.1C285.9 495.2 285.9 495.2 286 495.3C286.1 495.4 286.2 495.5 286.3 495.5C286.3 495.6 286.4 495.6 286.5 495.7C286.5 495.7 286.6 495.8 286.6 495.8C286.6 495.8 286.6 495.9 286.7 495.9C286.7 495.9 286.7 495.9 286.7 495.9Z" fill="none" stroke="#000" stroke-width="1.1"/>
<path d="M98.6 573.2L98.6 576.4M90.9 568L88.8 570.4M88.5 565.9L86.3 568.2M85.7 562.8L83.2 564.8M81.8 557.5L79.1 559.2M77 548.9L74.1 550.3M70.8 535.3L65.7 537.4M63.2 515.1L60.2 516.1M55.4 487.1L50.1 488.4M48.1 452.1L44.9 452.7M43 414.8L37.5 415.3M41.5 380.2L38.3 380.1M44.9 351.9L41.8 351.1M53.3 333.5L50.8 331.5M65.1 327.1L64.6 323.9M78.5 329.3L79.5 326.3M92.1 335.3L93.5 332.5M104.9 342.6L106.6 339.8M117.2 350.7L119.1 348M129.4 359.6L131.3 357M141.4 369.1L143.4 366.6M153.4 379L155.4 376.6M165.4 389.2L167.5 386.8M177.3 399.6L179.4 397.2M189.2 410L191.3 407.5M200.8 420.2L203 417.8M212.1 430.2L214.3 427.8M223 439.7L225.1 437.3M233.2 448.7L235.3 446.3M242.5 456.9L244.6 454.5M250.6 464.1L252.7 461.7M257.7 470.3L259.8 467.9M263.6 475.5L265.7 473.1M268.4 479.7L270.5 477.4M272.2 483.1L274.3 480.7M275.3 485.8L277.4 483.4M277.7 488L279.8 485.6M279.7 489.8L281.9 487.4M281.4 491.3L283.5 488.9M282.8 492.4L284.9 490M283.8 493.3L285.9 490.9M284.5 494L286.7 491.6M285.1 494.5L287.2 492.1M285.5 494.8L287.6 492.4M285.8 495.1L287.9 492.7M286 495.3L288.1 492.9M286.3 495.5L288.4 493.1M286.5 495.7L288.6 493.3M286.6 495.8L288.7 493.4M286.7 495.9L288.8 493.5M286.7 495.9L288.8 493.5" stroke="#000" stroke-width="0.9" fill="none"/>
<circle cx="286.7" cy="495.9" r="1.8" fill="#000"/>
<circle cx="98.6" cy="573.2" r="1.5" fill="#000"/>
<text x="55.94" y="320.60" font-size="10.07" font-family="Liberation Serif" fill="#2424ff" textLength="16.50" lengthAdjust="spacingAndGlyphs" stroke="#2424ff" stroke-width="0.25">520</text>
<text x="118.94" y="345.60" font-size="10.07" font-family="Liberation Serif" fill="#2424ff" textLength="16.50" lengthAdjust="spacingAndGlyphs" stroke="#2424ff" stroke-width="0.25">540</text>
<text x="167.69" y="383.95" font-size="10.07" font-family="Liberation Serif" fill="#2424ff" textLength="16.50" lengthAdjust="spacingAndGlyphs" stroke="#2424ff" stroke-width="0.25">560</text>
<text x="214.09" y="426.00" font-size="10.07" font-family="Liberation Serif" fill="#2424ff" textLength="16.50" lengthAdjust="spacingAndGlyphs" stroke="#2424ff" stroke-width="0.25">580</text>
<text x="253.36" y="459.65" font-size="10.07" font-family="Liberation Serif" fill="#2424ff" textLength="16.33" lengthAdjust="spacingAndGlyphs" stroke="#2424ff" stroke-width="0.25">600</text>
<text x="274.91" y="478.15" font-size="10.07" font-family="Liberation Serif" fill="#2424ff" textLength="16.33" lengthAdjust="spacingAndGlyphs" stroke="#2424ff" stroke-width="0.25">620</text>
<text x="291.73" y="498.70" font-size="10.07" font-family="Liberation Serif" fill="#2424ff" textLength="16.56" lengthAdjust="spacingAndGlyphs" stroke="#2424ff" stroke-width="0.25">700</text>
<text x="19.99" y="418.55" font-size="10.07" font-family="Liberation Serif" fill="#2424ff" textLength="16.50" lengthAdjust="spacingAndGlyphs" stroke="#2424ff" stroke-width="0.25">500</text>
<text x="40.49" y="496.00" font-size="10.07" font-family="Liberation Serif" fill="#2424ff" textLength="16.04" lengthAdjust="spacingAndGlyphs" stroke="#2424ff" stroke-width="0.25">490</text>
<text x="49.04" y="540.45" font-size="10.07" font-family="Liberation Serif" fill="#2424ff" textLength="16.04" lengthAdjust="spacingAndGlyphs" stroke="#2424ff" stroke-width="0.25">480</text>
<text x="59.84" y="563.00" font-size="10.07" font-family="Liberation Serif" fill="#2424ff" textLength="16.04" lengthAdjust="spacingAndGlyphs" stroke="#2424ff" stroke-width="0.25">470</text>
<text x="66.84" y="573.50" font-size="10.07" font-family="Liberation Serif" fill="#2424ff" textLength="16.04" lengthAdjust="spacingAndGlyphs" stroke="#2424ff" stroke-width="0.25">460</text>
<text x="102.80" y="577.95" font-size="10.07" font-family="Liberation Serif" fill="#2424ff" textLength="16.38" lengthAdjust="spacingAndGlyphs" stroke="#2424ff" stroke-width="0.25">380</text>
<rect x="40.2" y="307.3" width="268.4" height="267.4" fill="none" stroke="#000" stroke-width="2"/>
<path d="M40.2 574.7V576.9M73.8 574.7V576.9M107.3 574.7V576.9M140.9 574.7V576.9M174.4 574.7V576.9M207.9 574.7V576.9M241.5 574.7V576.9M275.1 574.7V576.9M308.6 574.7V576.9M40.2 574.7H38M40.2 545H38M40.2 515.3H38M40.2 485.6H38M40.2 455.9H38M40.2 426.2H38M40.2 396.5H38M40.2 366.8H38M40.2 337.1H38M40.2 307.4H38" stroke="#000" stroke-width="1.2" fill="none"/>
<text x="27.87" y="594.23" font-size="17.46" font-weight="bold" textLength="25.26" lengthAdjust="spacingAndGlyphs">0.0</text>
<text x="85.37" y="594.23" font-size="17.46" font-weight="bold" textLength="25.26" lengthAdjust="spacingAndGlyphs">0.2</text>
<text x="160.29" y="594.23" font-size="17.46" font-weight="bold" textLength="24.60" lengthAdjust="spacingAndGlyphs">0.4</text>
<text x="228.18" y="594.23" font-size="17.46" font-weight="bold" textLength="25.16" lengthAdjust="spacingAndGlyphs">0.6</text>
<text x="296.48" y="594.23" font-size="17.46" font-weight="bold" textLength="25.06" lengthAdjust="spacingAndGlyphs">0.8</text>
<text x="8.26" y="342.33" font-size="17.46" font-weight="bold" textLength="25.59" lengthAdjust="spacingAndGlyphs">0.8</text>
<text x="8.26" y="401.73" font-size="17.46" font-weight="bold" textLength="25.69" lengthAdjust="spacingAndGlyphs">0.6</text>
<text x="8.28" y="461.13" font-size="17.46" font-weight="bold" textLength="25.12" lengthAdjust="spacingAndGlyphs">0.4</text>
<text x="8.26" y="520.03" font-size="17.46" font-weight="bold" textLength="25.79" lengthAdjust="spacingAndGlyphs">0.2</text>
<text x="8.26" y="578.83" font-size="17.46" font-weight="bold" textLength="25.79" lengthAdjust="spacingAndGlyphs">0.0</text>
<text x="168.99" y="612.00" font-size="20.75" font-weight="bold" textLength="11.54" lengthAdjust="spacingAndGlyphs">x</text>
<text x="1.50" y="436.36" font-size="20.68" font-weight="bold" textLength="11.33" lengthAdjust="spacingAndGlyphs">y</text>
<text x="4.81" y="324.87" font-size="33.27" font-weight="bold" textLength="19.27" lengthAdjust="spacingAndGlyphs">c</text>
<path d="M90.4 522.3 90.5 522.1 90.6 521.9 90.6 521.6 90.7 521.3 90.8 521 90.9 520.7 91 520.4 91.1 520.1 91.2 519.7 91.3 519.4 91.5 519 91.6 518.6 91.7 518.2 91.8 517.8 92 517.4 92.1 516.9 92.3 516.5 92.4 516.1 92.5 515.6 92.7 515.1 92.8 514.7 93 514.2 93.2 513.8 93.3 513.3 93.5 512.8 93.6 512.4 93.8 511.9 94 511.4 94.1 510.9 94.3 510.5 94.5 510 94.6 509.6 94.8 509.1 95 508.7 95.1 508.2 95.3 507.8 95.5 507.4 95.7 507 95.8 506.6 96 506.2 96.2 505.8 96.3 505.4 96.5 505.1 96.7 504.7 96.9 504.3 97.1 503.9 97.3 503.5 97.5 503.2 97.7 502.8 97.9 502.4 98 502 98.2 501.7 98.5 501.3 98.7 500.9 98.9 500.5 99.1 500.2 99.3 499.8 99.5 499.4 99.7 499.1 99.9 498.7 100.1 498.3 100.3 498 100.5 497.6 100.7 497.3 101 496.9 101.2 496.5 101.4 496.2 101.6 495.8 101.8 495.5 102 495.1 102.2 494.8 102.4 494.5 102.7 494.1 102.9 493.8 103.1 493.4 103.3 493.1 103.5 492.8 103.7 492.4 103.9 492.1 104.1 491.8 104.3 491.5 104.5 491.2 104.7 490.9 104.9 490.5 105.1 490.2 105.3 489.9 105.5 489.6 105.7 489.4 105.9 489.1 106.1 488.8 106.3 488.5 106.5 488.2 106.7 487.9 106.8 487.6 107 487.4 107.2 487.1 107.4 486.8 107.6 486.5 107.8 486.3 108 486 108.2 485.7 108.4 485.5 108.6 485.2 108.8 484.9 109 484.7 109.2 484.4 109.4 484.1 109.6 483.8 109.8 483.6 110 483.3 110.2 483 110.4 482.8 110.6 482.5 110.8 482.2 111 481.9 111.2 481.6 111.4 481.4 111.7 481.1 111.9 480.8 112.1 480.5 112.3 480.2 112.5 479.9 112.8 479.6 113 479.3 113.2 479 113.5 478.7 113.7 478.4 113.9 478.1 114.2 477.8 114.4 477.5 114.7 477.2 114.9 476.9 115.2 476.6 115.4 476.3 115.6 476 115.9 475.6 116.1 475.3 116.4 475 116.6 474.7 116.9 474.4 117.1 474.1 117.4 473.8 117.6 473.5 117.9 473.2 118.1 472.9 118.4 472.6 118.6 472.3 118.9 472 119.1 471.7 119.4 471.4 119.6 471.1 119.9 470.8 120.1 470.5 120.3 470.2 120.6 469.9 120.8 469.6 121 469.3 121.3 469 121.5 468.8 121.7 468.5 121.9 468.2 122.1 468 122.4 467.7 122.6 467.4 122.8 467.2 123 466.9 123.2 466.6 123.4 466.4 123.6 466.1 123.8 465.9 124 465.6 124.2 465.4 124.4 465.1 124.6 464.9 124.9 464.6 125.1 464.4 125.3 464.1 125.5 463.9 125.7 463.6 125.8 463.4 126 463.2 126.2 462.9 126.4 462.7 126.6 462.4 126.8 462.2 127 462 127.2 461.7 127.4 461.5 127.6 461.3 127.8 461.1 128 460.8 128.2 460.6 128.4 460.4 128.6 460.1 128.8 459.9 129 459.7 129.2 459.5 129.4 459.2 129.6 459 129.8 458.8 130 458.6 130.2 458.4 130.4 458.2 130.6 458 130.8 457.8 130.9 457.6 131.1 457.4 131.3 457.2 131.5 457 131.7 456.8 131.8 456.7 132 456.5 132.2 456.3 132.3 456.1 132.5 456 132.7 455.8 132.9 455.6 133 455.4 133.2 455.3 133.4 455.1 133.6 454.9 133.8 454.7 133.9 454.6 134.1 454.4 134.3 454.2 134.5 454 134.7 453.8 134.9 453.6 135.1 453.4 135.3 453.2 135.6 453 135.8 452.8 136 452.6 136.2 452.3 136.5 452.1 136.7 451.9 137 451.6 137.3 451.3 137.5 451.1 137.8 450.8 138.1 450.5 138.4 450.2 138.7 449.9 139.1 449.5 139.4 449.2 139.8 448.8 140.1 448.5 140.5 448.1 140.9 447.7 141.3 447.3 141.7 446.9 142.1 446.5 142.5 446.1 143 445.6 143.4 445.2 143.8 444.8 144.3 444.3 144.7 443.9 145.1 443.5 145.6 443.1 146 442.6 146.4 442.2 146.8 441.8 147.2 441.4 147.6 441 148 440.6 148.4 440.2 148.8 439.8 149.2 439.4 149.5 439.1 149.9 438.7 150.2 438.4 150.5 438.1 150.8 437.8 151.1 437.5 151.4 437.2 151.7 436.9 151.9 436.7 152.1 436.5 152.3 436.3 L147.9 433.9 L181.6 425 L156.3 449.9 L157.1 445.5 L156.9 445.6 L156.7 445.8 L156.5 445.9 L156.2 446.1 L156 446.3 L155.7 446.5 L155.4 446.7 L155.1 446.9 L154.8 447.2 L154.4 447.4 L154.1 447.6 L153.7 447.9 L153.3 448.2 L152.9 448.4 L152.6 448.7 L152.2 449 L151.8 449.3 L151.4 449.6 L150.9 449.9 L150.5 450.2 L150.1 450.4 L149.7 450.7 L149.3 451 L148.8 451.3 L148.4 451.6 L148 451.9 L147.6 452.2 L147.2 452.5 L146.8 452.8 L146.4 453.1 L146 453.4 L145.6 453.7 L145.3 453.9 L144.9 454.2 L144.5 454.4 L144.2 454.7 L143.9 454.9 L143.6 455.2 L143.3 455.4 L143 455.6 L142.7 455.8 L142.5 456 L142.2 456.2 L142 456.4 L141.7 456.6 L141.5 456.7 L141.3 456.9 L141.1 457.1 L140.9 457.2 L140.7 457.4 L140.5 457.6 L140.3 457.7 L140.1 457.9 L139.9 458 L139.7 458.2 L139.5 458.3 L139.4 458.5 L139.2 458.6 L139 458.7 L138.9 458.9 L138.7 459 L138.5 459.2 L138.4 459.3 L138.2 459.4 L138.1 459.6 L137.9 459.7 L137.7 459.9 L137.6 460 L137.4 460.2 L137.2 460.3 L137.1 460.5 L136.9 460.6 L136.7 460.8 L136.5 460.9 L136.4 461.1 L136.2 461.3 L136 461.4 L135.8 461.6 L135.6 461.8 L135.4 462 L135.2 462.2 L135 462.4 L134.8 462.6 L134.6 462.8 L134.4 463 L134.1 463.2 L133.9 463.4 L133.7 463.6 L133.5 463.8 L133.3 464 L133.1 464.2 L132.9 464.5 L132.6 464.7 L132.4 464.9 L132.2 465.1 L132 465.3 L131.7 465.6 L131.5 465.8 L131.3 466 L131.1 466.3 L130.9 466.5 L130.6 466.7 L130.4 466.9 L130.2 467.2 L130 467.4 L129.7 467.6 L129.5 467.9 L129.3 468.1 L129.1 468.3 L128.8 468.6 L128.6 468.8 L128.4 469 L128.2 469.3 L127.9 469.5 L127.7 469.7 L127.5 470 L127.3 470.2 L127 470.4 L126.8 470.7 L126.6 470.9 L126.4 471.1 L126.2 471.4 L125.9 471.6 L125.7 471.8 L125.5 472.1 L125.3 472.3 L125 472.5 L124.8 472.7 L124.6 473 L124.4 473.2 L124.2 473.4 L123.9 473.7 L123.7 473.9 L123.5 474.1 L123.3 474.4 L123 474.6 L122.8 474.8 L122.6 475.1 L122.4 475.3 L122.2 475.5 L121.9 475.8 L121.7 476 L121.5 476.3 L121.3 476.5 L121 476.7 L120.8 477 L120.6 477.2 L120.4 477.5 L120.1 477.7 L119.9 478 L119.7 478.2 L119.5 478.5 L119.3 478.7 L119 479 L118.8 479.2 L118.6 479.5 L118.4 479.7 L118.1 480 L117.9 480.2 L117.7 480.5 L117.5 480.8 L117.3 481 L117 481.3 L116.8 481.6 L116.6 481.8 L116.4 482.1 L116.1 482.4 L115.9 482.6 L115.7 482.9 L115.5 483.2 L115.3 483.4 L115 483.7 L114.8 484 L114.6 484.3 L114.4 484.5 L114.1 484.8 L113.9 485.1 L113.7 485.4 L113.5 485.7 L113.2 486 L113 486.2 L112.8 486.5 L112.6 486.8 L112.4 487.1 L112.1 487.4 L111.9 487.7 L111.7 488 L111.5 488.2 L111.3 488.5 L111 488.8 L110.8 489.1 L110.6 489.4 L110.4 489.7 L110.2 490 L110 490.3 L109.7 490.6 L109.5 490.9 L109.3 491.2 L109.1 491.5 L108.9 491.8 L108.7 492.1 L108.5 492.4 L108.3 492.7 L108.1 493 L107.9 493.3 L107.7 493.6 L107.5 493.9 L107.3 494.2 L107 494.5 L106.8 494.8 L106.6 495.1 L106.4 495.4 L106.2 495.7 L106 496 L105.8 496.3 L105.6 496.7 L105.4 497 L105.3 497.3 L105.1 497.6 L104.9 497.9 L104.7 498.2 L104.5 498.5 L104.3 498.9 L104.1 499.2 L103.9 499.5 L103.7 499.8 L103.5 500.1 L103.3 500.5 L103.1 500.8 L102.9 501.1 L102.7 501.5 L102.5 501.8 L102.3 502.1 L102.1 502.5 L101.9 502.8 L101.7 503.2 L101.5 503.5 L101.3 503.9 L101.1 504.2 L100.9 504.6 L100.7 505 L100.5 505.3 L100.3 505.7 L100.1 506.1 L99.8 506.6 L99.6 507 L99.4 507.4 L99.2 507.9 L98.9 508.3 L98.7 508.8 L98.5 509.2 L98.2 509.7 L98 510.2 L97.7 510.6 L97.5 511.1 L97.3 511.6 L97 512 L96.8 512.5 L96.6 513 L96.3 513.4 L96.1 513.9 L95.9 514.4 L95.7 514.8 L95.5 515.3 L95.2 515.7 L95 516.1 L94.8 516.5 L94.6 516.9 L94.4 517.3 L94.3 517.7 L94.1 518.1 L93.9 518.5 L93.7 518.8 L93.6 519.1 L93.4 519.4 L93.3 519.7 L93.1 520 L93 520.3 L92.9 520.5 L92.8 520.7Z" fill="url(#garr)" opacity="0.95"/>
<circle cx="102.5" cy="515.1" r="2.3" fill="#b87a80" opacity="0.7"/><circle cx="102.5" cy="515.1" r="1.3" fill="#1a0a0a"/>
<circle cx="104.1" cy="511.4" r="2.3" fill="#b87a80" opacity="0.7"/><circle cx="104.1" cy="511.4" r="1.3" fill="#1a0a0a"/>
<circle cx="106.5" cy="508.2" r="2.3" fill="#b87a80" opacity="0.7"/><circle cx="106.5" cy="508.2" r="1.3" fill="#1a0a0a"/>
<circle cx="108.7" cy="504.6" r="2.3" fill="#b87a80" opacity="0.7"/><circle cx="108.7" cy="504.6" r="1.3" fill="#1a0a0a"/>
<circle cx="122.5" cy="488.6" r="2.3" fill="#b87a80" opacity="0.7"/><circle cx="122.5" cy="488.6" r="1.3" fill="#1a0a0a"/>
<circle cx="124.1" cy="485.3" r="2.3" fill="#b87a80" opacity="0.7"/><circle cx="124.1" cy="485.3" r="1.3" fill="#1a0a0a"/>
<circle cx="135" cy="476.1" r="2.3" fill="#b87a80" opacity="0.7"/><circle cx="135" cy="476.1" r="1.3" fill="#1a0a0a"/>
<circle cx="141.4" cy="470.1" r="2.3" fill="#b87a80" opacity="0.7"/><circle cx="141.4" cy="470.1" r="1.3" fill="#1a0a0a"/>
<circle cx="148.4" cy="463.3" r="2.3" fill="#b87a80" opacity="0.7"/><circle cx="148.4" cy="463.3" r="1.3" fill="#1a0a0a"/>
<circle cx="164" cy="452.7" r="2.3" fill="#b87a80" opacity="0.7"/><circle cx="164" cy="452.7" r="1.3" fill="#1a0a0a"/>
<circle cx="174.1" cy="447.6" r="2.3" fill="#b87a80" opacity="0.7"/><circle cx="174.1" cy="447.6" r="1.3" fill="#1a0a0a"/>
<text x="146.70" y="422.84" font-size="16.34" textLength="36.16" lengthAdjust="spacingAndGlyphs">20%</text>
<text x="78.50" y="539.82" font-size="17.89" textLength="25.42" lengthAdjust="spacingAndGlyphs">0%</text>
<text transform="translate(104 483) rotate(-55)" font-size="16.5">S-Ag<tspan font-size="12" dy="3.2">6</tspan></text>
<path d="M353.8 318.2h3v2.8h-3zM355.6 318.5h3v2.8h-3zM357.3 319.1h3v2.8h-3zM359.1 320.5h3v2.8h-3zM360.8 321.7h3v2.8h-3zM362.6 322.1h3v2.8h-3zM364.3 322.7h3v2.8h-3zM366.1 323.3h3v2.8h-3zM367.8 325.1h3v2.8h-3zM369.6 326h3v2.8h-3zM371.3 326h3v2.8h-3zM373.1 327h3v2.8h-3zM374.8 327.4h3v2.8h-3zM376.6 328.4h3v2.8h-3zM378.3 329.8h3v2.8h-3zM380.1 330.7h3v2.8h-3zM381.8 330.2h3v2.8h-3zM383.6 332.4h3v2.8h-3zM385.3 333.6h3v2.8h-3zM387.1 334.6h3v2.8h-3zM388.8 334.8h3v2.8h-3zM390.6 335.7h3v2.8h-3zM392.3 336.7h3v2.8h-3zM394.1 337.4h3v2.8h-3zM395.8 338.1h3v2.8h-3zM397.6 338.7h3v2.8h-3zM399.3 339.3h3v2.8h-3zM401.1 340.7h3v2.8h-3zM402.8 342.9h3v2.8h-3zM404.6 342h3v2.8h-3zM406.3 344.4h3v2.8h-3zM408.1 344.4h3v2.8h-3zM409.8 346.1h3v2.8h-3zM411.6 345.9h3v2.8h-3zM413.3 347.4h3v2.8h-3zM415.1 347.4h3v2.8h-3zM416.8 345.9h3v2.8h-3zM418.6 349.3h3v2.8h-3zM420.3 349.4h3v2.8h-3zM422.1 352.2h3v2.8h-3zM423.8 352h3v2.8h-3zM425.6 352h3v2.8h-3zM427.3 353.5h3v2.8h-3zM429.1 354h3v2.8h-3zM430.8 354.9h3v2.8h-3zM432.6 357.1h3v2.8h-3zM434.3 356.2h3v2.8h-3zM436.1 358.5h3v2.8h-3zM437.8 356.5h3v2.8h-3zM439.6 359.8h3v2.8h-3zM441.3 359.3h3v2.8h-3zM443.1 361h3v2.8h-3zM444.8 360.5h3v2.8h-3zM446.6 363.3h3v2.8h-3zM448.3 362h3v2.8h-3zM450.1 364.2h3v2.8h-3zM451.8 363.3h3v2.8h-3zM453.6 364.8h3v2.8h-3zM455.3 366.4h3v2.8h-3zM457.1 368.5h3v2.8h-3zM458.8 367.1h3v2.8h-3zM460.6 368.1h3v2.8h-3zM462.3 367.4h3v2.8h-3zM464.1 371h3v2.8h-3zM465.8 370.6h3v2.8h-3zM467.6 371h3v2.8h-3zM469.3 372.4h3v2.8h-3zM471.1 373.4h3v2.8h-3zM472.8 373.9h3v2.8h-3zM474.6 376.2h3v2.8h-3zM476.3 378.2h3v2.8h-3zM478.1 377.5h3v2.8h-3zM479.8 376.2h3v2.8h-3zM481.6 379.6h3v2.8h-3zM483.3 377.5h3v2.8h-3zM485.1 382.9h3v2.8h-3zM486.8 384.8h3v2.8h-3zM488.6 371.9h3v2.8h-3zM490.3 384.8h3v2.8h-3zM492.1 378.9h3v2.8h-3zM493.8 387h3v2.8h-3zM495.6 387h3v2.8h-3zM497.3 385.9h3v2.8h-3zM499.1 375.6h3v2.8h-3zM500.8 389.6h3v2.8h-3zM502.6 378.9h3v2.8h-3zM504.3 387h3v2.8h-3zM506.1 384.8h3v2.8h-3zM507.8 391h3v2.8h-3zM509.6 383.8h3v2.8h-3zM511.3 388.3h3v2.8h-3zM513 389.6h3v2.8h-3zM514.8 401h3v2.8h-3zM516.5 392.6h3v2.8h-3zM518.3 392.6h3v2.8h-3zM520 394.3h3v2.8h-3zM521.8 382.9h3v2.8h-3zM523.5 396.3h3v2.8h-3zM525.3 389.6h3v2.8h-3zM527 404h3v2.8h-3zM528.8 391h3v2.8h-3zM530.5 401h3v2.8h-3zM532.3 392.6h3v2.8h-3zM534 419.2h3v2.8h-3zM535.8 396.3h3v2.8h-3zM537.5 389.6h3v2.8h-3zM539.3 404h3v2.8h-3zM541 391h3v2.8h-3zM542.8 394.3h3v2.8h-3zM544.5 401h3v2.8h-3zM546.3 407.7h3v2.8h-3zM548 407.7h3v2.8h-3zM549.8 398.5h3v2.8h-3zM551.5 401h3v2.8h-3zM553.3 392.6h3v2.8h-3zM555 407.7h3v2.8h-3zM556.8 407.7h3v2.8h-3zM558.5 404h3v2.8h-3zM560.3 407.7h3v2.8h-3zM562 392.6h3v2.8h-3zM563.8 404h3v2.8h-3zM565.5 398.5h3v2.8h-3zM567.3 412.5h3v2.8h-3zM569 401h3v2.8h-3zM570.8 412.5h3v2.8h-3zM572.5 407.7h3v2.8h-3zM574.3 398.5h3v2.8h-3zM576 392.6h3v2.8h-3zM577.8 391h3v2.8h-3zM579.5 404h3v2.8h-3zM581.3 412.5h3v2.8h-3zM583 407.7h3v2.8h-3zM584.8 412.5h3v2.8h-3zM586.5 419.2h3v2.8h-3zM588.3 407.7h3v2.8h-3zM590 412.5h3v2.8h-3zM591.8 398.5h3v2.8h-3zM593.5 412.5h3v2.8h-3zM595.3 396.3h3v2.8h-3zM598.8 404h3v2.8h-3zM600.5 419.2h3v2.8h-3zM602.3 401h3v2.8h-3zM604 430.6h3v2.8h-3zM605.8 407.7h3v2.8h-3zM607.5 412.5h3v2.8h-3zM609.3 398.5h3v2.8h-3zM611 407.7h3v2.8h-3zM612.8 412.5h3v2.8h-3zM614.5 404h3v2.8h-3zM616.3 404h3v2.8h-3zM618 407.7h3v2.8h-3zM621.5 404h3v2.8h-3zM623.3 407.7h3v2.8h-3zM625 412.5h3v2.8h-3zM626.8 404h3v2.8h-3zM628.5 430.6h3v2.8h-3zM630.3 404h3v2.8h-3zM632 430.6h3v2.8h-3zM633.8 430.6h3v2.8h-3zM635.5 412.5h3v2.8h-3zM637.3 401h3v2.8h-3zM640.8 401h3v2.8h-3zM642.5 412.5h3v2.8h-3zM644.3 404h3v2.8h-3zM646 404h3v2.8h-3zM647.8 396.3h3v2.8h-3zM649.5 430.6h3v2.8h-3zM651.3 404h3v2.8h-3zM653 419.2h3v2.8h-3zM654.8 396.3h3v2.8h-3zM656.5 407.7h3v2.8h-3zM658.3 407.7h3v2.8h-3zM660 430.6h3v2.8h-3zM661.8 398.5h3v2.8h-3zM663.5 430.6h3v2.8h-3zM665.3 419.2h3v2.8h-3zM667 412.5h3v2.8h-3zM668.8 407.7h3v2.8h-3zM670.5 404h3v2.8h-3zM672.3 394.3h3v2.8h-3zM674 401h3v2.8h-3zM675.8 407.7h3v2.8h-3zM677.5 412.5h3v2.8h-3zM679.3 412.5h3v2.8h-3z" fill="#4f5ac0"/>
<path d="M353.8 449h3v2.8h-3zM355.6 451.1h3v2.8h-3zM357.3 451.6h3v2.8h-3zM359.1 452.9h3v2.8h-3zM360.8 454.1h3v2.8h-3zM362.6 455.1h3v2.8h-3zM364.3 456.1h3v2.8h-3zM366.1 457h3v2.8h-3zM367.8 457.8h3v2.8h-3zM369.6 458.6h3v2.8h-3zM371.3 460h3v2.8h-3zM373.1 460.6h3v2.8h-3zM374.8 462h3v2.8h-3zM376.6 463.1h3v2.8h-3zM378.3 464.3h3v2.8h-3zM380.1 465.8h3v2.8h-3zM381.8 467.1h3v2.8h-3zM383.6 467.4h3v2.8h-3zM385.3 468.5h3v2.8h-3zM387.1 469.2h3v2.8h-3zM388.8 470.2h3v2.8h-3zM390.6 472.2h3v2.8h-3zM392.3 472.9h3v2.8h-3zM394.1 474.3h3v2.8h-3zM395.8 473.9h3v2.8h-3zM397.6 475.7h3v2.8h-3zM399.3 476.5h3v2.8h-3zM401.1 478.3h3v2.8h-3zM402.8 479.7h3v2.8h-3zM404.6 480.2h3v2.8h-3zM406.3 480.9h3v2.8h-3zM408.1 481.4h3v2.8h-3zM409.8 484.1h3v2.8h-3zM411.6 483.5h3v2.8h-3zM413.3 485.7h3v2.8h-3zM415.1 486.3h3v2.8h-3zM416.8 487.1h3v2.8h-3zM418.6 488.3h3v2.8h-3zM420.3 488.5h3v2.8h-3zM422.1 489h3v2.8h-3zM423.8 490.6h3v2.8h-3zM425.6 492.5h3v2.8h-3zM427.3 492.3h3v2.8h-3zM429.1 493.5h3v2.8h-3zM430.8 494h3v2.8h-3zM432.6 495.5h3v2.8h-3zM434.3 499.2h3v2.8h-3zM436.1 498.9h3v2.8h-3zM437.8 499.6h3v2.8h-3zM439.6 498.5h3v2.8h-3zM441.3 501h3v2.8h-3zM443.1 500.3h3v2.8h-3zM444.8 502.2h3v2.8h-3zM446.6 505.9h3v2.8h-3zM448.3 504.4h3v2.8h-3zM450.1 504.4h3v2.8h-3zM451.8 505.9h3v2.8h-3zM453.6 510.7h3v2.8h-3zM455.3 507.5h3v2.8h-3zM457.1 510.7h3v2.8h-3zM458.8 508.7h3v2.8h-3zM460.6 506.4h3v2.8h-3zM462.3 514.5h3v2.8h-3zM464.1 509.3h3v2.8h-3zM465.8 514.5h3v2.8h-3zM467.6 516.3h3v2.8h-3zM469.3 510h3v2.8h-3zM471.1 516.3h3v2.8h-3zM472.8 514.5h3v2.8h-3zM474.6 519.5h3v2.8h-3zM476.3 516.3h3v2.8h-3zM478.1 516.3h3v2.8h-3zM479.8 520.8h3v2.8h-3zM481.6 536.5h3v2.8h-3zM483.3 516.3h3v2.8h-3zM485.1 514.5h3v2.8h-3zM486.8 523.5h3v2.8h-3zM488.6 525.1h3v2.8h-3zM490.3 523.5h3v2.8h-3zM492.1 525.1h3v2.8h-3zM493.8 517.3h3v2.8h-3zM495.6 526.8h3v2.8h-3zM497.3 526.8h3v2.8h-3zM499.1 531h3v2.8h-3zM500.8 517.3h3v2.8h-3zM502.6 536.5h3v2.8h-3zM504.3 533.5h3v2.8h-3zM506.1 516.3h3v2.8h-3zM507.8 528.8h3v2.8h-3zM509.6 540.2h3v2.8h-3zM511.3 525.1h3v2.8h-3zM513 551.7h3v2.8h-3zM514.8 531h3v2.8h-3zM516.5 545h3v2.8h-3zM518.3 540.2h3v2.8h-3zM520 563.1h3v2.8h-3zM521.8 545h3v2.8h-3zM523.5 536.5h3v2.8h-3zM525.3 545h3v2.8h-3zM527 551.7h3v2.8h-3zM528.8 533.5h3v2.8h-3zM530.5 551.7h3v2.8h-3zM532.3 545h3v2.8h-3zM534 545h3v2.8h-3zM535.8 528.8h3v2.8h-3zM537.5 528.8h3v2.8h-3zM539.3 545h3v2.8h-3zM541 536.5h3v2.8h-3zM542.8 545h3v2.8h-3zM544.5 551.7h3v2.8h-3zM546.3 551.7h3v2.8h-3zM548 540.2h3v2.8h-3zM549.8 540.2h3v2.8h-3zM551.5 540.2h3v2.8h-3zM553.3 533.5h3v2.8h-3zM555 545h3v2.8h-3zM556.8 533.5h3v2.8h-3zM558.5 536.5h3v2.8h-3zM560.3 526.8h3v2.8h-3zM562 563.1h3v2.8h-3zM563.8 536.5h3v2.8h-3zM565.5 551.7h3v2.8h-3zM567.3 545h3v2.8h-3zM569 540.2h3v2.8h-3zM570.8 540.2h3v2.8h-3zM572.5 540.2h3v2.8h-3zM574.3 536.5h3v2.8h-3zM576 533.5h3v2.8h-3zM579.5 551.7h3v2.8h-3zM581.3 551.7h3v2.8h-3zM583 563.1h3v2.8h-3zM584.8 531h3v2.8h-3zM586.5 540.2h3v2.8h-3zM588.3 545h3v2.8h-3zM590 545h3v2.8h-3zM591.8 536.5h3v2.8h-3zM593.5 551.7h3v2.8h-3zM595.3 551.7h3v2.8h-3zM597 540.2h3v2.8h-3zM598.8 551.7h3v2.8h-3zM600.5 531h3v2.8h-3zM602.3 531h3v2.8h-3zM604 533.5h3v2.8h-3zM605.8 545h3v2.8h-3zM607.5 533.5h3v2.8h-3zM609.3 540.2h3v2.8h-3zM611 533.5h3v2.8h-3zM612.8 540.2h3v2.8h-3zM614.5 563.1h3v2.8h-3zM616.3 563.1h3v2.8h-3zM618 545h3v2.8h-3zM619.8 551.7h3v2.8h-3zM621.5 545h3v2.8h-3zM625 528.8h3v2.8h-3zM626.8 540.2h3v2.8h-3zM628.5 533.5h3v2.8h-3zM630.3 551.7h3v2.8h-3zM632 563.1h3v2.8h-3zM633.8 563.1h3v2.8h-3zM635.5 551.7h3v2.8h-3zM637.3 551.7h3v2.8h-3zM639 551.7h3v2.8h-3zM640.8 536.5h3v2.8h-3zM642.5 545h3v2.8h-3zM644.3 563.1h3v2.8h-3zM646 533.5h3v2.8h-3zM647.8 540.2h3v2.8h-3zM649.5 545h3v2.8h-3zM651.3 551.7h3v2.8h-3zM653 563.1h3v2.8h-3zM654.8 536.5h3v2.8h-3zM656.5 551.7h3v2.8h-3zM660 551.7h3v2.8h-3zM661.8 545h3v2.8h-3zM663.5 545h3v2.8h-3zM665.3 563.1h3v2.8h-3zM667 528.8h3v2.8h-3zM668.8 545h3v2.8h-3zM670.5 551.7h3v2.8h-3zM672.3 540.2h3v2.8h-3zM674 545h3v2.8h-3zM675.8 536.5h3v2.8h-3zM677.5 545h3v2.8h-3zM679.3 528.8h3v2.8h-3z" fill="#ef9a3e"/>
<rect x="354.6" y="309.4" width="327.2" height="263" fill="none" stroke="#000" stroke-width="2.3"/>
<line x1="354.6" y1="441.4" x2="681.8" y2="441.4" stroke="#000" stroke-width="2.2"/>
<path d="M379.6 572.4V576.9M414.2 572.4V576.9M448.7 572.4V576.9M483.3 572.4V576.9M517.8 572.4V576.9M552.4 572.4V576.9M587 572.4V576.9M621.5 572.4V576.9M656.1 572.4V576.9" stroke="#000" stroke-width="1.6"/>
<text x="373.94" y="596.81" font-size="18.59" font-weight="bold" textLength="11.35" lengthAdjust="spacingAndGlyphs">8</text>
<text x="402.98" y="596.81" font-size="18.59" font-weight="bold" textLength="21.91" lengthAdjust="spacingAndGlyphs">10</text>
<text x="437.54" y="597.00" font-size="18.86" font-weight="bold" textLength="21.91" lengthAdjust="spacingAndGlyphs">12</text>
<text x="472.14" y="597.00" font-size="19.13" font-weight="bold" textLength="21.18" lengthAdjust="spacingAndGlyphs">14</text>
<text x="506.67" y="596.81" font-size="18.59" font-weight="bold" textLength="21.81" lengthAdjust="spacingAndGlyphs">16</text>
<text x="541.23" y="596.81" font-size="18.59" font-weight="bold" textLength="21.70" lengthAdjust="spacingAndGlyphs">18</text>
<text x="576.39" y="596.81" font-size="18.59" font-weight="bold" textLength="21.28" lengthAdjust="spacingAndGlyphs">20</text>
<text x="610.95" y="597.00" font-size="18.86" font-weight="bold" textLength="21.28" lengthAdjust="spacingAndGlyphs">22</text>
<text x="645.53" y="597.00" font-size="18.86" font-weight="bold" textLength="20.58" lengthAdjust="spacingAndGlyphs">24</text>
<text x="471.19" y="616.99" font-size="21.50" font-weight="bold" textLength="93.60" lengthAdjust="spacingAndGlyphs">Time (ns)</text>
<text transform="translate(344.87 474.85) rotate(-90)" font-size="23.24" font-weight="bold" textLength="73.49" lengthAdjust="spacingAndGlyphs">Counts</text>
<text x="324.21" y="324.97" font-size="33.33" font-weight="bold" textLength="21.17" lengthAdjust="spacingAndGlyphs">d</text>
<text x="457.2" y="328.6" font-size="12" font-weight="bold" textLength="206.3" lengthAdjust="spacingAndGlyphs"><tspan font-style="italic">f</tspan> (mol%) of <tspan font-style="italic">S</tspan>-Ag<tspan font-size="8" dy="2.7">6</tspan><tspan dy="-2.7"> in BTA/</tspan><tspan font-style="italic">S</tspan>-phol</text>
<rect x="625.8" y="347.7" width="3" height="3.2" fill="#4f5ac0"/>
<text x="646.47" y="353.48" font-size="12.25" font-weight="bold" textLength="18.36" lengthAdjust="spacingAndGlyphs">0.1</text>
<text x="529.76" y="371.46" font-size="13.94" font-weight="bold" textLength="68.52" lengthAdjust="spacingAndGlyphs">τ = 1.94 ns</text>
<rect x="625.6" y="462.7" width="3" height="3.2" fill="#ef9a3e"/>
<text x="645.48" y="469.18" font-size="12.25" font-weight="bold" textLength="16.66" lengthAdjust="spacingAndGlyphs">20</text>
<text x="529.76" y="497.56" font-size="13.94" font-weight="bold" textLength="68.32" lengthAdjust="spacingAndGlyphs">τ = 1.60 ns</text>
<defs><filter id="glow" x="-50%" y="-50%" width="200%" height="200%"><feGaussianBlur stdDeviation="2.3"/></filter>
<linearGradient id="gbar" x1="44" y1="0" x2="672" y2="0" gradientUnits="userSpaceOnUse"><stop offset="0" stop-color="#2a10f8"/><stop offset="0.14" stop-color="#2a10f8"/><stop offset="0.2" stop-color="#5a2ef0"/><stop offset="0.26" stop-color="#b06a8a"/><stop offset="0.33" stop-color="#ee9438"/><stop offset="0.66" stop-color="#ef9438"/><stop offset="0.78" stop-color="#f65a3e"/><stop offset="0.86" stop-color="#f93640"/><stop offset="1" stop-color="#f9383c"/></linearGradient></defs>
<linearGradient id="w1" gradientUnits="userSpaceOnUse" x1="0" y1="659" x2="0" y2="726"><stop offset="0" stop-color="#6a6af6" stop-opacity="0"/><stop offset="1" stop-color="#6a6af6"/></linearGradient><path d="M88.2 659 L88.2 659.1 L88.5 659.5 L88.8 659.9 L89 660.3 L89.3 660.8 L89.5 661.2 L89.8 661.6 L90 662 L90.2 662.4 L90.5 662.8 L90.7 663.2 L90.9 663.7 L91.2 664.1 L91.4 664.5 L91.6 665 L91.8 665.4 L92.1 665.8 L92.3 666.3 L92.5 666.7 L92.7 667.2 L92.9 667.6 L93.2 668.1 L93.4 668.5 L93.6 669 L93.8 669.4 L94 669.9 L94.3 670.4 L94.5 670.8 L94.7 671.3 L94.9 671.8 L95.2 672.3 L95.4 672.7 L95.6 673.2 L95.9 673.7 L96.1 674.2 L96.4 674.6 L96.6 675.1 L96.9 675.6 L97.1 676.1 L97.4 676.6 L97.6 677.1 L97.9 677.6 L98.2 678 L98.4 678.5 L98.7 679 L99 679.5 L99.3 680 L99.6 680.5 L99.9 681 L100.2 681.5 L100.5 682 L100.9 682.5 L101.2 683 L101.5 683.6 L101.9 684.1 L102.2 684.6 L102.6 685.1 L102.9 685.7 L103.3 686.2 L103.6 686.7 L104 687.3 L104.4 687.8 L104.8 688.4 L105.1 688.9 L105.5 689.5 L105.9 690 L106.3 690.6 L106.6 691.1 L107 691.7 L107.4 692.2 L107.8 692.7 L108.2 693.3 L108.6 693.8 L109 694.4 L109.3 694.9 L109.7 695.4 L110.1 695.9 L110.5 696.5 L110.9 697 L111.2 697.5 L111.6 698 L112 698.5 L112.3 699 L112.7 699.5 L113.1 700 L113.4 700.5 L113.8 700.9 L114.1 701.4 L114.4 701.9 L114.8 702.3 L115.1 702.8 L115.4 703.2 L115.8 703.7 L116.1 704.1 L116.4 704.6 L116.7 705 L117.1 705.5 L117.4 705.9 L117.7 706.3 L118 706.8 L118.3 707.2 L118.7 707.6 L119 708.1 L119.3 708.5 L119.6 708.9 L119.9 709.3 L120.2 709.7 L120.5 710.1 L120.8 710.5 L121.1 710.9 L121.5 711.3 L121.8 711.7 L122.1 712.1 L122.4 712.5 L122.7 712.9 L123 713.3 L123.3 713.6 L123.6 714 L124 714.4 L124.3 714.7 L124.6 715.1 L124.9 715.4 L125.2 715.8 L125.6 716.1 L125.9 716.4 L126.2 716.8 L126.6 717.1 L126.9 717.4 L127.2 717.7 L127.6 718 L127.9 718.3 L128.3 718.6 L128.6 719 L129 719.3 L129.3 719.6 L129.7 719.9 L130 720.2 L130.4 720.5 L130.7 720.8 L131.1 721.1 L131.4 721.3 L131.8 721.6 L132.1 721.9 L132.5 722.2 L132.8 722.4 L133.2 722.7 L133.6 723 L133.9 723.2 L134.3 723.5 L134.6 723.7 L135 723.9 L135.4 724.1 L135.7 724.4 L136.1 724.6 L136.4 724.8 L136.8 725 L137.2 725.1 L137.5 725.3 L137.9 725.5 L138.2 725.6 L138.6 725.8 L138.9 725.9 L139.3 726 L139.6 726.2 L140 726.3 L140.3 726.4 L140.7 726.4 L141 726.5 L141.3 726.6 L141.7 726.6 L142 726.6 L142.4 726.7 L142.7 726.7 L143 726.7 L143.4 726.7 L143.7 726.7 L144.1 726.7 L144.4 726.6 L144.7 726.6 L145.1 726.5 L145.4 726.5 L145.8 726.4 L146.1 726.4 L146.4 726.3 L146.8 726.2 L147.1 726.1 L147.4 726 L147.8 725.9 L148.1 725.8 L148.4 725.6 L148.8 725.5 L149.1 725.4 L149.4 725.2 L149.8 725.1 L150.1 724.9 L150.4 724.7 L150.7 724.6 L151.1 724.4 L151.4 724.2 L151.7 724 L152 723.8 L152.3 723.6 L152.6 723.4 L153 723.2 L153.3 723 L153.6 722.8 L153.9 722.5 L154.2 722.3 L154.5 722.1 L154.8 721.8 L155.1 721.6 L155.4 721.3 L155.7 721 L156 720.8 L156.3 720.5 L156.6 720.2 L156.8 719.9 L157.1 719.6 L157.4 719.3 L157.7 719 L158 718.6 L158.2 718.3 L158.5 718 L158.8 717.6 L159.1 717.3 L159.3 716.9 L159.6 716.6 L159.9 716.2 L160.1 715.8 L160.4 715.4 L160.7 715.1 L161 714.7 L161.2 714.3 L161.5 713.9 L161.8 713.5 L162.1 713.1 L162.3 712.6 L162.6 712.2 L162.9 711.8 L163.2 711.4 L163.5 710.9 L163.7 710.5 L164 710.1 L164.3 709.6 L164.6 709.2 L164.9 708.7 L165.2 708.3 L165.5 707.8 L165.8 707.3 L166.1 706.8 L166.4 706.3 L166.7 705.8 L167 705.3 L167.4 704.8 L167.7 704.2 L168 703.6 L168.3 703.1 L168.7 702.5 L169 701.9 L169.3 701.3 L169.7 700.7 L170 700.1 L170.3 699.5 L170.7 698.8 L171 698.2 L171.3 697.6 L171.7 697 L172 696.3 L172.3 695.7 L172.7 695.1 L173 694.5 L173.3 693.9 L173.7 693.3 L174 692.7 L174.3 692.1 L174.6 691.5 L175 690.9 L175.3 690.3 L175.6 689.8 L175.9 689.2 L176.2 688.7 L176.5 688.1 L176.8 687.6 L177.1 687.1 L177.4 686.6 L177.7 686.2 L178 685.7 L178.3 685.3 L178.6 684.9 L178.9 684.5 L179.1 684.1 L179.4 683.7 L179.6 683.3 L179.9 683 L180.2 682.6 L180.4 682.3 L180.6 682 L180.9 681.6 L181.1 681.3 L181.4 681 L181.6 680.7 L181.8 680.4 L182.1 680.1 L182.3 679.9 L182.5 679.6 L182.7 679.3 L183 679.1 L183.2 678.8 L183.4 678.5 L183.7 678.3 L183.9 678.1 L184.1 677.8 L184.3 677.6 L184.6 677.3 L184.8 677.1 L185 676.9 L185.3 676.6 L185.5 676.4 L185.7 676.2 L186 676 L186.2 675.7 L186.5 675.5 L186.7 675.3 L187 675 L187.2 674.8 L187.5 674.6 L187.7 674.3 L188 674.1 L188.3 673.9 L188.5 673.6 L188.8 673.4 L189.1 673.1 L189.3 672.9 L189.6 672.7 L189.9 672.4 L190.2 672.2 L190.4 672 L190.7 671.8 L191 671.5 L191.2 671.3 L191.5 671.1 L191.8 670.9 L192.1 670.7 L192.3 670.4 L192.6 670.2 L192.9 670 L193.2 669.8 L193.5 669.6 L193.8 669.4 L194 669.2 L194.3 669 L194.6 668.8 L194.9 668.6 L195.2 668.4 L195.6 668.2 L195.9 668 L196.2 667.8 L196.5 667.7 L196.8 667.5 L197.2 667.3 L197.5 667.1 L197.8 667 L198.2 666.8 L198.5 666.6 L198.9 666.5 L199.3 666.3 L199.6 666.2 L200 666 L200.4 665.9 L200.8 665.7 L201.2 665.6 L201.7 665.4 L202.1 665.3 L202.6 665.1 L203.1 665 L203.5 664.9 L204.1 664.7 L204.6 664.6 L205.1 664.5 L205.6 664.4 L206.1 664.3 L206.7 664.1 L207.2 664 L207.7 663.9 L208.3 663.8 L208.8 663.7 L209.4 663.6 L209.9 663.5 L210.4 663.4 L211 663.3 L211.5 663.2 L212 663.1 L212.5 663 L213 662.9 L213.5 662.9 L214 662.8 L214.4 662.7 L214.9 662.6 L215.3 662.5 L215.7 662.5 L216.1 662.4 L216.5 662.3 L216.8 662.3 L217.2 662.2 L217.5 662.2 L217.8 662.1 L218.1 662.1 L218.3 662 L218.3 659Z" fill="url(#w1)"/>
<linearGradient id="w2" gradientUnits="userSpaceOnUse" x1="0" y1="822" x2="0" y2="893"><stop offset="0" stop-color="#6a6af6" stop-opacity="0"/><stop offset="1" stop-color="#6a6af6"/></linearGradient><path d="M49.6 822 L49.6 822.9 L50.4 823.9 L51.2 825 L52 826.1 L52.9 827.2 L53.7 828.3 L54.6 829.4 L55.5 830.6 L56.4 831.8 L57.3 832.9 L58.2 834.1 L59.1 835.3 L60.1 836.5 L61 837.6 L61.9 838.8 L62.8 840 L63.7 841.1 L64.6 842.3 L65.6 843.4 L66.4 844.5 L67.3 845.6 L68.2 846.7 L69.1 847.8 L69.9 848.8 L70.7 849.8 L71.5 850.7 L72.3 851.7 L73.1 852.6 L73.8 853.4 L74.5 854.2 L75.2 855 L76 855.8 L76.7 856.6 L77.4 857.4 L78.1 858.2 L78.8 859 L79.5 859.7 L80.2 860.5 L80.9 861.2 L81.6 862 L82.3 862.7 L83 863.4 L83.7 864.1 L84.4 864.8 L85.1 865.5 L85.8 866.2 L86.5 866.9 L87.2 867.6 L87.8 868.2 L88.5 868.9 L89.2 869.5 L89.8 870.2 L90.5 870.8 L91.1 871.4 L91.8 872 L92.4 872.6 L93 873.2 L93.6 873.8 L94.3 874.4 L94.9 874.9 L95.5 875.5 L96.1 876.1 L96.7 876.6 L97.3 877.1 L97.8 877.7 L98.4 878.2 L99 878.7 L99.5 879.2 L100.1 879.7 L100.6 880.2 L101.2 880.7 L101.7 881.2 L102.2 881.7 L102.7 882.1 L103.1 882.6 L103.6 883.1 L104.1 883.6 L104.5 884.1 L105 884.5 L105.4 885 L105.8 885.4 L106.2 885.9 L106.6 886.3 L107 886.7 L107.5 887.1 L107.8 887.6 L108.2 888 L108.6 888.3 L109 888.7 L109.4 889.1 L109.8 889.4 L110.2 889.8 L110.6 890.1 L111 890.4 L111.4 890.7 L111.8 891 L112.2 891.2 L112.6 891.5 L113 891.7 L113.4 891.9 L113.9 892.1 L114.3 892.2 L114.7 892.4 L115.2 892.5 L115.7 892.6 L116.1 892.7 L116.6 892.8 L117.1 892.8 L117.6 892.8 L118.1 892.8 L118.6 892.7 L119.2 892.7 L119.7 892.6 L120.3 892.5 L120.8 892.4 L121.4 892.2 L122 892 L122.6 891.8 L123.2 891.6 L123.8 891.4 L124.4 891.1 L125 890.8 L125.6 890.6 L126.2 890.3 L126.8 889.9 L127.4 889.6 L128.1 889.3 L128.7 888.9 L129.3 888.5 L129.9 888.1 L130.5 887.7 L131.2 887.3 L131.8 886.9 L132.4 886.5 L133 886.1 L133.6 885.6 L134.2 885.2 L134.8 884.8 L135.4 884.3 L136 883.9 L136.6 883.4 L137.2 882.9 L137.8 882.5 L138.3 882 L138.9 881.5 L139.4 881.1 L140 880.6 L140.5 880.2 L141 879.7 L141.5 879.2 L142 878.8 L142.5 878.3 L143 877.7 L143.5 877.2 L143.9 876.7 L144.4 876.1 L144.9 875.6 L145.3 875 L145.8 874.4 L146.2 873.8 L146.7 873.2 L147.1 872.6 L147.6 872 L148 871.3 L148.4 870.7 L148.9 870.1 L149.3 869.4 L149.7 868.8 L150.1 868.1 L150.5 867.5 L151 866.9 L151.4 866.2 L151.8 865.6 L152.2 864.9 L152.6 864.3 L153 863.7 L153.4 863.1 L153.8 862.5 L154.3 861.9 L154.7 861.3 L155.1 860.7 L155.5 860.1 L155.9 859.5 L156.4 859 L156.8 858.4 L157.2 857.9 L157.6 857.4 L158.1 856.9 L158.5 856.4 L158.9 855.9 L159.4 855.5 L159.8 855 L160.2 854.6 L160.6 854.1 L161.1 853.7 L161.5 853.3 L161.9 852.9 L162.3 852.4 L162.7 852 L163.2 851.6 L163.6 851.2 L164 850.9 L164.4 850.5 L164.8 850.1 L165.2 849.7 L165.6 849.4 L166.1 849 L166.5 848.6 L166.9 848.3 L167.3 847.9 L167.7 847.6 L168.2 847.3 L168.6 846.9 L169 846.6 L169.4 846.2 L169.9 845.9 L170.3 845.6 L170.8 845.3 L171.2 844.9 L171.7 844.6 L172.1 844.3 L172.6 844 L173.1 843.7 L173.5 843.4 L174 843 L174.5 842.7 L175 842.4 L175.5 842.1 L176 841.8 L176.5 841.5 L177 841.2 L177.6 840.9 L178.1 840.6 L178.7 840.3 L179.2 840 L179.8 839.7 L180.4 839.4 L180.9 839.1 L181.5 838.8 L182.1 838.5 L182.7 838.2 L183.3 837.9 L183.9 837.6 L184.5 837.3 L185.1 837.1 L185.7 836.8 L186.3 836.5 L186.9 836.2 L187.6 836 L188.2 835.7 L188.8 835.5 L189.4 835.2 L190 834.9 L190.6 834.7 L191.2 834.5 L191.8 834.2 L192.4 834 L193 833.7 L193.6 833.5 L194.2 833.3 L194.8 833.1 L195.4 832.9 L196 832.7 L196.6 832.4 L197.1 832.2 L197.7 832.1 L198.2 831.9 L198.8 831.7 L199.3 831.5 L199.8 831.3 L200.4 831.2 L200.9 831 L201.5 830.8 L202 830.7 L202.6 830.5 L203.1 830.4 L203.7 830.3 L204.2 830.1 L204.8 830 L205.4 829.9 L205.9 829.8 L206.5 829.6 L207 829.5 L207.6 829.4 L208.1 829.3 L208.7 829.2 L209.2 829.1 L209.7 829 L210.3 829 L210.8 828.9 L211.3 828.8 L211.8 828.7 L212.3 828.6 L212.8 828.6 L213.2 828.5 L213.7 828.4 L214.1 828.4 L214.6 828.3 L215 828.2 L215.4 828.2 L215.8 828.1 L216.2 828.1 L216.5 828 L216.9 827.9 L217.2 827.9 L217.5 827.8 L217.8 827.8 L218.1 827.7 L218.3 827.7 L218.3 822Z" fill="url(#w2)"/>
<linearGradient id="w3" gradientUnits="userSpaceOnUse" x1="0" y1="684" x2="0" y2="741"><stop offset="0" stop-color="#eba060" stop-opacity="0"/><stop offset="1" stop-color="#eba060"/></linearGradient><path d="M253.4 684 L253.4 684.4 L253.9 685.2 L254.5 686.1 L255 687 L255.6 687.9 L256.1 688.8 L256.7 689.8 L257.3 690.7 L257.9 691.7 L258.5 692.6 L259.1 693.6 L259.6 694.6 L260.2 695.5 L260.8 696.5 L261.4 697.4 L262 698.4 L262.6 699.3 L263.1 700.3 L263.7 701.2 L264.3 702.1 L264.8 703 L265.4 703.8 L265.9 704.7 L266.4 705.5 L266.9 706.3 L267.4 707 L267.8 707.8 L268.3 708.5 L268.7 709.2 L269.2 709.9 L269.6 710.6 L270 711.2 L270.4 711.9 L270.9 712.6 L271.3 713.2 L271.7 713.9 L272.1 714.6 L272.5 715.2 L272.9 715.9 L273.3 716.5 L273.7 717.1 L274.1 717.7 L274.4 718.4 L274.8 719 L275.2 719.6 L275.6 720.2 L276 720.8 L276.3 721.4 L276.7 721.9 L277.1 722.5 L277.4 723.1 L277.8 723.6 L278.2 724.2 L278.5 724.7 L278.9 725.2 L279.2 725.8 L279.6 726.3 L279.9 726.8 L280.3 727.3 L280.7 727.8 L281 728.2 L281.4 728.7 L281.7 729.2 L282.1 729.6 L282.4 730 L282.8 730.5 L283.1 730.9 L283.5 731.3 L283.9 731.7 L284.2 732.1 L284.6 732.5 L284.9 732.9 L285.3 733.2 L285.6 733.6 L285.9 733.9 L286.3 734.3 L286.6 734.6 L287 734.9 L287.3 735.3 L287.6 735.6 L288 735.9 L288.3 736.2 L288.6 736.5 L289 736.7 L289.3 737 L289.6 737.3 L289.9 737.5 L290.3 737.8 L290.6 738 L290.9 738.2 L291.3 738.5 L291.6 738.7 L291.9 738.9 L292.2 739.1 L292.6 739.2 L292.9 739.4 L293.2 739.6 L293.5 739.7 L293.9 739.9 L294.2 740 L294.5 740.1 L294.8 740.2 L295.2 740.3 L295.5 740.4 L295.8 740.5 L296.1 740.6 L296.5 740.6 L296.8 740.7 L297.1 740.7 L297.5 740.8 L297.8 740.8 L298.1 740.8 L298.4 740.9 L298.7 740.9 L299 740.9 L299.4 740.9 L299.7 740.8 L300 740.8 L300.3 740.8 L300.6 740.8 L300.9 740.7 L301.2 740.6 L301.5 740.6 L301.8 740.5 L302.1 740.4 L302.4 740.3 L302.7 740.2 L303 740.1 L303.4 740 L303.7 739.8 L304 739.7 L304.3 739.5 L304.6 739.3 L305 739.1 L305.3 738.9 L305.6 738.7 L306 738.5 L306.3 738.2 L306.6 738 L307 737.7 L307.3 737.4 L307.7 737.1 L308.1 736.8 L308.4 736.5 L308.8 736.1 L309.2 735.8 L309.6 735.4 L310 735 L310.4 734.6 L310.8 734.1 L311.2 733.6 L311.7 733.1 L312.1 732.6 L312.6 732 L313 731.4 L313.5 730.8 L314 730.2 L314.4 729.5 L314.9 728.9 L315.4 728.2 L315.9 727.5 L316.4 726.7 L316.9 726 L317.4 725.3 L317.9 724.5 L318.4 723.8 L318.9 723 L319.4 722.2 L319.9 721.5 L320.4 720.7 L320.9 719.9 L321.4 719.1 L321.9 718.4 L322.4 717.6 L322.9 716.9 L323.4 716.1 L323.9 715.4 L324.4 714.7 L324.9 714 L325.4 713.3 L325.8 712.6 L326.3 712 L326.8 711.3 L327.2 710.7 L327.7 710.1 L328.1 709.6 L328.6 709 L329 708.5 L329.4 708 L329.8 707.5 L330.3 707.1 L330.7 706.6 L331.1 706.2 L331.5 705.7 L331.8 705.3 L332.2 704.9 L332.6 704.5 L333 704.1 L333.4 703.7 L333.7 703.3 L334.1 703 L334.5 702.6 L334.8 702.3 L335.2 701.9 L335.6 701.6 L335.9 701.3 L336.3 700.9 L336.6 700.6 L337 700.3 L337.4 700 L337.7 699.7 L338.1 699.4 L338.4 699.1 L338.8 698.8 L339.2 698.6 L339.5 698.3 L339.9 698 L340.3 697.8 L340.6 697.5 L341 697.2 L341.4 697 L341.8 696.7 L342.2 696.5 L342.6 696.2 L343 696 L343.4 695.7 L343.8 695.5 L344.2 695.2 L344.6 695 L345.1 694.7 L345.5 694.5 L346 694.2 L346.5 694 L347 693.8 L347.4 693.5 L348 693.3 L348.5 693.1 L349 692.9 L349.5 692.7 L350 692.5 L350.6 692.3 L351.1 692.1 L351.6 691.9 L352.2 691.7 L352.7 691.5 L353.2 691.3 L353.8 691.1 L354.3 691 L354.8 690.8 L355.3 690.6 L355.8 690.5 L356.3 690.3 L356.8 690.2 L357.3 690 L357.8 689.9 L358.3 689.7 L358.7 689.6 L359.1 689.5 L359.6 689.3 L360 689.2 L360.3 689.1 L360.7 689 L361.1 688.9 L361.4 688.8 L361.7 688.7 L362 688.6 L362.3 688.5 L362.5 688.4 L362.5 684Z" fill="url(#w3)"/>
<linearGradient id="w4" gradientUnits="userSpaceOnUse" x1="0" y1="712" x2="0" y2="758"><stop offset="0" stop-color="#eba060" stop-opacity="0"/><stop offset="1" stop-color="#eba060"/></linearGradient><path d="M385.3 712 L385.3 712.5 L385.7 713.2 L386.1 713.9 L386.6 714.6 L387.1 715.4 L387.5 716.1 L388 716.9 L388.5 717.6 L389 718.4 L389.4 719.1 L389.9 719.9 L390.4 720.7 L390.9 721.5 L391.4 722.2 L391.9 723 L392.4 723.7 L392.8 724.5 L393.3 725.2 L393.8 726 L394.3 726.7 L394.7 727.4 L395.2 728.1 L395.6 728.8 L396.1 729.4 L396.5 730.1 L396.9 730.7 L397.3 731.3 L397.7 731.9 L398.1 732.5 L398.5 733.1 L398.9 733.7 L399.3 734.3 L399.7 734.9 L400.1 735.5 L400.5 736.1 L400.9 736.6 L401.3 737.2 L401.7 737.8 L402.1 738.4 L402.5 739 L402.9 739.6 L403.3 740.2 L403.7 740.7 L404.1 741.3 L404.4 741.9 L404.8 742.4 L405.2 743 L405.6 743.5 L406 744.1 L406.4 744.6 L406.8 745.1 L407.1 745.6 L407.5 746.2 L407.9 746.7 L408.3 747.1 L408.6 747.6 L409 748.1 L409.4 748.5 L409.7 749 L410.1 749.4 L410.4 749.9 L410.8 750.3 L411.1 750.7 L411.5 751 L411.8 751.4 L412.2 751.8 L412.5 752.1 L412.8 752.4 L413.2 752.7 L413.5 753.1 L413.8 753.4 L414.1 753.6 L414.4 753.9 L414.7 754.2 L415 754.5 L415.2 754.7 L415.5 755 L415.8 755.2 L416.1 755.4 L416.4 755.7 L416.6 755.9 L416.9 756.1 L417.2 756.3 L417.4 756.4 L417.7 756.6 L417.9 756.8 L418.2 756.9 L418.5 757.1 L418.7 757.2 L419 757.3 L419.3 757.4 L419.5 757.5 L419.8 757.6 L420.1 757.7 L420.3 757.8 L420.6 757.8 L420.9 757.9 L421.2 757.9 L421.5 758 L421.8 758 L422.1 758 L422.4 758 L422.7 758 L423 757.9 L423.3 757.9 L423.7 757.9 L424 757.8 L424.3 757.7 L424.7 757.6 L425.1 757.6 L425.4 757.4 L425.8 757.3 L426.1 757.2 L426.5 757 L426.9 756.9 L427.3 756.7 L427.6 756.5 L428 756.4 L428.4 756.2 L428.8 755.9 L429.2 755.7 L429.6 755.5 L430 755.3 L430.4 755 L430.8 754.7 L431.2 754.5 L431.6 754.2 L432 753.9 L432.4 753.6 L432.8 753.3 L433.2 753 L433.7 752.7 L434.1 752.3 L434.5 752 L434.9 751.7 L435.3 751.3 L435.8 750.9 L436.2 750.6 L436.6 750.2 L437 749.8 L437.4 749.4 L437.9 749 L438.3 748.6 L438.7 748.2 L439.1 747.8 L439.6 747.4 L440 747 L440.4 746.6 L440.9 746.1 L441.3 745.6 L441.7 745.1 L442.2 744.6 L442.6 744.1 L443.1 743.5 L443.6 742.9 L444 742.3 L444.5 741.7 L445 741.1 L445.4 740.5 L445.9 739.9 L446.4 739.2 L446.9 738.6 L447.3 737.9 L447.8 737.3 L448.3 736.6 L448.8 735.9 L449.2 735.3 L449.7 734.6 L450.2 733.9 L450.7 733.3 L451.1 732.6 L451.6 732 L452.1 731.4 L452.5 730.7 L453 730.1 L453.4 729.5 L453.9 728.9 L454.3 728.3 L454.8 727.8 L455.2 727.2 L455.6 726.7 L456 726.2 L456.4 725.7 L456.8 725.2 L457.2 724.8 L457.6 724.4 L458 724 L458.4 723.6 L458.7 723.3 L459.1 723 L459.4 722.6 L459.8 722.3 L460.1 722 L460.5 721.8 L460.8 721.5 L461.1 721.3 L461.4 721 L461.7 720.8 L462 720.6 L462.3 720.4 L462.6 720.2 L462.9 720 L463.2 719.9 L463.5 719.7 L463.8 719.5 L464.1 719.4 L464.4 719.3 L464.7 719.1 L464.9 719 L465.2 718.9 L465.5 718.8 L465.8 718.6 L466 718.5 L466.3 718.4 L466.6 718.3 L466.9 718.2 L467.1 718.1 L467.4 718 L467.7 717.9 L468 717.8 L468.3 717.7 L468.5 717.6 L468.8 717.5 L469.1 717.4 L469.4 717.2 L469.7 717.1 L470 717 L470.3 716.9 L470.6 716.8 L470.9 716.6 L471.2 716.5 L471.6 716.4 L471.9 716.3 L472.2 716.2 L472.6 716.1 L472.9 716 L473.3 715.9 L473.6 715.8 L474 715.7 L474.3 715.6 L474.6 715.5 L475 715.4 L475.3 715.3 L475.7 715.2 L476 715.1 L476.4 715 L476.7 715 L477 714.9 L477.4 714.8 L477.7 714.7 L478 714.7 L478.3 714.6 L478.6 714.5 L478.9 714.5 L479.2 714.4 L479.5 714.3 L479.8 714.3 L480 714.2 L480.3 714.2 L480.5 714.1 L480.8 714.1 L481 714 L481.2 714 L481.4 713.9 L481.6 713.9 L481.7 713.8 L481.9 713.8 L481.9 712Z" fill="url(#w4)"/>
<linearGradient id="w5" gradientUnits="userSpaceOnUse" x1="0" y1="822" x2="0" y2="893"><stop offset="0" stop-color="#eba060" stop-opacity="0"/><stop offset="1" stop-color="#eba060"/></linearGradient><path d="M260.8 822 L260.8 822.7 L261.8 823.6 L262.8 824.6 L263.9 825.6 L264.9 826.6 L266 827.6 L267.1 828.6 L268.2 829.7 L269.3 830.7 L270.5 831.8 L271.6 832.9 L272.7 833.9 L273.9 835 L275 836.1 L276.2 837.1 L277.3 838.2 L278.4 839.3 L279.6 840.3 L280.7 841.4 L281.8 842.4 L282.9 843.4 L284 844.4 L285 845.4 L286.1 846.4 L287.1 847.3 L288.1 848.2 L289.1 849.1 L290 850 L290.9 850.9 L291.9 851.7 L292.8 852.6 L293.7 853.5 L294.6 854.3 L295.6 855.2 L296.5 856.1 L297.4 857 L298.3 857.9 L299.2 858.7 L300.2 859.6 L301.1 860.5 L302 861.4 L302.9 862.2 L303.8 863.1 L304.7 864 L305.6 864.8 L306.5 865.7 L307.4 866.6 L308.3 867.4 L309.2 868.2 L310.1 869.1 L310.9 869.9 L311.8 870.7 L312.7 871.5 L313.6 872.3 L314.4 873 L315.3 873.8 L316.1 874.5 L317 875.3 L317.8 876 L318.6 876.7 L319.4 877.3 L320.3 878 L321.1 878.7 L321.9 879.3 L322.7 879.9 L323.4 880.5 L324.2 881.1 L325 881.6 L325.8 882.1 L326.5 882.6 L327.3 883.1 L328 883.6 L328.7 884.1 L329.4 884.6 L330.1 885 L330.8 885.4 L331.5 885.9 L332.2 886.3 L332.9 886.7 L333.6 887.1 L334.2 887.4 L334.9 887.8 L335.5 888.1 L336.2 888.5 L336.8 888.8 L337.5 889.1 L338.1 889.4 L338.7 889.7 L339.4 889.9 L340 890.2 L340.6 890.4 L341.3 890.7 L341.9 890.9 L342.5 891.1 L343.1 891.3 L343.8 891.5 L344.4 891.6 L345 891.8 L345.6 892 L346.3 892.1 L346.9 892.2 L347.5 892.3 L348.2 892.4 L348.8 892.5 L349.4 892.6 L350.1 892.7 L350.7 892.8 L351.4 892.8 L352.1 892.8 L352.7 892.9 L353.4 892.9 L354 892.9 L354.7 892.9 L355.3 892.8 L356 892.8 L356.6 892.7 L357.3 892.7 L357.9 892.6 L358.6 892.5 L359.2 892.4 L359.9 892.3 L360.5 892.2 L361.2 892 L361.8 891.9 L362.5 891.7 L363.1 891.6 L363.8 891.4 L364.4 891.2 L365.1 891 L365.8 890.8 L366.4 890.5 L367.1 890.3 L367.7 890 L368.4 889.8 L369 889.5 L369.7 889.2 L370.3 888.9 L371 888.6 L371.7 888.3 L372.3 888 L373 887.7 L373.7 887.3 L374.3 887 L375 886.6 L375.7 886.3 L376.3 885.9 L377 885.5 L377.7 885.1 L378.4 884.7 L379.1 884.2 L379.8 883.8 L380.4 883.3 L381.1 882.8 L381.8 882.3 L382.5 881.7 L383.2 881.2 L384 880.6 L384.7 880 L385.4 879.4 L386.1 878.8 L386.8 878.1 L387.5 877.5 L388.2 876.8 L388.9 876.2 L389.7 875.5 L390.4 874.8 L391.1 874.1 L391.8 873.5 L392.5 872.8 L393.2 872.1 L394 871.4 L394.7 870.7 L395.4 870 L396.1 869.3 L396.8 868.6 L397.5 868 L398.2 867.3 L398.9 866.6 L399.6 866 L400.3 865.3 L401 864.7 L401.7 864.1 L402.4 863.4 L403 862.8 L403.7 862.3 L404.4 861.7 L405 861.1 L405.7 860.6 L406.4 860.1 L407 859.6 L407.6 859 L408.3 858.5 L408.9 858 L409.5 857.5 L410.1 857 L410.7 856.6 L411.3 856.1 L411.9 855.6 L412.5 855.1 L413.1 854.6 L413.7 854.2 L414.3 853.7 L414.9 853.2 L415.5 852.8 L416.1 852.3 L416.7 851.9 L417.3 851.5 L417.8 851 L418.4 850.6 L419 850.2 L419.6 849.7 L420.2 849.3 L420.8 848.9 L421.4 848.5 L422 848.1 L422.6 847.7 L423.2 847.3 L423.8 846.9 L424.4 846.5 L425 846.1 L425.6 845.7 L426.3 845.3 L426.9 844.9 L427.6 844.6 L428.2 844.2 L428.9 843.8 L429.5 843.5 L430.2 843.1 L430.9 842.7 L431.6 842.4 L432.3 842 L433 841.7 L433.7 841.4 L434.4 841 L435.1 840.7 L435.9 840.4 L436.6 840 L437.3 839.7 L438.1 839.4 L438.8 839.1 L439.6 838.8 L440.4 838.5 L441.1 838.2 L441.9 837.9 L442.6 837.6 L443.4 837.3 L444.2 837 L445 836.7 L445.7 836.4 L446.5 836.2 L447.3 835.9 L448 835.6 L448.8 835.4 L449.6 835.1 L450.3 834.9 L451.1 834.6 L451.9 834.4 L452.6 834.1 L453.4 833.9 L454.1 833.6 L454.9 833.4 L455.6 833.2 L456.4 833 L457.1 832.7 L457.8 832.5 L458.6 832.3 L459.3 832.1 L460 831.9 L460.7 831.7 L461.4 831.5 L462.2 831.3 L462.9 831.1 L463.7 830.9 L464.4 830.8 L465.2 830.6 L466 830.4 L466.8 830.2 L467.6 830.1 L468.3 829.9 L469.1 829.8 L469.9 829.6 L470.7 829.5 L471.5 829.3 L472.3 829.2 L473 829 L473.8 828.9 L474.6 828.8 L475.3 828.6 L476.1 828.5 L476.8 828.4 L477.5 828.3 L478.2 828.2 L478.9 828.1 L479.6 828 L480.3 827.9 L480.9 827.8 L481.5 827.7 L482.1 827.6 L482.7 827.5 L483.3 827.4 L483.8 827.3 L484.4 827.2 L484.8 827.2 L485.3 827.1 L485.8 827 L486.2 826.9 L486.5 826.9 L486.9 826.8 L486.9 822Z" fill="url(#w5)"/>
<linearGradient id="w6" gradientUnits="userSpaceOnUse" x1="0" y1="729" x2="0" y2="799"><stop offset="0" stop-color="#ef5868" stop-opacity="0"/><stop offset="1" stop-color="#ef5868"/></linearGradient><path d="M519.4 729 L519.4 729.8 L520 730.7 L520.6 731.6 L521.3 732.5 L522 733.5 L522.7 734.5 L523.4 735.6 L524.1 736.6 L524.9 737.7 L525.6 738.8 L526.4 739.9 L527.2 741.1 L528 742.2 L528.8 743.4 L529.6 744.6 L530.4 745.8 L531.2 746.9 L532 748.1 L532.8 749.3 L533.7 750.4 L534.5 751.6 L535.3 752.7 L536.1 753.9 L536.8 755 L537.6 756.1 L538.4 757.1 L539.1 758.2 L539.8 759.2 L540.5 760.2 L541.2 761.1 L541.9 762 L542.5 762.9 L543.1 763.7 L543.7 764.5 L544.3 765.3 L544.8 766 L545.4 766.7 L545.9 767.4 L546.4 768.1 L546.9 768.8 L547.4 769.4 L547.9 770.1 L548.4 770.7 L548.9 771.4 L549.4 772 L549.8 772.6 L550.3 773.1 L550.8 773.7 L551.2 774.3 L551.6 774.8 L552.1 775.4 L552.5 775.9 L552.9 776.4 L553.4 776.9 L553.8 777.4 L554.2 777.9 L554.6 778.4 L555 778.9 L555.4 779.4 L555.9 779.9 L556.3 780.3 L556.7 780.8 L557.1 781.2 L557.5 781.7 L557.9 782.1 L558.3 782.6 L558.7 783 L559.1 783.4 L559.5 783.9 L559.9 784.3 L560.3 784.7 L560.8 785.1 L561.2 785.6 L561.6 786 L562 786.4 L562.4 786.8 L562.9 787.3 L563.3 787.7 L563.7 788.1 L564.1 788.5 L564.5 789 L564.9 789.4 L565.3 789.8 L565.8 790.2 L566.2 790.6 L566.6 791 L567 791.4 L567.4 791.8 L567.8 792.1 L568.2 792.5 L568.6 792.9 L569 793.2 L569.4 793.6 L569.8 793.9 L570.2 794.3 L570.6 794.6 L571 794.9 L571.3 795.2 L571.7 795.5 L572.1 795.8 L572.5 796.1 L572.9 796.4 L573.3 796.6 L573.7 796.9 L574.1 797.1 L574.5 797.3 L574.9 797.5 L575.3 797.7 L575.7 797.9 L576.1 798 L576.5 798.2 L576.9 798.3 L577.3 798.4 L577.7 798.5 L578.1 798.6 L578.5 798.7 L578.9 798.7 L579.3 798.8 L579.7 798.9 L580 798.9 L580.4 798.9 L580.8 799 L581.1 799 L581.5 799 L581.9 799 L582.2 799 L582.6 799 L583 799 L583.3 798.9 L583.7 798.9 L584.1 798.8 L584.4 798.7 L584.8 798.6 L585.2 798.5 L585.6 798.4 L585.9 798.3 L586.3 798.1 L586.7 798 L587.1 797.8 L587.5 797.6 L587.9 797.4 L588.3 797.2 L588.7 796.9 L589.1 796.7 L589.6 796.4 L590 796.1 L590.5 795.8 L590.9 795.4 L591.4 795.1 L591.8 794.7 L592.3 794.3 L592.8 793.9 L593.3 793.5 L593.8 793 L594.3 792.5 L594.9 792 L595.4 791.4 L596 790.8 L596.5 790.2 L597.1 789.5 L597.7 788.8 L598.3 788 L598.9 787.3 L599.5 786.5 L600.1 785.7 L600.8 784.8 L601.4 784 L602 783.1 L602.7 782.2 L603.3 781.3 L604 780.4 L604.6 779.5 L605.3 778.5 L606 777.6 L606.6 776.7 L607.3 775.7 L608 774.8 L608.6 773.9 L609.3 772.9 L610 772 L610.6 771.1 L611.3 770.2 L611.9 769.3 L612.6 768.4 L613.2 767.6 L613.9 766.7 L614.5 765.9 L615.2 765.1 L615.8 764.3 L616.4 763.6 L617 762.9 L617.6 762.2 L618.2 761.5 L618.8 760.9 L619.4 760.3 L620 759.7 L620.5 759.2 L621.1 758.6 L621.7 758.1 L622.2 757.5 L622.8 757 L623.3 756.5 L623.9 756 L624.4 755.5 L625 755 L625.5 754.6 L626.1 754.1 L626.6 753.7 L627.1 753.3 L627.7 752.8 L628.2 752.4 L628.7 752 L629.2 751.6 L629.8 751.2 L630.3 750.8 L630.8 750.5 L631.4 750.1 L631.9 749.8 L632.4 749.4 L632.9 749.1 L633.4 748.7 L634 748.4 L634.5 748.1 L635 747.7 L635.5 747.4 L636.1 747.1 L636.6 746.8 L637.1 746.5 L637.6 746.2 L638.2 745.9 L638.7 745.6 L639.2 745.4 L639.8 745.1 L640.3 744.8 L640.8 744.5 L641.4 744.3 L642 744 L642.5 743.8 L643.1 743.5 L643.7 743.3 L644.3 743.1 L644.9 742.8 L645.5 742.6 L646.2 742.4 L646.8 742.2 L647.4 742 L648 741.9 L648.6 741.7 L649.3 741.5 L649.9 741.3 L650.5 741.2 L651.1 741 L651.7 740.9 L652.3 740.7 L652.9 740.6 L653.5 740.5 L654.1 740.3 L654.7 740.2 L655.2 740.1 L655.8 740 L656.3 739.9 L656.9 739.8 L657.4 739.7 L657.9 739.6 L658.3 739.5 L658.8 739.4 L659.2 739.3 L659.7 739.2 L660 739.1 L660.4 739 L660.8 738.9 L661.1 738.9 L661.4 738.8 L661.7 738.7 L661.7 729Z" fill="url(#w6)"/>
<linearGradient id="w7" gradientUnits="userSpaceOnUse" x1="0" y1="821" x2="0" y2="894"><stop offset="0" stop-color="#ef5868" stop-opacity="0"/><stop offset="1" stop-color="#ef5868"/></linearGradient><path d="M504.9 821 L504.9 821.9 L505.7 822.8 L506.4 823.7 L507.2 824.7 L508 825.7 L508.8 826.7 L509.6 827.8 L510.5 828.8 L511.3 829.9 L512.2 831 L513.1 832.1 L514 833.2 L514.9 834.3 L515.8 835.4 L516.7 836.5 L517.6 837.7 L518.5 838.8 L519.4 839.9 L520.2 841 L521.1 842.1 L522 843.2 L522.9 844.3 L523.7 845.3 L524.6 846.4 L525.4 847.4 L526.2 848.4 L527 849.4 L527.8 850.3 L528.6 851.3 L529.3 852.1 L530 853 L530.7 853.8 L531.4 854.7 L532.1 855.5 L532.7 856.4 L533.4 857.2 L534.1 858 L534.8 858.8 L535.4 859.7 L536.1 860.5 L536.7 861.3 L537.4 862.1 L538 862.9 L538.7 863.7 L539.3 864.5 L540 865.3 L540.6 866.1 L541.2 866.9 L541.9 867.6 L542.5 868.4 L543.1 869.2 L543.7 869.9 L544.3 870.6 L545 871.4 L545.6 872.1 L546.2 872.8 L546.8 873.5 L547.4 874.2 L548 874.9 L548.6 875.5 L549.2 876.2 L549.8 876.8 L550.4 877.5 L550.9 878.1 L551.5 878.7 L552.1 879.3 L552.7 879.8 L553.3 880.4 L553.8 881 L554.4 881.5 L555 882 L555.6 882.5 L556.1 883 L556.7 883.5 L557.3 884 L557.8 884.4 L558.4 884.9 L558.9 885.3 L559.5 885.8 L560 886.2 L560.6 886.6 L561.1 887 L561.6 887.4 L562.2 887.8 L562.7 888.2 L563.2 888.6 L563.7 888.9 L564.3 889.3 L564.8 889.6 L565.3 889.9 L565.8 890.2 L566.3 890.5 L566.8 890.8 L567.4 891.1 L567.9 891.3 L568.4 891.6 L568.9 891.8 L569.4 892 L569.9 892.2 L570.4 892.4 L570.9 892.6 L571.4 892.8 L571.9 892.9 L572.4 893.1 L572.9 893.2 L573.4 893.3 L573.9 893.4 L574.4 893.5 L574.9 893.5 L575.4 893.6 L575.9 893.6 L576.4 893.6 L576.9 893.6 L577.4 893.6 L577.9 893.5 L578.4 893.5 L578.9 893.4 L579.4 893.3 L579.9 893.2 L580.4 893.1 L580.9 892.9 L581.4 892.8 L581.8 892.6 L582.3 892.4 L582.8 892.2 L583.3 892 L583.8 891.8 L584.3 891.5 L584.8 891.3 L585.2 891 L585.7 890.7 L586.2 890.5 L586.7 890.2 L587.2 889.9 L587.6 889.6 L588.1 889.2 L588.6 888.9 L589 888.6 L589.5 888.3 L590 887.9 L590.5 887.6 L590.9 887.2 L591.4 886.9 L591.8 886.5 L592.3 886.2 L592.7 885.8 L593.2 885.4 L593.7 885.1 L594.1 884.7 L594.6 884.4 L595 884 L595.4 883.6 L595.9 883.3 L596.3 882.9 L596.7 882.5 L597.1 882.1 L597.5 881.7 L597.9 881.3 L598.3 880.9 L598.7 880.5 L599.1 880 L599.4 879.6 L599.8 879.2 L600.2 878.7 L600.6 878.3 L600.9 877.8 L601.3 877.3 L601.7 876.9 L602 876.4 L602.4 875.9 L602.8 875.4 L603.1 874.9 L603.5 874.4 L603.9 873.9 L604.3 873.4 L604.7 872.9 L605.1 872.4 L605.5 871.9 L605.9 871.3 L606.3 870.8 L606.7 870.3 L607.1 869.7 L607.6 869.2 L608 868.6 L608.5 868.1 L609 867.5 L609.4 867 L609.9 866.4 L610.4 865.8 L611 865.3 L611.5 864.7 L612 864.1 L612.6 863.5 L613.2 862.9 L613.8 862.3 L614.4 861.6 L615 860.9 L615.6 860.3 L616.2 859.6 L616.8 858.9 L617.5 858.1 L618.1 857.4 L618.8 856.7 L619.5 856 L620.1 855.2 L620.8 854.5 L621.5 853.7 L622.2 853 L622.9 852.2 L623.6 851.5 L624.3 850.7 L625 850 L625.7 849.3 L626.4 848.5 L627.1 847.8 L627.8 847.1 L628.5 846.4 L629.3 845.7 L630 845 L630.7 844.3 L631.4 843.6 L632.1 843 L632.8 842.4 L633.5 841.7 L634.2 841.1 L634.9 840.6 L635.5 840 L636.2 839.5 L636.9 839 L637.5 838.5 L638.2 838 L638.9 837.6 L639.5 837.1 L640.2 836.7 L640.9 836.3 L641.6 835.9 L642.3 835.5 L643 835.2 L643.8 834.8 L644.5 834.5 L645.2 834.2 L646 833.9 L646.7 833.6 L647.5 833.3 L648.2 833 L648.9 832.7 L649.7 832.5 L650.4 832.2 L651.1 832 L651.9 831.8 L652.6 831.5 L653.3 831.3 L654 831.1 L654.7 830.9 L655.3 830.7 L656 830.5 L656.6 830.4 L657.3 830.2 L657.9 830 L658.5 829.9 L659.1 829.7 L659.6 829.6 L660.2 829.4 L660.7 829.3 L661.2 829.2 L661.6 829 L662.1 828.9 L662.5 828.8 L662.9 828.6 L663.3 828.5 L663.6 828.4 L663.6 821Z" fill="url(#w7)"/>
<path d="M80.6 647.6C82.2 650 86.8 656.5 90 662C93.2 667.5 95.6 673.9 99.6 680.5C103.6 687.1 109.5 695.2 114.1 701.4C118.6 707.5 122.4 713.2 126.9 717.4C131.4 721.6 136.4 725.7 141 726.5C145.6 727.3 150.1 725.4 154.2 722.3C158.3 719.2 161.5 714 165.5 707.8C169.5 701.6 174.6 690.9 178.3 685.3C182.1 679.7 184.4 677.3 188 674.1C191.6 670.9 194.9 668 200 666C205.1 664 215.2 662.7 218.3 662" fill="none" stroke="#000" stroke-width="2.8" stroke-linecap="butt"/>
<path d="M42.3 813.4C47.5 820.1 64.2 842.3 73.8 853.4C83.4 864.5 92.8 873.1 100.1 879.7C107.4 886.3 110.8 892.8 117.6 892.8C124.4 892.8 134.2 885.8 141 879.7C147.8 873.6 152.7 862.7 158.5 856.4C164.3 850.1 169.2 845.9 176 841.8C182.8 837.6 192.2 833.9 199.3 831.5C206.4 829.1 215.1 828.3 218.3 827.7" fill="none" stroke="#000" stroke-width="2.8" stroke-linecap="butt"/>
<path d="M248.2 675.8C251.5 681.2 262.4 699.2 268.3 708.5C274.2 717.8 278.8 725.9 283.5 731.3C288.2 736.7 292.4 740.1 296.8 740.7C301.2 741.3 304.6 740.4 310 735C315.4 729.6 323.3 715.1 329 708.5C334.7 701.9 338.6 698.6 344.2 695.2C349.8 691.9 359.4 689.5 362.5 688.4" fill="none" stroke="#000" stroke-width="2.8" stroke-linecap="butt"/>
<path d="M380.6 705C383.4 709.4 392 723.4 397.3 731.3C402.6 739.1 408.1 747.7 412.5 752.1C416.9 756.5 419.4 758.6 424 757.8C428.6 756.9 434.3 752.6 440 747C445.7 741.4 453 729 458 724C463 719 466 718.7 470 717C474 715.3 479.9 714.3 481.9 713.8" fill="none" stroke="#000" stroke-width="2.8" stroke-linecap="butt"/>
<path d="M250.8 813.3C257.3 819.4 277.6 838.6 290 850C302.4 861.4 314.8 874.5 325 881.6C335.2 888.7 342.6 892.2 351.4 892.8C360.2 893.4 368.6 890.5 377.7 885.1C386.8 879.7 396.9 867.6 405.7 860.6C414.4 853.6 421.1 847.9 430.2 843.1C439.2 838.3 450.6 834.6 460 831.9C469.4 829.2 482.4 827.6 486.9 826.8" fill="none" stroke="#000" stroke-width="2.8" stroke-linecap="butt"/>
<path d="M516.1 725C520.7 731.6 536.1 754.3 543.7 764.5C551.3 774.7 555.9 780.3 561.6 786C567.3 791.7 572.3 797.3 577.7 798.5C583.1 799.7 586.9 799.3 593.8 793C600.6 786.7 611 768.9 618.8 760.9C626.5 752.9 633.1 748.5 640.3 744.8C647.4 741.1 658.1 739.7 661.7 738.7" fill="none" stroke="#000" stroke-width="2.8" stroke-linecap="butt"/>
<path d="M499.3 814.8C504.4 821.2 520.7 841.8 530 853C539.3 864.2 547.4 875.2 555 882C562.6 888.8 569.2 893.3 575.9 893.6C582.6 893.9 589.1 888.8 595 884C600.9 879.2 604.3 872.4 611.5 864.7C618.7 857 629.5 844 638.2 838C646.9 832 659.4 830 663.6 828.4" fill="none" stroke="#000" stroke-width="2.8" stroke-linecap="butt"/>
<rect x="32.7" y="626.1" width="647.9" height="315.4" fill="none" stroke="#000" stroke-width="2.5"/>
<line x1="98.7" y1="881.5" x2="98.7" y2="694" stroke="#9b62e2" stroke-width="3"/>
<path d="M93.9 695.8L103.6 695.8L98.8 684.3Z" fill="#9b62e2"/>
<path d="M149.5 728h3v3.2h-3zM149.5 734.6h3v3.2h-3zM149.5 741.2h3v3.2h-3zM149.5 747.8h3v3.2h-3zM149.5 754.4h3v3.2h-3zM149.5 761h3v3.2h-3zM149.5 767.6h3v3.2h-3zM149.5 774.2h3v3.2h-3zM149.5 780.8h3v3.2h-3zM149.5 787.4h3v3.2h-3zM149.5 794h3v3.2h-3zM149.5 800.6h3v3.2h-3zM149.5 807.2h3v3.2h-3zM149.5 813.8h3v3.2h-3zM149.5 820.4h3v3.2h-3zM149.5 827h3v3.2h-3zM149.5 833.6h3v3.2h-3zM149.5 840.2h3v3.2h-3zM149.5 846.8h3v3.2h-3zM149.5 853.4h3v3.2h-3z" fill="#1818fa"/><path d="M146.5 857.3L155.5 857.3L151 866.8Z" fill="#1818fa"/>
<path d="M402.3 748.5h3v3.2h-3zM402.3 755.1h3v3.2h-3zM402.3 761.7h3v3.2h-3zM402.3 768.3h3v3.2h-3zM402.3 774.9h3v3.2h-3zM402.3 781.5h3v3.2h-3zM402.3 788.1h3v3.2h-3zM402.3 794.7h3v3.2h-3zM402.3 801.3h3v3.2h-3zM402.3 807.9h3v3.2h-3zM402.3 814.5h3v3.2h-3zM402.3 821.1h3v3.2h-3zM402.3 827.7h3v3.2h-3zM402.3 834.3h3v3.2h-3zM402.3 840.9h3v3.2h-3zM402.3 847.5h3v3.2h-3z" fill="#ee9640"/><path d="M399.6 850.5L408.1 850.5L403.8 860Z" fill="#ee9640"/>
<path d="M592.7 796.5h3v3.2h-3zM592.7 803.1h3v3.2h-3zM592.7 809.7h3v3.2h-3zM592.7 816.3h3v3.2h-3zM592.7 822.9h3v3.2h-3zM592.7 829.5h3v3.2h-3zM592.7 836.1h3v3.2h-3zM592.7 842.7h3v3.2h-3zM592.7 849.3h3v3.2h-3zM592.7 855.9h3v3.2h-3z" fill="#ee3a4c"/><path d="M590 864.3L598.5 864.3L594.2 873.8Z" fill="#ee3a4c"/>
<path d="M216.4 651.8C229 649.5 241 652.5 250 660.5" fill="none" stroke="#000" stroke-width="3.3"/>
<path d="M244 665.6L254.7 655.6L259.3 670.9Z" fill="#000"/>
<path d="M357.6 676C368 677 379 683 389 694" fill="none" stroke="#7a7a7a" stroke-width="2.9" stroke-dasharray="6.5 3.6"/>
<path d="M382.6 697L395 691.1L395.7 707.6Z" fill="#7a7a7a"/>
<path d="M480.6 703.9C493 702 505 705 514.5 712.8" fill="none" stroke="#000" stroke-width="3.3"/>
<path d="M508.9 717.7L519.4 707.2L524.6 722.3Z" fill="#000"/>
<path d="M60.8 758.9 66.3 752.7 68.7 755 72.5 744.3 74.9 746.7 83.7 734 80.3 750.5 77.7 748.1 75.4 758.6 72.3 756.4 70 769.1Z" fill="#a060f0" stroke="#a060f0" stroke-width="4.5" stroke-linejoin="round" filter="url(#glow)" opacity="0.75"/><path d="M60.8 758.9 66.3 752.7 68.7 755 72.5 744.3 74.9 746.7 83.7 734 80.3 750.5 77.7 748.1 75.4 758.6 72.3 756.4 70 769.1Z" fill="#9a52ea"/><path d="M60.8 758.9 66.3 752.7 68.7 755 65.4 764Z" fill="#c090f8" opacity="0.8"/><path d="M68.7 755 72.5 744.3 74.9 746.7 70.6 755.4Z" fill="#c090f8" opacity="0.8"/><path d="M74.9 746.7 83.7 734 75.7 747.1Z" fill="#c090f8" opacity="0.8"/>
<path d="M174 756.5 178.8 763.4 176.3 764.8 185.7 771.7 183.1 773.1 193.5 785 178.7 776.6 181.3 775.1 171.9 769.6 174.4 767.6 163 761.5Z" fill="#4a4aff" stroke="#4a4aff" stroke-width="4.5" stroke-linejoin="round" filter="url(#glow)" opacity="0.75"/><path d="M174 756.5 178.8 763.4 176.3 764.8 185.7 771.7 183.1 773.1 193.5 785 178.7 776.6 181.3 775.1 171.9 769.6 174.4 767.6 163 761.5Z" fill="#2424f4"/><path d="M174 756.5 178.8 763.4 176.3 764.8 168.5 759Z" fill="#5a5aff" opacity="0.8"/><path d="M176.3 764.8 185.7 771.7 183.1 773.1 175.7 766.4Z" fill="#5a5aff" opacity="0.8"/><path d="M183.1 773.1 193.5 785 182.6 773.7Z" fill="#5a5aff" opacity="0.8"/>
<path d="M425.9 772.5 430.5 779.7 427.9 781 437 788.3 434.4 789.6 444.3 802 429.8 793 432.5 791.5 423.3 785.6 425.9 783.7 414.7 777.1Z" fill="#f0a850" stroke="#f0a850" stroke-width="4.5" stroke-linejoin="round" filter="url(#glow)" opacity="0.75"/><path d="M425.9 772.5 430.5 779.7 427.9 781 437 788.3 434.4 789.6 444.3 802 429.8 793 432.5 791.5 423.3 785.6 425.9 783.7 414.7 777.1Z" fill="#eea040"/><path d="M425.9 772.5 430.5 779.7 427.9 781 420.3 774.8Z" fill="#f8d070" opacity="0.8"/><path d="M427.9 781 437 788.3 434.4 789.6 427.2 782.6Z" fill="#f8d070" opacity="0.8"/><path d="M434.4 789.6 444.3 802 433.9 790.2Z" fill="#f8d070" opacity="0.8"/>
<path d="M617.1 794.4 621.8 801.5 619.3 802.8 628.5 809.9 625.9 811.2 636 823.4 621.4 814.7 624.1 813.2 614.8 807.5 617.3 805.6 606.1 799.2Z" fill="#f05a68" stroke="#f05a68" stroke-width="4.5" stroke-linejoin="round" filter="url(#glow)" opacity="0.75"/><path d="M617.1 794.4 621.8 801.5 619.3 802.8 628.5 809.9 625.9 811.2 636 823.4 621.4 814.7 624.1 813.2 614.8 807.5 617.3 805.6 606.1 799.2Z" fill="#f04656"/><path d="M617.1 794.4 621.8 801.5 619.3 802.8 611.6 796.8Z" fill="#f88890" opacity="0.8"/><path d="M619.3 802.8 628.5 809.9 625.9 811.2 618.6 804.4Z" fill="#f88890" opacity="0.8"/><path d="M625.9 811.2 636 823.4 625.4 811.8Z" fill="#f88890" opacity="0.8"/>
<text x="124.96" y="666.90" font-size="17.54" font-weight="bold" font-style="italic" fill="#1818fa" textLength="33.65" lengthAdjust="spacingAndGlyphs">BTA</text>
<text x="192.20" y="655.42" font-size="18.31" font-weight="bold" fill="#1818fa" textLength="11.01" lengthAdjust="spacingAndGlyphs">S</text>
<text x="203.56" y="659.40" font-size="13.33" font-weight="bold" fill="#1818fa" textLength="5.50" lengthAdjust="spacingAndGlyphs">1</text>
<text x="236.77" y="645.60" font-size="16.67" font-weight="bold" font-style="italic" fill="#000" textLength="43.68" lengthAdjust="spacingAndGlyphs">FRET</text>
<text x="336.70" y="681.83" font-size="16.76" font-weight="bold" fill="#ee9640" textLength="11.01" lengthAdjust="spacingAndGlyphs">S</text>
<text x="348.44" y="685.90" font-size="11.45" font-weight="bold" fill="#ee9640" textLength="4.78" lengthAdjust="spacingAndGlyphs">1</text>
<text x="380.27" y="676.53" font-size="16.62" font-weight="bold" font-style="italic" fill="#7a7a7a" textLength="27.72" lengthAdjust="spacingAndGlyphs">ISC</text>
<text x="333.04" y="742.38" font-size="17.25" font-weight="bold" font-style="italic" fill="#ee9640" textLength="39.97" lengthAdjust="spacingAndGlyphs">S-Ag</text>
<text x="372.53" y="746.38" font-size="11.83" font-weight="bold" font-style="italic" fill="#ee9640" textLength="5.83" lengthAdjust="spacingAndGlyphs">6</text>
<text x="460.72" y="706.50" font-size="17.10" font-weight="bold" fill="#ee9640" textLength="10.87" lengthAdjust="spacingAndGlyphs">T</text>
<text x="471.55" y="710.50" font-size="11.45" font-weight="bold" fill="#ee9640" textLength="4.66" lengthAdjust="spacingAndGlyphs">1</text>
<text x="499.14" y="697.30" font-size="17.10" font-weight="bold" font-style="italic" fill="#000" textLength="41.39" lengthAdjust="spacingAndGlyphs">TTET</text>
<text x="560.35" y="739.92" font-size="18.03" font-weight="bold" font-style="italic" fill="#ee3a4c" textLength="38.34" lengthAdjust="spacingAndGlyphs">S-Cu</text>
<text x="598.60" y="743.18" font-size="12.39" font-weight="bold" font-style="italic" fill="#ee3a4c" textLength="7.45" lengthAdjust="spacingAndGlyphs">6</text>
<text x="643.91" y="730.50" font-size="17.54" font-weight="bold" fill="#ee3a4c" textLength="11.70" lengthAdjust="spacingAndGlyphs">T</text>
<text x="654.84" y="734.50" font-size="11.59" font-weight="bold" fill="#ee3a4c" textLength="4.78" lengthAdjust="spacingAndGlyphs">1</text>
<text x="40.80" y="809.23" font-size="17.18" font-weight="bold" fill="#1818fa" textLength="11.12" lengthAdjust="spacingAndGlyphs">S</text>
<text x="51.93" y="813.37" font-size="12.96" font-weight="bold" fill="#1818fa" textLength="6.56" lengthAdjust="spacingAndGlyphs">0</text>
<text x="249.30" y="809.53" font-size="17.18" font-weight="bold" fill="#ee9640" textLength="11.12" lengthAdjust="spacingAndGlyphs">S</text>
<text x="260.43" y="813.67" font-size="12.96" font-weight="bold" fill="#ee9640" textLength="6.56" lengthAdjust="spacingAndGlyphs">0</text>
<text x="496.20" y="809.93" font-size="17.18" font-weight="bold" fill="#ee3a4c" textLength="11.12" lengthAdjust="spacingAndGlyphs">S</text>
<text x="507.33" y="814.07" font-size="12.96" font-weight="bold" fill="#ee3a4c" textLength="6.56" lengthAdjust="spacingAndGlyphs">0</text>
<text x="90.16" y="909.03" font-size="17.29" font-weight="bold" font-style="italic" fill="#1818fa" textLength="49.36" lengthAdjust="spacingAndGlyphs">Donor</text>
<text x="312.64" y="908.33" font-size="17.00" font-weight="bold" font-style="italic" fill="#ee9640" textLength="83.31" lengthAdjust="spacingAndGlyphs">Acceptor I</text>
<text x="527.34" y="908.31" font-size="17.11" font-weight="bold" font-style="italic" fill="#ee3a4c" textLength="88.86" lengthAdjust="spacingAndGlyphs">Acceptor II</text>
<text x="41.85" y="741.50" font-size="16.80" font-weight="bold" font-style="italic" fill="#9b62e2" textLength="9.25" lengthAdjust="spacingAndGlyphs">λ</text>
<text x="50.17" y="745.06" font-size="14.36" font-weight="bold" font-style="italic" fill="#9b62e2" textLength="12.07" lengthAdjust="spacingAndGlyphs">ex</text>
<text x="197.09" y="778.10" font-size="15.47" font-weight="bold" font-style="italic" fill="#1818fa" textLength="8.52" lengthAdjust="spacingAndGlyphs">λ</text>
<text x="205.37" y="782.17" font-size="12.73" font-weight="bold" font-style="italic" fill="#1818fa" textLength="15.87" lengthAdjust="spacingAndGlyphs">em</text>
<text x="220.81" y="784.70" font-size="10.72" font-weight="bold" font-style="italic" fill="#1818fa" textLength="6.88" lengthAdjust="spacingAndGlyphs">1</text>
<text x="449.59" y="794.60" font-size="15.47" font-weight="bold" font-style="italic" fill="#ee9640" textLength="8.52" lengthAdjust="spacingAndGlyphs">λ</text>
<text x="457.87" y="798.67" font-size="12.73" font-weight="bold" font-style="italic" fill="#ee9640" textLength="15.87" lengthAdjust="spacingAndGlyphs">em</text>
<text x="473.66" y="801.20" font-size="10.57" font-weight="bold" font-style="italic" fill="#ee9640" textLength="5.96" lengthAdjust="spacingAndGlyphs">2</text>
<text x="637.29" y="809.30" font-size="15.47" font-weight="bold" font-style="italic" fill="#ee3a4c" textLength="8.52" lengthAdjust="spacingAndGlyphs">λ</text>
<text x="645.57" y="813.37" font-size="12.73" font-weight="bold" font-style="italic" fill="#ee3a4c" textLength="15.87" lengthAdjust="spacingAndGlyphs">em</text>
<text x="661.09" y="815.80" font-size="10.42" font-weight="bold" font-style="italic" fill="#ee3a4c" textLength="6.24" lengthAdjust="spacingAndGlyphs">3</text>
<path d="M44 917.2H653.3V908.5L670.7 922.3L653.3 936.5V927.8H44Z" fill="url(#gbar)"/>
<text x="4.83" y="644.56" font-size="34.36" font-weight="bold" textLength="19.00" lengthAdjust="spacingAndGlyphs">e</text>
</svg></body></html>
